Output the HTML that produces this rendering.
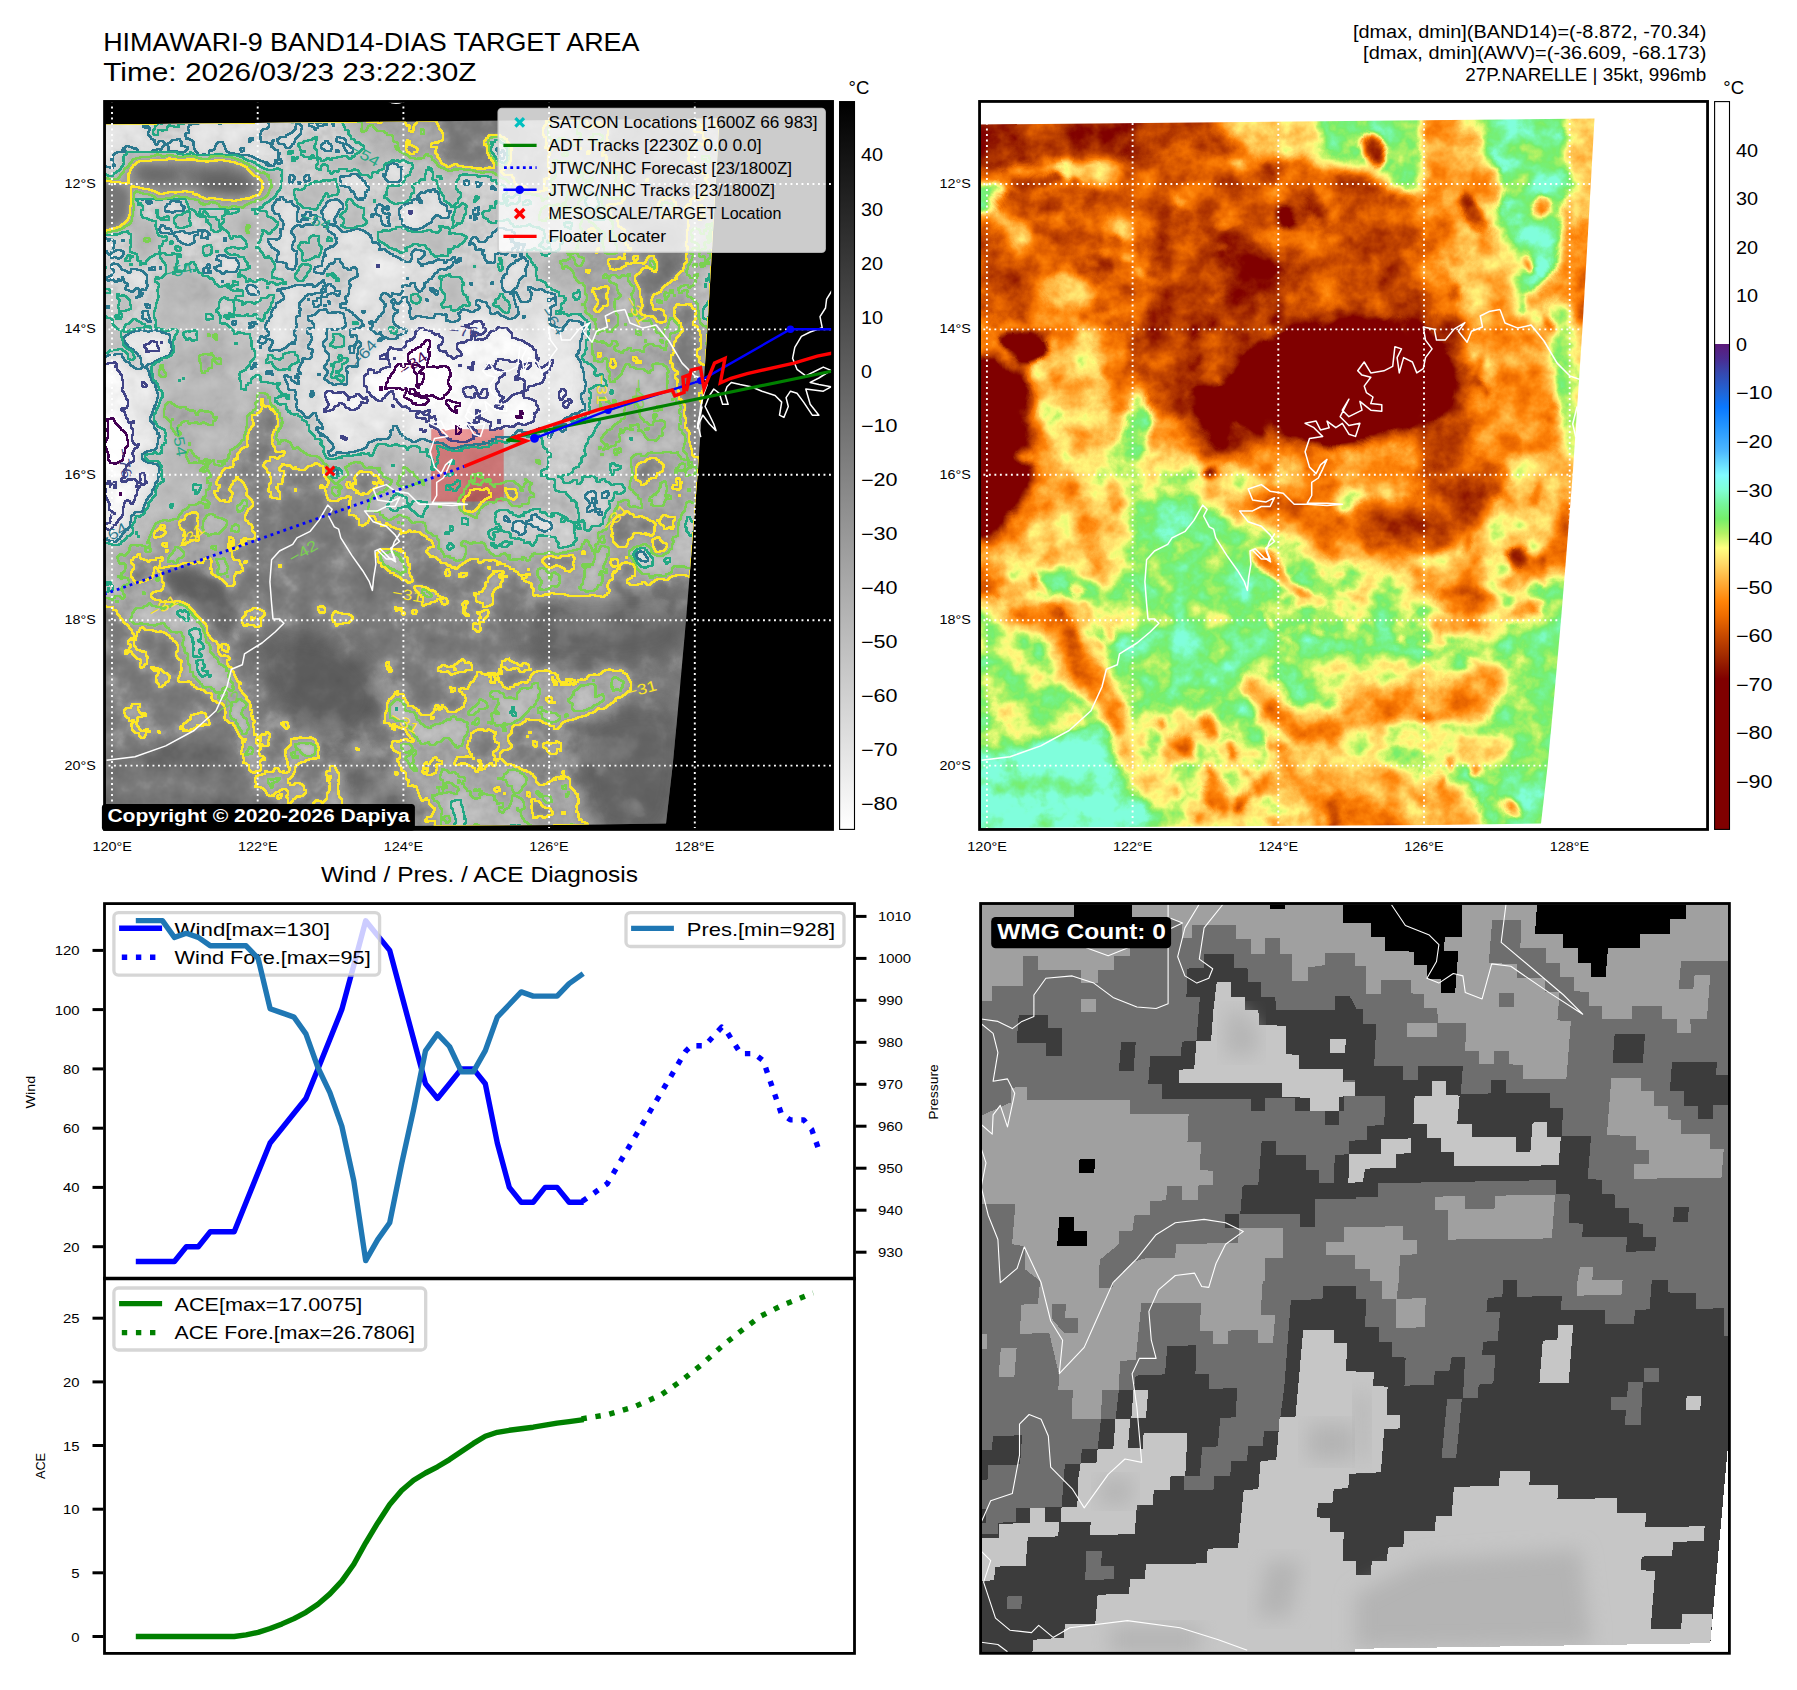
<!DOCTYPE html>
<html><head><meta charset="utf-8"><title>fig</title>
<style>html,body{margin:0;padding:0;background:#fff}svg{display:block}text{font-family:"Liberation Sans",sans-serif}</style>
</head><body>
<svg width="1797" height="1690" viewBox="0 0 1797 1690">
<rect width="1797" height="1690" fill="#fff"/>
<defs>
<clipPath id="clipA"><rect x="104.5" y="101.5" width="728" height="728"/></clipPath>
<clipPath id="clipB"><rect x="979.5" y="101.5" width="728" height="728"/></clipPath>
<clipPath id="clipD"><rect x="980.5" y="903.5" width="749" height="749"/></clipPath>
<linearGradient id="cbA" x1="0" y1="0" x2="0" y2="1"><stop offset="0" stop-color="#000"/><stop offset="1" stop-color="#fff"/></linearGradient>
<linearGradient id="cbB" x1="0" y1="0" x2="0" y2="1">

<stop offset="0" stop-color="#fff"/>
<stop offset="0.3333" stop-color="#fff"/>
<stop offset="0.3333" stop-color="#5c1a7a"/>
<stop offset="0.3533" stop-color="#4a2c92"/>
<stop offset="0.3733" stop-color="#3549b0"/>
<stop offset="0.4000" stop-color="#1f66d8"/>
<stop offset="0.4200" stop-color="#0a78ff"/>
<stop offset="0.4467" stop-color="#2496ff"/>
<stop offset="0.4800" stop-color="#4db8ff"/>
<stop offset="0.5133" stop-color="#80fbff"/>
<stop offset="0.5333" stop-color="#80ffd6"/>
<stop offset="0.5533" stop-color="#76f59a"/>
<stop offset="0.5733" stop-color="#74ee6a"/>
<stop offset="0.5933" stop-color="#b4f264"/>
<stop offset="0.6133" stop-color="#ffff80"/>
<stop offset="0.6333" stop-color="#ffdc6a"/>
<stop offset="0.6600" stop-color="#ffae3a"/>
<stop offset="0.6867" stop-color="#ff8408"/>
<stop offset="0.7067" stop-color="#ee6c00"/>
<stop offset="0.7333" stop-color="#c84a00"/>
<stop offset="0.7600" stop-color="#a42c00"/>
<stop offset="0.7800" stop-color="#8c1200"/>
<stop offset="0.7933" stop-color="#800000"/>
<stop offset="1.0000" stop-color="#800000"/>
</linearGradient>
<clipPath id="swA"><path d="M103,124.5 L719.5,118.6 L712,250 L707.3,330 L698,470 L690.9,560 L685.9,621 L679.6,692 L672.7,765 L666,823.4 L560,825 L103,828 Z"/></clipPath>
<clipPath id="swB"><path d="M103,124.5 L719.5,118.6 L712,250 L707.3,330 L698,470 L690.9,560 L685.9,621 L679.6,692 L672.7,765 L666,823.4 L560,825 L103,828 Z" transform="translate(875,0)"/></clipPath>
<filter id="bls" x="-20%" y="-20%" width="140%" height="140%"><feGaussianBlur stdDeviation="2"/></filter>
<filter id="blm" x="-20%" y="-20%" width="140%" height="140%"><feGaussianBlur stdDeviation="4.5"/></filter>
<filter id="bll" x="-20%" y="-20%" width="140%" height="140%"><feGaussianBlur stdDeviation="10"/></filter>
<filter id="blx" x="-20%" y="-20%" width="140%" height="140%"><feGaussianBlur stdDeviation="18"/></filter>
<g id="fld">
<rect x="960" y="90" width="770" height="760" fill="#505050"/>
<path d="M957.5,100.0C1067.0,23.4 1506.3,48.9 1614.3,100.0C1722.3,151.1 1617.2,333.5 1605.5,406.5C1593.9,479.5 1576.3,510.1 1544.2,537.9C1512.1,565.6 1456.7,572.9 1412.9,572.9C1369.1,572.9 1323.8,551.0 1281.5,537.9C1239.2,524.7 1191.7,494.1 1158.9,494.1C1126.1,494.1 1118.0,526.9 1084.5,537.9C1050.9,548.8 978.6,632.7 957.5,559.8C936.3,486.8 848.0,176.6 957.5,100.0Z" fill="#808080" filter="url(#bll)"/>
<path d="M957.5,572.9C978.6,521.8 1050.9,559.8 1084.5,546.6C1118.0,533.5 1126.1,494.8 1158.9,494.1C1191.7,493.4 1239.2,528.4 1281.5,542.2C1323.8,556.1 1369.1,576.5 1412.9,577.3C1456.7,578.0 1515.0,545.9 1544.2,546.6C1573.4,547.4 1580.7,530.6 1588.0,581.7C1595.3,632.7 1693.1,807.9 1588.0,853.1C1482.9,898.4 1062.6,899.8 957.5,853.1C852.4,806.4 936.3,624.0 957.5,572.9Z" fill="#3a3a3a" filter="url(#bll)"/>
<path d="M957.5,218.2C986.7,200.3 1102.7,199.2 1132.6,216.0C1162.6,232.8 1166.2,301.1 1137.0,318.9C1107.8,336.8 987.4,340.1 957.5,323.3C927.6,306.5 928.3,236.1 957.5,218.2Z" fill="#666666" filter="url(#bll)"/>
<path d="M1036.3,338.6C1052.4,312.7 1116.6,305.4 1132.6,338.6C1148.7,371.8 1140.7,504.7 1132.6,537.9C1124.6,571.1 1100.5,545.2 1084.5,537.9C1068.4,530.6 1044.3,527.3 1036.3,494.1C1028.3,460.9 1020.2,364.5 1036.3,338.6Z" fill="#666666" filter="url(#bll)"/>
<path d="M1141.4,310.2C1164.7,286.8 1258.2,297.8 1281.5,310.2C1304.9,322.6 1294.6,361.3 1281.5,384.6C1268.4,408.0 1226.0,439.3 1202.7,450.3C1179.3,461.2 1151.6,473.6 1141.4,450.3C1131.2,426.9 1118.0,333.5 1141.4,310.2Z" fill="#a8a8a8" filter="url(#bll)"/>
<path d="M1524.5,327.7C1534.0,307.3 1586.2,300.0 1596.8,327.7C1607.4,355.4 1594.6,451.8 1588.0,494.1C1581.4,536.4 1568.3,567.1 1557.4,581.7C1546.4,596.2 1525.3,603.5 1522.3,581.7C1519.4,559.8 1539.5,492.6 1539.8,450.3C1540.2,408.0 1515.0,348.1 1524.5,327.7Z" fill="#5b5b5b" filter="url(#bll)"/>
<path d="M1426.0,126.3C1436.2,106.6 1480.4,106.6 1491.7,126.3C1503.0,146.0 1504.1,224.8 1493.9,244.5C1483.7,264.2 1441.7,264.2 1430.4,244.5C1419.1,224.8 1415.8,146.0 1426.0,126.3Z" fill="#6d6d6d" filter="url(#bll)"/>
<path d="M1491.7,108.8C1510.3,95.6 1587.3,95.6 1605.5,108.8C1623.8,121.9 1619.8,174.4 1601.1,187.6C1582.5,200.7 1512.1,200.7 1493.9,187.6C1475.6,174.4 1473.1,121.9 1491.7,108.8Z" fill="#494949" filter="url(#bll)"/>
<path d="M957.5,599.2C967.7,583.8 1001.3,615.2 1018.8,629.8C1036.3,644.4 1051.6,671.4 1062.6,686.7C1073.5,702.1 1102.0,715.9 1084.5,721.8C1067.0,727.6 978.6,742.2 957.5,721.8C936.3,701.3 947.3,614.5 957.5,599.2Z" fill="#454545" filter="url(#bll)"/>
<path d="M957.5,721.8C971.4,698.4 1015.9,708.6 1040.7,713.0C1065.5,717.4 1089.6,733.4 1106.4,748.0C1123.1,762.6 1135.6,783.1 1141.4,800.6C1147.2,818.1 1172.0,844.4 1141.4,853.1C1110.7,861.9 988.1,875.0 957.5,853.1C926.8,831.2 943.6,745.1 957.5,721.8Z" fill="#242424" filter="url(#bll)"/>
<path d="M1150.1,748.0C1218.0,730.5 1490.2,730.5 1557.4,748.0C1624.5,765.6 1620.9,835.6 1553.0,853.1C1485.1,870.6 1217.3,870.6 1150.1,853.1C1083.0,835.6 1082.3,765.6 1150.1,748.0Z" fill="#5b5b5b" filter="url(#bll)"/>
<path d="M1412.9,559.8C1438.4,541.5 1541.3,541.5 1566.1,559.8C1590.9,578.0 1587.3,651.0 1561.7,669.2C1536.2,687.5 1437.7,687.5 1412.9,669.2C1388.1,651.0 1387.3,578.0 1412.9,559.8Z" fill="#4c4c4c" filter="url(#bll)"/>
<path d="M966.2,113.1C1004.2,104.4 1152.3,111.3 1193.9,113.1C1235.5,115.0 1210.3,119.0 1215.8,124.1C1221.3,129.2 1230.4,138.3 1226.8,143.8C1223.1,149.3 1209.6,153.3 1193.9,156.9C1178.2,160.6 1154.5,163.1 1132.6,165.7C1110.7,168.2 1081.5,172.2 1062.6,172.2C1043.6,172.2 1034.8,166.8 1018.8,165.7C1002.7,164.6 975.0,174.4 966.2,165.7C957.5,156.9 928.3,121.9 966.2,113.1Z" fill="#999999" filter="url(#blm)"/>
<path d="M1069.1,127.4C1079.0,123.5 1121.7,121.0 1132.6,125.2C1143.6,129.4 1139.2,147.2 1134.8,152.5C1130.4,157.8 1116.6,157.6 1106.3,156.9C1096.1,156.2 1079.7,153.1 1073.5,148.2C1067.3,143.2 1059.3,131.2 1069.1,127.4Z" fill="#a8a8a8" filter="url(#blm)"/>
<path d="M966.2,137.2C974.3,133.2 1004.6,136.1 1014.4,139.4C1024.3,142.7 1026.4,152.2 1025.4,156.9C1024.3,161.7 1017.7,166.8 1007.8,167.9C998.0,169.0 973.2,168.6 966.2,163.5C959.3,158.4 958.2,141.2 966.2,137.2Z" fill="#a8a8a8" filter="url(#blm)"/>
<path d="M1167.6,128.5C1169.5,125.5 1180.4,121.9 1193.9,126.3C1207.4,130.6 1243.2,149.6 1248.6,154.7C1254.1,159.8 1237.7,158.7 1226.8,156.9C1215.8,155.1 1192.8,148.5 1183.0,143.8C1173.1,139.0 1165.8,131.4 1167.6,128.5Z" fill="#9d9d9d" filter="url(#blm)"/>
<path d="M1003.5,172.2C1010.8,167.5 1041.8,164.6 1062.6,163.5C1083.4,162.4 1116.6,162.4 1128.2,165.7C1139.9,169.0 1143.6,179.5 1132.6,183.2C1121.7,186.8 1081.5,186.1 1062.6,187.6C1043.6,189.0 1028.6,194.5 1018.8,191.9C1008.9,189.4 996.2,177.0 1003.5,172.2Z" fill="#626262" filter="url(#blm)"/>
<path d="M1058.2,165.7C1060.7,162.6 1072.4,162.8 1075.7,165.7C1079.0,168.6 1080.4,180.1 1077.9,183.2C1075.3,186.3 1063.7,187.2 1060.4,184.3C1057.1,181.4 1055.6,168.8 1058.2,165.7Z" fill="#4c4c4c" filter="url(#bls)"/>
<path d="M1005.6,176.6C1010.4,173.7 1038.5,171.1 1047.2,172.2C1056.0,173.3 1062.9,180.3 1058.2,183.2C1053.4,186.1 1027.5,190.8 1018.8,189.8C1010.0,188.7 1000.9,179.5 1005.6,176.6Z" fill="#999999" filter="url(#bls)"/>
<path d="M966.2,185.4C971.7,179.7 992.9,182.1 999.1,184.3C1005.3,186.5 1003.8,193.2 1003.5,198.5C1003.1,203.8 1003.1,212.7 996.9,216.0C990.7,219.3 971.4,223.3 966.2,218.2C961.1,213.1 960.8,191.0 966.2,185.4Z" fill="#373737" filter="url(#bls)"/>
<path d="M1003.5,194.1C1022.4,189.2 1106.7,188.3 1128.2,189.8C1149.8,191.2 1133.0,198.0 1132.6,202.9C1132.3,207.8 1137.7,217.8 1126.1,219.3C1114.4,220.8 1081.2,211.6 1062.6,211.6C1044.0,211.6 1024.3,222.2 1014.4,219.3C1004.6,216.4 984.5,199.1 1003.5,194.1Z" fill="#959595" filter="url(#blm)"/>
<path d="M966.2,218.2C974.3,201.6 998.4,220.4 1014.4,219.3C1030.5,218.2 1042.9,211.6 1062.6,211.6C1082.3,211.6 1120.9,201.4 1132.6,219.3C1144.3,237.2 1160.3,302.3 1132.6,318.9C1104.9,335.5 994.0,335.7 966.2,318.9C938.5,302.1 958.2,234.8 966.2,218.2Z" fill="#878787" filter="url(#blm)"/>
<path d="M999.1,223.7C1001.6,220.0 1019.9,218.4 1025.4,220.4C1030.8,222.4 1034.5,232.1 1031.9,235.7C1029.4,239.4 1015.5,244.3 1010.0,242.3C1004.6,240.3 996.5,227.3 999.1,223.7Z" fill="#626262" filter="url(#blm)"/>
<path d="M1108.5,219.3C1111.5,215.7 1126.4,214.7 1130.4,218.2C1134.4,221.7 1135.5,236.5 1132.6,240.1C1129.7,243.8 1116.9,243.6 1112.9,240.1C1108.9,236.6 1105.6,223.0 1108.5,219.3Z" fill="#626262" filter="url(#blm)"/>
<path d="M1045.1,281.7C1048.2,277.5 1058.9,274.0 1066.9,275.1C1075.0,276.2 1089.6,282.8 1093.2,288.3C1096.9,293.7 1093.9,303.8 1088.8,308.0C1083.7,312.2 1069.3,314.7 1062.6,313.4C1055.8,312.2 1051.3,305.6 1048.3,300.3C1045.4,295.0 1042.0,285.9 1045.1,281.7Z" fill="#5f5f5f" filter="url(#blm)"/>
<path d="M983.8,266.4C988.1,255.4 1010.8,250.0 1018.8,253.2C1026.8,256.5 1030.5,275.1 1031.9,286.1C1033.4,297.0 1034.1,313.4 1027.5,318.9C1021.0,324.4 999.8,327.7 992.5,318.9C985.2,310.2 979.4,277.3 983.8,266.4Z" fill="#929292" filter="url(#blm)"/>
<path d="M1069.1,231.3C1073.5,226.6 1099.4,235.0 1106.3,242.3C1113.3,249.6 1115.1,270.4 1110.7,275.1C1106.3,279.9 1087.0,278.1 1080.1,270.8C1073.1,263.5 1064.8,236.1 1069.1,231.3Z" fill="#8e8e8e" filter="url(#blm)"/>
<path d="M1080.1,315.6C1081.2,313.8 1088.8,315.1 1091.0,316.7C1093.2,318.4 1094.3,323.7 1093.2,325.5C1092.1,327.3 1086.6,329.3 1084.5,327.7C1082.3,326.0 1079.0,317.5 1080.1,315.6Z" fill="#afafaf" filter="url(#bls)"/>
<path d="M966.2,318.9C994.0,315.3 1104.9,315.3 1132.6,318.9C1160.3,322.6 1160.3,337.2 1132.6,340.8C1104.9,344.5 994.0,344.5 966.2,340.8C938.5,337.2 938.5,322.6 966.2,318.9Z" fill="#757575" filter="url(#blm)"/>
<path d="M1003.5,332.0C1011.9,328.4 1050.5,330.2 1060.4,332.0C1070.2,333.9 1064.8,339.7 1062.6,343.0C1060.4,346.3 1051.3,348.1 1047.2,351.8C1043.2,355.4 1042.5,362.5 1038.5,364.9C1034.5,367.3 1027.9,367.8 1023.2,366.0C1018.4,364.2 1013.3,359.6 1010.0,353.9C1006.7,348.3 995.1,335.7 1003.5,332.0Z" fill="#c5c5c5" filter="url(#bls)"/>
<path d="M1029.7,340.8C1046.5,329.1 1114.7,313.8 1132.6,336.4C1150.5,359.0 1152.3,453.2 1137.0,476.5C1121.7,499.9 1058.2,488.2 1040.7,476.5C1023.2,464.9 1033.7,429.1 1031.9,406.5C1030.1,383.9 1012.9,352.5 1029.7,340.8Z" fill="#6d6d6d" filter="url(#blm)"/>
<path d="M966.2,362.7C975.0,343.7 1006.7,359.0 1018.8,362.7C1030.8,366.3 1034.1,373.6 1038.5,384.6C1042.9,395.5 1044.3,413.0 1045.1,428.4C1045.8,443.7 1056.0,468.5 1042.9,476.5C1029.7,484.6 979.0,495.5 966.2,476.5C953.5,457.6 957.5,381.7 966.2,362.7Z" fill="#929292" filter="url(#bll)"/>
<path d="M966.2,371.5C973.2,353.8 998.5,368.2 1007.8,370.4C1017.1,372.5 1019.0,374.9 1022.1,384.6C1025.2,394.3 1026.1,413.0 1026.4,428.4C1026.8,443.7 1034.3,468.5 1024.3,476.5C1014.2,484.6 975.9,494.0 966.2,476.5C956.6,459.0 959.3,389.1 966.2,371.5Z" fill="#c8c8c8" filter="url(#blm)"/>
<path d="M1031.9,373.6C1030.5,356.1 1041.4,354.3 1049.4,371.5C1057.5,388.6 1078.6,459.0 1080.1,476.5C1081.5,494.0 1066.2,493.7 1058.2,476.5C1050.2,459.4 1033.4,391.2 1031.9,373.6Z" fill="#545454" filter="url(#blm)"/>
<path d="M1071.3,340.8C1072.1,331.0 1083.0,325.5 1088.8,336.4C1094.7,347.4 1102.0,383.1 1106.3,406.5C1110.7,429.8 1116.6,464.9 1115.1,476.5C1113.6,488.2 1102.7,490.0 1097.6,476.5C1092.5,463.0 1088.8,418.2 1084.5,395.5C1080.1,372.9 1070.6,350.7 1071.3,340.8Z" fill="#545454" filter="url(#blm)"/>
<path d="M1097.6,340.8C1100.5,328.4 1126.4,321.1 1132.6,332.0C1138.8,343.0 1137.7,394.1 1134.8,406.5C1131.9,418.9 1121.3,417.4 1115.1,406.5C1108.9,395.5 1094.7,353.2 1097.6,340.8Z" fill="#808080" filter="url(#blm)"/>
<path d="M1141.4,384.6C1145.4,380.2 1149.8,385.7 1152.3,391.2C1154.9,396.6 1157.1,409.0 1156.7,417.4C1156.3,425.8 1150.1,431.7 1150.1,441.5C1150.1,451.4 1167.6,470.7 1156.7,476.5C1145.8,482.4 1095.0,480.9 1084.5,476.5C1073.9,472.2 1088.1,456.1 1093.2,450.3C1098.3,444.4 1109.3,447.0 1115.1,441.5C1120.9,436.0 1123.9,426.9 1128.2,417.4C1132.6,407.9 1137.4,389.0 1141.4,384.6Z" fill="#373737" filter="url(#blm)"/>
<path d="M1132.6,154.7C1157.4,143.4 1256.7,142.7 1281.5,154.7C1306.3,166.8 1292.4,215.7 1281.5,227.0C1270.5,238.3 1235.9,222.6 1215.8,222.6C1195.7,222.6 1174.9,227.0 1161.1,227.0C1147.2,227.0 1137.4,234.6 1132.6,222.6C1127.9,210.6 1107.8,166.0 1132.6,154.7Z" fill="#8a8a8a" filter="url(#bll)"/>
<path d="M1161.1,229.2C1164.7,225.5 1184.8,232.1 1193.9,231.3C1203.0,230.6 1206.7,224.8 1215.8,224.8C1224.9,224.8 1239.5,226.6 1248.6,231.3C1257.8,236.1 1265.4,245.2 1270.5,253.2C1275.6,261.3 1279.3,272.2 1279.3,279.5C1279.3,286.8 1275.6,295.6 1270.5,297.0C1265.4,298.5 1255.9,291.9 1248.6,288.3C1241.3,284.6 1235.9,276.2 1226.8,275.1C1217.6,274.0 1203.0,285.3 1193.9,281.7C1184.8,278.1 1177.5,262.0 1172.0,253.2C1166.5,244.5 1157.4,232.8 1161.1,229.2Z" fill="#a8a8a8" filter="url(#blm)"/>
<path d="M1233.3,244.5C1238.8,243.0 1258.9,248.1 1266.2,253.2C1273.5,258.3 1276.7,268.6 1277.1,275.1C1277.5,281.7 1273.5,291.9 1268.3,292.6C1263.2,293.4 1252.3,284.6 1246.5,279.5C1240.6,274.4 1235.5,267.8 1233.3,262.0C1231.1,256.2 1227.8,245.9 1233.3,244.5Z" fill="#bdbdbd" filter="url(#blm)"/>
<path d="M1193.9,310.2C1195.7,306.1 1214.0,299.2 1226.8,297.0C1239.5,294.8 1261.4,294.1 1270.5,297.0C1279.7,299.9 1285.1,309.8 1281.5,314.5C1277.8,319.3 1259.6,324.4 1248.6,325.5C1237.7,326.6 1224.9,323.7 1215.8,321.1C1206.7,318.5 1192.1,314.2 1193.9,310.2Z" fill="#a8a8a8" filter="url(#blm)"/>
<path d="M1178.6,265.3C1179.9,264.2 1185.0,264.2 1186.3,265.3C1187.5,266.4 1187.5,270.8 1186.3,271.8C1185.0,272.9 1179.9,272.9 1178.6,271.8C1177.3,270.8 1177.3,266.4 1178.6,265.3Z" fill="#bdbdbd" filter="url(#bls)"/>
<path d="M1215.8,113.1C1222.7,108.8 1268.7,106.2 1279.3,113.1C1289.9,120.1 1282.6,147.4 1279.3,154.7C1276.0,162.0 1266.5,159.5 1259.6,156.9C1252.7,154.4 1245.0,146.7 1237.7,139.4C1230.4,132.1 1208.9,117.5 1215.8,113.1Z" fill="#626262" filter="url(#blm)"/>
<path d="M1281.5,113.1C1293.2,105.8 1339.9,104.4 1351.5,113.1C1363.2,121.9 1355.9,155.8 1351.5,165.7C1347.2,175.5 1334.0,173.7 1325.3,172.2C1316.5,170.8 1306.3,159.5 1299.0,156.9C1291.7,154.4 1284.4,164.2 1281.5,156.9C1278.6,149.6 1269.8,120.4 1281.5,113.1Z" fill="#545454" filter="url(#blm)"/>
<path d="M1316.5,113.1C1320.2,106.9 1345.7,105.8 1351.5,113.1C1357.4,120.4 1355.2,150.7 1351.5,156.9C1347.9,163.1 1335.5,157.6 1329.6,150.4C1323.8,143.1 1312.9,119.3 1316.5,113.1Z" fill="#3a3a3a" filter="url(#blm)"/>
<path d="M1281.5,187.6C1293.2,165.7 1339.9,165.7 1351.5,187.6C1363.2,209.5 1363.2,297.0 1351.5,318.9C1339.9,340.8 1293.2,340.8 1281.5,318.9C1269.8,297.0 1269.8,209.5 1281.5,187.6Z" fill="#878787" filter="url(#bll)"/>
<path d="M1279.3,209.5C1281.1,206.9 1289.9,207.3 1292.4,209.5C1295.0,211.6 1296.4,220.0 1294.6,222.6C1292.8,225.1 1284.0,227.0 1281.5,224.8C1278.9,222.6 1277.5,212.0 1279.3,209.5Z" fill="#bdbdbd" filter="url(#bls)"/>
<path d="M1305.6,196.3C1305.2,190.8 1312.5,192.7 1316.5,198.5C1320.5,204.3 1329.3,225.9 1329.6,231.3C1330.0,236.8 1322.7,237.2 1318.7,231.3C1314.7,225.5 1305.9,201.8 1305.6,196.3Z" fill="#a0a0a0" filter="url(#bls)"/>
<path d="M1134.8,329.9C1157.8,320.4 1255.2,322.2 1279.3,327.7C1303.4,333.1 1286.2,355.8 1279.3,362.7C1272.4,369.6 1251.9,366.0 1237.7,369.3C1223.5,372.5 1204.9,376.2 1193.9,382.4C1183.0,388.6 1178.2,400.6 1172.0,406.5C1165.8,412.3 1161.8,421.1 1156.7,417.4C1151.6,413.8 1145.0,399.2 1141.4,384.6C1137.7,370.0 1111.8,339.3 1134.8,329.9Z" fill="#959595" filter="url(#blm)"/>
<path d="M1156.7,417.4C1162.9,408.7 1185.5,420.0 1193.9,424.0C1202.3,428.0 1202.7,436.4 1207.0,441.5C1211.4,446.6 1212.9,455.4 1220.2,454.6C1227.5,453.9 1240.6,441.5 1250.8,437.1C1261.0,432.7 1276.4,421.8 1281.5,428.4C1286.6,434.9 1302.3,468.5 1281.5,476.5C1260.7,484.6 1177.5,486.4 1156.7,476.5C1135.9,466.7 1150.5,426.2 1156.7,417.4Z" fill="#6d6d6d" filter="url(#blm)"/>
<path d="M1279.3,327.7C1283.7,317.1 1291.3,322.6 1303.4,321.1C1315.4,319.6 1343.5,301.8 1351.5,318.9C1359.6,336.1 1363.2,406.1 1351.5,424.0C1339.9,441.9 1293.9,432.7 1281.5,426.2C1269.1,419.6 1277.5,401.0 1277.1,384.6C1276.7,368.2 1274.9,338.3 1279.3,327.7Z" fill="#c5c5c5" filter="url(#bls)"/>
<path d="M1193.9,382.4C1197.9,378.8 1204.9,378.8 1211.4,380.2C1218.0,381.7 1228.9,393.0 1233.3,391.2C1237.7,389.3 1233.3,374.4 1237.7,369.3C1242.1,364.2 1252.3,361.6 1259.6,360.5C1266.9,359.4 1277.8,352.1 1281.5,362.7C1285.1,373.3 1283.7,413.0 1281.5,424.0C1279.3,434.9 1272.0,425.5 1268.3,428.4C1264.7,431.3 1262.5,440.8 1259.6,441.5C1256.7,442.2 1255.2,436.4 1250.8,432.7C1246.5,429.1 1237.7,418.2 1233.3,419.6C1228.9,421.1 1226.8,436.0 1224.6,441.5C1222.4,447.0 1222.4,451.0 1220.2,452.5C1218.0,453.9 1213.6,453.2 1211.4,450.3C1209.2,447.3 1210.0,439.3 1207.0,434.9C1204.1,430.6 1197.2,429.5 1193.9,424.0C1190.6,418.5 1187.3,409.0 1187.3,402.1C1187.3,395.2 1189.9,386.0 1193.9,382.4Z" fill="#c1c1c1" filter="url(#bls)"/>
<path d="M1340.0,113.1C1353.9,104.0 1409.3,101.5 1423.2,113.1C1437.1,124.8 1426.1,170.1 1423.2,183.2C1420.3,196.3 1412.2,191.9 1405.7,191.9C1399.1,191.9 1391.1,186.5 1383.8,183.2C1376.5,179.9 1369.2,174.8 1361.9,172.2C1354.6,169.7 1343.6,177.7 1340.0,167.9C1336.4,158.0 1326.1,122.3 1340.0,113.1Z" fill="#3a3a3a" filter="url(#blm)"/>
<path d="M1361.9,137.2C1363.0,132.8 1369.2,131.7 1372.8,135.0C1376.5,138.3 1382.7,151.4 1383.8,156.9C1384.9,162.4 1382.3,167.1 1379.4,167.9C1376.5,168.6 1369.2,166.4 1366.3,161.3C1363.4,156.2 1360.8,141.6 1361.9,137.2Z" fill="#a0a0a0" filter="url(#bls)"/>
<path d="M1427.6,113.1C1437.8,100.0 1480.8,101.5 1493.2,113.1C1505.6,124.8 1502.0,162.8 1502.0,183.2C1502.0,203.6 1499.8,226.2 1493.2,235.7C1486.7,245.2 1472.8,247.4 1462.6,240.1C1452.4,232.8 1437.8,213.1 1431.9,191.9C1426.1,170.8 1417.3,126.3 1427.6,113.1Z" fill="#6d6d6d" filter="url(#blm)"/>
<path d="M1462.6,113.1C1467.0,104.4 1499.1,106.2 1506.4,113.1C1513.7,120.1 1510.8,146.0 1506.4,154.7C1502.0,163.5 1487.4,172.6 1480.1,165.7C1472.8,158.7 1458.2,121.9 1462.6,113.1Z" fill="#575757" filter="url(#blm)"/>
<path d="M1462.6,196.3C1464.4,194.5 1471.0,197.1 1475.7,202.9C1480.5,208.7 1490.3,226.2 1491.1,231.3C1491.8,236.5 1484.5,236.5 1480.1,233.5C1475.7,230.6 1467.7,220.0 1464.8,213.8C1461.9,207.6 1460.8,198.1 1462.6,196.3Z" fill="#a8a8a8" filter="url(#bls)"/>
<path d="M1480.1,113.1C1494.3,108.0 1554.9,101.5 1569.9,113.1C1584.8,124.8 1571.7,159.8 1569.9,183.2C1568.0,206.5 1564.4,234.3 1558.9,253.2C1553.4,272.2 1543.6,286.1 1537.0,297.0C1530.5,308.0 1524.6,319.6 1519.5,318.9C1514.4,318.2 1510.8,303.6 1506.4,292.6C1502.0,281.7 1494.0,271.5 1493.2,253.2C1492.5,235.0 1503.5,201.4 1502.0,183.2C1500.5,164.9 1488.1,155.5 1484.5,143.8C1480.8,132.1 1465.9,118.2 1480.1,113.1Z" fill="#333333" filter="url(#blm)"/>
<path d="M1519.5,213.8C1523.9,210.2 1542.9,221.9 1548.0,231.3C1553.1,240.8 1552.7,261.6 1550.2,270.8C1547.6,279.9 1537.4,289.0 1532.6,286.1C1527.9,283.2 1523.9,265.3 1521.7,253.2C1519.5,241.2 1515.1,217.5 1519.5,213.8Z" fill="#282828" filter="url(#blm)"/>
<path d="M1537.0,196.3C1539.2,194.1 1548.3,197.1 1550.2,200.7C1552.0,204.3 1550.2,216.0 1548.0,218.2C1545.8,220.4 1538.8,217.5 1537.0,213.8C1535.2,210.2 1534.8,198.5 1537.0,196.3Z" fill="#6d6d6d" filter="url(#bls)"/>
<path d="M1569.9,113.1C1575.3,93.4 1598.0,93.4 1602.7,113.1C1607.4,132.8 1600.1,197.1 1598.3,231.3C1596.5,265.6 1596.1,304.3 1591.8,318.9C1587.4,333.5 1575.7,333.5 1572.0,318.9C1568.4,304.3 1570.2,265.6 1569.9,231.3C1569.5,197.1 1564.4,132.8 1569.9,113.1Z" fill="#5f5f5f" filter="url(#blm)"/>
<path d="M1576.4,222.6C1580.3,208.4 1595.8,207.3 1598.3,222.6C1600.9,237.9 1595.6,300.3 1591.8,314.5C1587.9,328.8 1577.9,323.3 1575.3,308.0C1572.8,292.6 1572.6,236.8 1576.4,222.6Z" fill="#808080" filter="url(#blm)"/>
<path d="M1340.0,172.2C1343.6,148.2 1352.8,171.1 1361.9,174.4C1371.0,177.7 1384.5,183.9 1394.7,191.9C1404.9,200.0 1417.7,208.7 1423.2,222.6C1428.7,236.5 1427.6,259.1 1427.6,275.1C1427.6,291.2 1437.8,311.6 1423.2,318.9C1408.6,326.2 1353.9,343.4 1340.0,318.9C1326.1,294.5 1336.4,196.3 1340.0,172.2Z" fill="#929292" filter="url(#bll)"/>
<path d="M1423.2,187.6C1425.0,166.8 1430.5,175.9 1438.5,194.1C1446.5,212.4 1467.3,276.2 1471.3,297.0C1475.4,317.8 1469.9,315.3 1462.6,318.9C1455.3,322.6 1434.1,340.8 1427.6,318.9C1421.0,297.0 1421.4,208.4 1423.2,187.6Z" fill="#7c7c7c" filter="url(#blm)"/>
<path d="M1436.3,231.3C1438.1,229.9 1447.3,246.7 1453.8,257.6C1460.4,268.6 1474.3,290.5 1475.7,297.0C1477.2,303.6 1468.1,302.1 1462.6,297.0C1457.1,291.9 1447.3,277.3 1442.9,266.4C1438.5,255.4 1434.5,232.8 1436.3,231.3Z" fill="#5b5b5b" filter="url(#blm)"/>
<path d="M1462.6,242.3C1471.3,229.5 1506.4,229.5 1515.1,242.3C1523.9,255.1 1523.9,306.1 1515.1,318.9C1506.4,331.7 1471.3,331.7 1462.6,318.9C1453.8,306.1 1453.8,255.1 1462.6,242.3Z" fill="#626262" filter="url(#bll)"/>
<path d="M1427.6,318.9C1433.4,311.6 1455.3,311.6 1462.6,318.9C1469.9,326.2 1472.8,348.1 1471.3,362.7C1469.9,377.3 1461.1,395.5 1453.8,406.5C1446.5,417.4 1433.8,430.2 1427.6,428.4C1421.4,426.5 1416.6,406.5 1416.6,395.5C1416.6,384.6 1425.7,375.5 1427.6,362.7C1429.4,349.9 1421.7,326.2 1427.6,318.9Z" fill="#9d9d9d" filter="url(#blm)"/>
<path d="M1331.2,318.9C1336.4,298.8 1346.6,318.9 1361.9,321.1C1377.2,323.3 1412.2,325.1 1423.2,332.0C1434.1,339.0 1428.7,352.1 1427.6,362.7C1426.5,373.3 1422.1,384.6 1416.6,395.5C1411.1,406.5 1403.8,420.7 1394.7,428.4C1385.6,436.0 1372.5,439.3 1361.9,441.5C1351.3,443.7 1336.4,461.9 1331.2,441.5C1326.1,421.1 1326.1,339.0 1331.2,318.9Z" fill="#c5c5c5" filter="url(#bls)"/>
<path d="M1462.6,329.9C1473.5,324.8 1521.0,326.6 1537.0,332.0C1553.1,337.5 1555.3,346.6 1558.9,362.7C1562.6,378.8 1562.6,409.4 1558.9,428.4C1555.3,447.3 1551.6,468.5 1537.0,476.5C1522.4,484.6 1485.2,488.2 1471.3,476.5C1457.5,464.9 1453.8,425.5 1453.8,406.5C1453.8,387.5 1469.9,375.5 1471.3,362.7C1472.8,349.9 1451.6,335.0 1462.6,329.9Z" fill="#757575" filter="url(#bll)"/>
<path d="M1467.0,358.3C1469.2,349.9 1484.5,347.4 1488.9,351.8C1493.2,356.1 1495.4,376.2 1493.2,384.6C1491.1,393.0 1480.1,406.5 1475.7,402.1C1471.3,397.7 1464.8,366.7 1467.0,358.3Z" fill="#5b5b5b" filter="url(#blm)"/>
<path d="M1431.9,428.4C1437.8,418.5 1454.6,409.4 1462.6,417.4C1470.6,425.5 1485.9,466.7 1480.1,476.5C1474.3,486.4 1435.6,484.6 1427.6,476.5C1419.5,468.5 1426.1,438.2 1431.9,428.4Z" fill="#929292" filter="url(#blm)"/>
<path d="M1532.6,318.9C1534.1,309.8 1552.3,297.0 1558.9,297.0C1565.5,297.0 1568.0,306.1 1572.0,318.9C1576.1,331.7 1581.5,347.4 1583.0,373.6C1584.5,399.9 1584.8,459.4 1580.8,476.5C1576.8,493.7 1562.6,488.2 1558.9,476.5C1555.3,464.9 1560.4,427.3 1558.9,406.5C1557.5,385.7 1554.5,366.3 1550.2,351.8C1545.8,337.2 1531.2,328.0 1532.6,318.9Z" fill="#494949" filter="url(#blm)"/>
<path d="M1390.4,441.5C1393.6,437.5 1406.8,434.9 1412.2,437.1C1417.7,439.3 1424.3,448.1 1423.2,454.6C1422.1,461.2 1410.8,475.4 1405.7,476.5C1400.6,477.6 1395.1,467.0 1392.5,461.2C1390.0,455.4 1387.1,445.5 1390.4,441.5Z" fill="#3a3a3a" filter="url(#bls)"/>
<path d="M1331.2,441.5C1336.4,435.7 1351.3,443.7 1361.9,441.5C1372.5,439.3 1383.8,430.6 1394.7,428.4C1405.7,426.2 1422.1,420.3 1427.6,428.4C1433.0,436.4 1443.6,468.5 1427.6,476.5C1411.5,484.6 1347.3,482.4 1331.2,476.5C1315.2,470.7 1326.1,447.3 1331.2,441.5Z" fill="#666666" filter="url(#blm)"/>
<path d="M966.2,465.0C994.0,439.5 1104.9,439.5 1132.6,465.0C1160.3,490.5 1160.3,592.7 1132.6,618.2C1104.9,643.8 994.0,643.8 966.2,618.2C938.5,592.7 938.5,490.5 966.2,465.0Z" fill="#5b5b5b" filter="url(#bll)"/>
<path d="M966.2,465.0C979.7,449.7 1032.6,461.4 1047.2,465.0C1061.8,468.6 1055.6,477.8 1053.8,486.9C1052.0,496.0 1044.0,509.5 1036.3,519.7C1028.6,529.9 1019.5,542.0 1007.8,548.2C996.2,554.4 973.2,570.8 966.2,556.9C959.3,543.1 952.7,480.3 966.2,465.0Z" fill="#808080" filter="url(#bll)"/>
<path d="M966.2,460.6C976.1,448.2 1014.4,457.7 1025.4,460.6C1036.3,463.5 1031.9,472.3 1031.9,478.1C1031.9,484.0 1029.4,489.4 1025.4,495.6C1021.3,501.9 1013.3,509.5 1007.8,515.4C1002.4,521.2 999.4,527.4 992.5,530.7C985.6,534.0 970.6,546.7 966.2,535.1C961.9,523.4 956.4,473.0 966.2,460.6Z" fill="#c8c8c8" filter="url(#blm)"/>
<path d="M1058.2,486.9C1057.1,478.9 1064.8,475.2 1071.3,482.5C1077.9,489.8 1091.8,517.5 1097.6,530.7C1103.4,543.8 1107.1,556.2 1106.3,561.3C1105.6,566.4 1098.0,566.4 1093.2,561.3C1088.5,556.2 1083.7,543.1 1077.9,530.7C1072.1,518.3 1059.3,494.9 1058.2,486.9Z" fill="#757575" filter="url(#blm)"/>
<path d="M1106.3,486.9C1107.1,482.1 1116.6,481.1 1119.5,484.7C1122.4,488.4 1124.6,504.0 1123.9,508.8C1123.1,513.5 1118.0,516.8 1115.1,513.2C1112.2,509.5 1105.6,491.6 1106.3,486.9Z" fill="#757575" filter="url(#bls)"/>
<path d="M966.2,570.1C971.7,565.3 992.5,565.7 999.1,567.9C1005.6,570.1 1006.4,578.5 1005.6,583.2C1004.9,588.0 1001.3,594.2 994.7,596.3C988.1,598.5 971.0,600.7 966.2,596.3C961.5,592.0 960.8,574.8 966.2,570.1Z" fill="#878787" filter="url(#blm)"/>
<path d="M1031.9,570.1C1037.8,566.8 1056.0,565.7 1066.9,567.9C1077.9,570.1 1087.4,579.9 1097.6,583.2C1107.8,586.5 1123.1,581.8 1128.2,587.6C1133.3,593.4 1133.3,613.9 1128.2,618.2C1123.1,622.6 1108.5,617.5 1097.6,613.9C1086.6,610.2 1073.5,600.7 1062.6,596.3C1051.6,592.0 1037.0,592.0 1031.9,587.6C1026.8,583.2 1026.1,573.4 1031.9,570.1Z" fill="#3e3e3e" filter="url(#blm)"/>
<path d="M1132.6,491.3C1139.2,479.6 1161.1,482.5 1172.0,482.5C1183.0,482.5 1192.8,485.1 1198.3,491.3C1203.8,497.5 1191.7,502.2 1204.9,519.7C1218.0,537.2 1264.3,572.6 1277.1,596.3C1289.9,620.1 1284.4,643.8 1281.5,662.0C1278.6,680.3 1270.5,696.7 1259.6,705.8C1248.6,714.9 1230.4,716.8 1215.8,716.8C1201.2,716.8 1185.9,711.3 1172.0,705.8C1158.2,700.3 1142.1,693.0 1132.6,683.9C1123.1,674.8 1115.8,662.0 1115.1,651.1C1114.4,640.1 1125.3,634.7 1128.2,618.2C1131.2,601.8 1131.9,573.7 1132.6,552.6C1133.3,531.4 1126.1,502.9 1132.6,491.3Z" fill="#373737" filter="url(#bll)"/>
<path d="M1150.1,495.6C1156.0,489.4 1177.9,485.1 1185.2,489.1C1192.5,493.1 1196.8,511.7 1193.9,519.7C1191.0,527.8 1174.9,536.1 1167.6,537.2C1160.3,538.3 1153.1,533.2 1150.1,526.3C1147.2,519.4 1144.3,501.9 1150.1,495.6Z" fill="#2c2c2c" filter="url(#blm)"/>
<path d="M966.2,622.6C975.0,601.8 1006.4,625.5 1018.8,631.4C1031.2,637.2 1032.6,646.7 1040.7,657.6C1048.7,668.6 1058.2,685.4 1066.9,697.0C1075.7,708.7 1086.6,719.3 1093.2,727.7C1099.8,736.1 1111.5,745.2 1106.3,747.4C1101.2,749.6 1077.2,740.5 1062.6,740.8C1048.0,741.2 1034.8,747.0 1018.8,749.6C1002.7,752.1 975.0,777.3 966.2,756.2C957.5,735.0 957.5,643.4 966.2,622.6Z" fill="#454545" filter="url(#bll)"/>
<path d="M1001.3,605.1C1007.5,599.3 1033.4,589.1 1047.2,592.0C1061.1,594.9 1073.9,610.9 1084.5,622.6C1095.0,634.3 1103.4,650.0 1110.7,662.0C1118.0,674.1 1122.4,683.9 1128.2,694.9C1134.1,705.8 1134.8,720.4 1145.8,727.7C1156.7,735.0 1184.1,733.5 1193.9,738.6C1203.8,743.8 1206.7,751.0 1204.9,758.3C1203.0,765.6 1193.5,778.8 1183.0,782.4C1172.4,786.1 1153.4,785.0 1141.4,780.2C1129.3,775.5 1119.5,764.5 1110.7,754.0C1102.0,743.4 1096.9,728.4 1088.8,716.8C1080.8,705.1 1070.6,694.9 1062.6,683.9C1054.5,673.0 1049.4,660.6 1040.7,651.1C1031.9,641.6 1016.6,634.7 1010.0,627.0C1003.5,619.3 995.1,610.9 1001.3,605.1Z" fill="#575757" filter="url(#blm)"/>
<path d="M1014.4,609.5C1018.4,605.1 1037.4,597.8 1047.2,600.7C1057.1,603.6 1065.8,617.5 1073.5,627.0C1081.2,636.5 1086.3,648.2 1093.2,657.6C1100.1,667.1 1109.3,674.1 1115.1,683.9C1120.9,693.8 1123.9,706.5 1128.2,716.8C1132.6,727.0 1134.1,739.7 1141.4,745.2C1148.7,750.7 1164.0,749.6 1172.0,749.6C1180.0,749.6 1185.9,743.8 1189.5,745.2C1193.2,746.7 1196.8,754.0 1193.9,758.3C1191.0,762.7 1180.8,770.0 1172.0,771.5C1163.3,772.9 1150.5,772.6 1141.4,767.1C1132.3,761.6 1124.6,748.9 1117.3,738.6C1110.0,728.4 1104.5,714.2 1097.6,705.8C1090.7,697.4 1081.5,696.3 1075.7,688.3C1069.9,680.3 1068.4,666.4 1062.6,657.6C1056.7,648.9 1047.2,640.9 1040.7,635.8C1034.1,630.6 1027.5,631.4 1023.2,627.0C1018.8,622.6 1010.4,613.9 1014.4,609.5Z" fill="#757575" filter="url(#blm)"/>
<path d="M1040.7,609.5C1039.2,603.6 1048.0,601.5 1053.8,605.1C1059.6,608.8 1069.9,621.9 1075.7,631.4C1081.5,640.9 1088.5,656.9 1088.8,662.0C1089.2,667.1 1082.3,665.7 1077.9,662.0C1073.5,658.4 1068.8,648.9 1062.6,640.1C1056.4,631.4 1042.1,615.3 1040.7,609.5Z" fill="#808080" filter="url(#bls)"/>
<path d="M1073.5,675.2C1072.8,670.4 1083.4,668.6 1088.8,673.0C1094.3,677.3 1105.6,696.7 1106.3,701.4C1107.1,706.2 1098.7,705.8 1093.2,701.4C1087.7,697.0 1074.2,679.9 1073.5,675.2Z" fill="#808080" filter="url(#bls)"/>
<path d="M1108.5,712.4C1109.6,709.1 1116.9,707.6 1119.5,710.2C1122.0,712.7 1125.0,724.4 1123.9,727.7C1122.8,731.0 1115.5,732.4 1112.9,729.9C1110.4,727.3 1107.4,715.7 1108.5,712.4Z" fill="#808080" filter="url(#bls)"/>
<path d="M988.1,705.8C989.6,702.9 998.4,701.8 1001.3,703.6C1004.2,705.4 1007.1,713.8 1005.6,716.8C1004.2,719.7 995.4,723.0 992.5,721.1C989.6,719.3 986.7,708.7 988.1,705.8Z" fill="#545454" filter="url(#bls)"/>
<path d="M966.2,758.3C973.2,744.1 992.5,759.4 1007.8,756.2C1023.2,752.9 1043.2,744.1 1058.2,738.6C1073.1,733.2 1088.1,720.8 1097.6,723.3C1107.1,725.9 1109.3,745.9 1115.1,754.0C1120.9,762.0 1126.8,762.7 1132.6,771.5C1138.5,780.2 1146.5,794.8 1150.1,806.5C1153.8,818.2 1185.2,835.7 1154.5,841.5C1123.9,847.4 997.6,855.4 966.2,841.5C934.9,827.7 959.3,772.6 966.2,758.3Z" fill="#242424" filter="url(#blm)"/>
<path d="M1132.6,716.8C1157.4,707.6 1256.7,696.0 1281.5,716.8C1306.3,737.5 1302.6,820.7 1281.5,841.5C1260.3,862.3 1176.4,847.4 1154.5,841.5C1132.6,835.7 1153.8,818.2 1150.1,806.5C1146.5,794.8 1135.5,786.4 1132.6,771.5C1129.7,756.5 1107.8,725.9 1132.6,716.8Z" fill="#505050" filter="url(#bll)"/>
<path d="M1202.7,718.9C1204.1,716.0 1213.3,717.5 1215.8,721.1C1218.4,724.8 1219.5,737.9 1218.0,740.8C1216.5,743.8 1209.6,742.3 1207.0,738.6C1204.5,735.0 1201.2,721.9 1202.7,718.9Z" fill="#7c7c7c" filter="url(#bls)"/>
<path d="M1172.0,740.8C1174.2,737.5 1186.3,736.1 1189.5,738.6C1192.8,741.2 1193.9,752.9 1191.7,756.2C1189.5,759.4 1179.7,760.9 1176.4,758.3C1173.1,755.8 1169.8,744.1 1172.0,740.8Z" fill="#7c7c7c" filter="url(#bls)"/>
<path d="M1202.7,780.2C1205.2,775.5 1218.4,774.4 1222.4,778.0C1226.4,781.7 1229.3,797.4 1226.8,802.1C1224.2,806.9 1211.1,810.2 1207.0,806.5C1203.0,802.9 1200.1,785.0 1202.7,780.2Z" fill="#7c7c7c" filter="url(#bls)"/>
<path d="M1233.3,767.1C1234.8,765.6 1242.1,767.1 1244.3,769.3C1246.5,771.5 1247.9,778.8 1246.5,780.2C1245.0,781.7 1237.7,780.2 1235.5,778.0C1233.3,775.9 1231.9,768.6 1233.3,767.1Z" fill="#7c7c7c" filter="url(#bls)"/>
<path d="M1259.6,775.9C1261.4,773.7 1270.2,776.6 1272.7,780.2C1275.3,783.9 1276.7,795.6 1274.9,797.7C1273.1,799.9 1264.3,797.0 1261.8,793.4C1259.2,789.7 1257.8,778.0 1259.6,775.9Z" fill="#7c7c7c" filter="url(#bls)"/>
<path d="M1235.5,793.4C1237.3,791.2 1245.0,792.6 1246.5,795.6C1247.9,798.5 1246.1,808.7 1244.3,810.9C1242.4,813.1 1237.0,811.6 1235.5,808.7C1234.0,805.8 1233.7,795.6 1235.5,793.4Z" fill="#7c7c7c" filter="url(#bls)"/>
<path d="M1215.8,705.8C1222.4,701.1 1266.9,709.5 1277.1,716.8C1287.3,724.0 1283.7,744.8 1277.1,749.6C1270.5,754.3 1247.9,752.5 1237.7,745.2C1227.5,737.9 1209.2,710.5 1215.8,705.8Z" fill="#3a3a3a" filter="url(#blm)"/>
<path d="M1281.5,460.6C1291.3,456.6 1339.9,456.6 1351.5,460.6C1363.2,464.6 1357.7,479.6 1351.5,484.7C1345.3,489.8 1324.2,491.3 1314.3,491.3C1304.5,491.3 1297.9,489.8 1292.4,484.7C1287.0,479.6 1271.6,464.6 1281.5,460.6Z" fill="#808080" filter="url(#blm)"/>
<path d="M1325.3,521.9C1328.9,518.3 1347.2,514.3 1351.5,517.5C1355.9,520.8 1355.2,538.0 1351.5,541.6C1347.9,545.3 1334.0,542.7 1329.6,539.4C1325.3,536.1 1321.6,525.6 1325.3,521.9Z" fill="#7c7c7c" filter="url(#blm)"/>
<path d="M1253.0,552.6C1252.7,548.2 1259.6,543.8 1266.2,548.2C1272.7,552.6 1284.8,570.8 1292.4,578.8C1300.1,586.9 1311.0,593.4 1312.1,596.3C1313.2,599.3 1306.3,600.0 1299.0,596.3C1291.7,592.7 1276.0,581.8 1268.3,574.5C1260.7,567.2 1253.4,556.9 1253.0,552.6Z" fill="#787878" filter="url(#bls)"/>
<path d="M1242.1,675.2C1244.3,667.9 1263.2,675.2 1272.7,679.5C1282.2,683.9 1289.5,696.7 1299.0,701.4C1308.5,706.2 1320.9,706.9 1329.6,708.0C1338.4,709.1 1347.9,698.9 1351.5,708.0C1355.2,717.1 1355.9,754.0 1351.5,762.7C1347.2,771.5 1335.5,762.7 1325.3,760.5C1315.0,758.3 1301.2,755.8 1290.2,749.6C1279.3,743.4 1267.6,735.7 1259.6,723.3C1251.6,710.9 1239.9,682.5 1242.1,675.2Z" fill="#575757" filter="url(#blm)"/>
<path d="M1250.8,683.9C1251.2,679.5 1261.4,683.9 1268.3,688.3C1275.3,692.7 1282.9,705.1 1292.4,710.2C1301.9,715.3 1315.4,717.1 1325.3,718.9C1335.1,720.8 1347.2,716.0 1351.5,721.1C1355.9,726.2 1355.9,745.2 1351.5,749.6C1347.2,754.0 1335.1,749.6 1325.3,747.4C1315.4,745.2 1302.3,741.9 1292.4,736.5C1282.6,731.0 1273.1,723.3 1266.2,714.6C1259.2,705.8 1250.5,688.3 1250.8,683.9Z" fill="#7c7c7c" filter="url(#blm)"/>
<path d="M1279.3,756.2C1291.3,743.0 1339.5,748.5 1351.5,762.7C1363.6,777.0 1363.6,828.4 1351.5,841.5C1339.5,854.7 1291.3,855.8 1279.3,841.5C1267.3,827.3 1267.3,769.3 1279.3,756.2Z" fill="#626262" filter="url(#bll)"/>
<path d="M1281.5,767.1C1281.5,763.5 1296.1,767.8 1303.4,771.5C1310.7,775.1 1317.2,784.6 1325.3,789.0C1333.3,793.4 1347.2,789.0 1351.5,797.7C1355.9,806.5 1355.9,834.2 1351.5,841.5C1347.2,848.8 1333.3,849.6 1325.3,841.5C1317.2,833.5 1310.7,805.8 1303.4,793.4C1296.1,781.0 1281.5,770.8 1281.5,767.1Z" fill="#808080" filter="url(#blm)"/>
<path d="M1203.8,469.4C1205.6,467.6 1212.9,467.6 1214.7,469.4C1216.5,471.2 1216.5,478.5 1214.7,480.3C1212.9,482.1 1205.6,482.1 1203.8,480.3C1201.9,478.5 1201.9,471.2 1203.8,469.4Z" fill="#bdbdbd" filter="url(#bls)"/>
<path d="M1132.6,460.6C1157.1,455.5 1254.8,455.5 1279.3,460.6C1303.7,465.7 1303.7,486.2 1279.3,491.3C1254.8,496.4 1157.1,496.4 1132.6,491.3C1108.2,486.2 1108.2,465.7 1132.6,460.6Z" fill="#4c4c4c" filter="url(#bll)"/>
<path d="M1248.6,460.6C1253.8,457.7 1274.2,457.7 1279.3,460.6C1284.4,463.5 1284.4,475.2 1279.3,478.1C1274.2,481.1 1253.8,481.1 1248.6,478.1C1243.5,475.2 1243.5,463.5 1248.6,460.6Z" fill="#6d6d6d" filter="url(#blm)"/>
<path d="M1340.0,460.6C1353.9,452.6 1409.3,452.6 1423.2,460.6C1437.1,468.6 1437.1,500.8 1423.2,508.8C1409.3,516.8 1353.9,516.8 1340.0,508.8C1326.1,500.8 1326.1,468.6 1340.0,460.6Z" fill="#6d6d6d" filter="url(#bll)"/>
<path d="M1335.6,489.1C1340.7,486.5 1363.4,490.2 1366.3,493.5C1369.2,496.7 1358.2,506.2 1353.1,508.8C1348.0,511.3 1338.5,512.1 1335.6,508.8C1332.7,505.5 1330.5,491.6 1335.6,489.1Z" fill="#575757" filter="url(#bls)"/>
<path d="M1493.2,460.6C1506.4,454.4 1566.6,452.6 1580.8,460.6C1595.0,468.6 1585.9,498.9 1578.6,508.8C1571.3,518.6 1551.3,512.4 1537.0,519.7C1522.8,527.0 1504.2,545.6 1493.2,552.6C1482.3,559.5 1473.5,565.0 1471.3,561.3C1469.2,557.7 1475.0,541.3 1480.1,530.7C1485.2,520.1 1499.8,509.5 1502.0,497.8C1504.2,486.2 1480.1,466.8 1493.2,460.6Z" fill="#5f5f5f" filter="url(#blm)"/>
<path d="M1558.9,497.8C1562.9,491.3 1576.1,484.3 1578.6,497.8C1581.2,511.3 1581.2,563.9 1574.2,578.8C1567.3,593.8 1550.5,586.1 1537.0,587.6C1523.5,589.1 1496.2,591.2 1493.2,587.6C1490.3,583.9 1509.3,574.1 1519.5,565.7C1529.7,557.3 1548.0,548.6 1554.5,537.2C1561.1,525.9 1554.9,504.4 1558.9,497.8Z" fill="#808080" filter="url(#blm)"/>
<path d="M1506.4,552.6C1507.5,548.9 1518.1,544.9 1521.7,546.0C1525.3,547.1 1529.4,555.5 1528.3,559.1C1527.2,562.8 1518.8,569.0 1515.1,567.9C1511.5,566.8 1505.3,556.2 1506.4,552.6Z" fill="#9d9d9d" filter="url(#bls)"/>
<path d="M1353.1,513.2C1357.5,509.5 1369.6,511.3 1379.4,508.8C1389.3,506.2 1404.9,502.9 1412.2,497.8C1419.5,492.7 1417.0,484.3 1423.2,478.1C1429.4,471.9 1437.8,463.5 1449.5,460.6C1461.1,457.7 1484.5,456.2 1493.2,460.6C1502.0,465.0 1504.2,478.1 1502.0,486.9C1499.8,495.6 1488.1,504.8 1480.1,513.2C1472.1,521.6 1461.9,529.9 1453.8,537.2C1445.8,544.5 1440.0,555.1 1431.9,556.9C1423.9,558.8 1415.2,551.1 1405.7,548.2C1396.2,545.3 1383.8,542.3 1375.0,539.4C1366.3,536.5 1356.8,535.1 1353.1,530.7C1349.5,526.3 1348.8,516.8 1353.1,513.2Z" fill="#8a8a8a" filter="url(#blm)"/>
<path d="M1383.8,517.5C1388.2,512.4 1407.9,502.2 1414.4,504.4C1421.0,506.6 1424.6,524.1 1423.2,530.7C1421.7,537.2 1411.5,543.1 1405.7,543.8C1399.8,544.5 1391.8,539.4 1388.2,535.1C1384.5,530.7 1379.4,522.6 1383.8,517.5Z" fill="#9d9d9d" filter="url(#blm)"/>
<path d="M1431.9,486.9C1438.5,477.0 1465.5,472.3 1475.7,471.6C1485.9,470.8 1494.0,476.3 1493.2,482.5C1492.5,488.7 1480.8,500.8 1471.3,508.8C1461.9,516.8 1442.9,534.3 1436.3,530.7C1429.8,527.0 1425.4,496.7 1431.9,486.9Z" fill="#999999" filter="url(#blm)"/>
<path d="M1335.6,537.2C1341.8,536.1 1361.2,548.6 1372.8,552.6C1384.5,556.6 1395.8,559.5 1405.7,561.3C1415.5,563.1 1421.0,563.5 1431.9,563.5C1442.9,563.5 1461.1,560.2 1471.3,561.3C1481.6,562.4 1493.2,565.7 1493.2,570.1C1493.2,574.5 1482.3,585.4 1471.3,587.6C1460.4,589.8 1442.2,586.1 1427.6,583.2C1413.0,580.3 1399.1,574.1 1383.8,570.1C1368.5,566.1 1343.6,564.6 1335.6,559.1C1327.6,553.7 1329.4,538.3 1335.6,537.2Z" fill="#6d6d6d" filter="url(#blm)"/>
<path d="M1335.6,570.1C1343.6,562.1 1368.5,571.5 1383.8,574.5C1399.1,577.4 1409.3,584.7 1427.6,587.6C1445.8,590.5 1469.2,593.4 1493.2,592.0C1517.3,590.5 1559.6,573.7 1572.0,578.8C1584.5,583.9 1607.1,615.3 1567.7,622.6C1528.3,629.9 1374.3,631.4 1335.6,622.6C1296.9,613.9 1327.6,578.1 1335.6,570.1Z" fill="#494949" filter="url(#bll)"/>
<path d="M1436.3,587.6C1441.4,583.2 1461.1,581.8 1471.3,583.2C1481.6,584.7 1494.0,591.2 1497.6,596.3C1501.3,601.5 1499.1,610.2 1493.2,613.9C1487.4,617.5 1471.3,619.0 1462.6,618.2C1453.8,617.5 1445.1,614.6 1440.7,609.5C1436.3,604.4 1431.2,592.0 1436.3,587.6Z" fill="#838383" filter="url(#blm)"/>
<path d="M1431.9,618.2C1440.0,615.7 1478.6,618.2 1493.2,616.1C1507.8,613.9 1512.2,608.4 1519.5,605.1C1526.8,601.8 1534.8,594.9 1537.0,596.3C1539.2,597.8 1539.9,608.0 1532.6,613.9C1525.3,619.7 1507.8,628.5 1493.2,631.4C1478.6,634.3 1455.3,633.6 1445.1,631.4C1434.9,629.2 1423.9,620.8 1431.9,618.2Z" fill="#757575" filter="url(#blm)"/>
<path d="M1537.0,587.6C1544.7,581.0 1569.1,566.4 1574.2,578.8C1579.3,591.2 1570.2,637.2 1567.7,662.0C1565.1,686.8 1561.1,705.8 1558.9,727.7C1556.7,749.6 1556.7,774.4 1554.5,793.4C1552.3,812.3 1556.0,833.5 1545.8,841.5C1535.6,849.6 1503.5,849.6 1493.2,841.5C1483.0,833.5 1482.3,806.9 1484.5,793.4C1486.7,779.9 1498.3,775.1 1506.4,760.5C1514.4,745.9 1530.5,722.2 1532.6,705.8C1534.8,689.4 1526.1,673.0 1519.5,662.0C1512.9,651.1 1491.8,647.4 1493.2,640.1C1494.7,632.8 1521.0,627.0 1528.3,618.2C1535.6,609.5 1529.4,594.2 1537.0,587.6Z" fill="#373737" filter="url(#bll)"/>
<path d="M1335.6,622.6C1350.2,618.6 1406.0,623.3 1423.2,627.0C1440.3,630.6 1430.5,640.5 1438.5,644.5C1446.5,648.5 1467.3,646.3 1471.3,651.1C1475.4,655.8 1470.6,670.0 1462.6,673.0C1454.6,675.9 1436.3,671.1 1423.2,668.6C1410.1,666.0 1398.4,660.6 1383.8,657.6C1369.2,654.7 1343.6,656.9 1335.6,651.1C1327.6,645.2 1321.0,626.6 1335.6,622.6Z" fill="#373737" filter="url(#blm)"/>
<path d="M1335.6,657.6C1350.2,653.6 1402.0,666.0 1423.2,668.6C1444.3,671.1 1448.7,673.3 1462.6,673.0C1476.5,672.6 1499.8,664.6 1506.4,666.4C1512.9,668.2 1530.5,679.5 1502.0,683.9C1473.5,688.3 1363.4,697.0 1335.6,692.7C1307.9,688.3 1321.0,661.7 1335.6,657.6Z" fill="#545454" filter="url(#bll)"/>
<path d="M1348.8,692.7C1356.8,688.3 1371.4,685.0 1383.8,683.9C1396.2,682.8 1412.2,686.8 1423.2,686.1C1434.1,685.4 1435.6,682.8 1449.5,679.5C1463.3,676.3 1497.6,665.7 1506.4,666.4C1515.1,667.1 1504.2,677.3 1502.0,683.9C1499.8,690.5 1496.2,699.2 1493.2,705.8C1490.3,712.4 1491.8,720.4 1484.5,723.3C1477.2,726.2 1459.7,723.7 1449.5,723.3C1439.2,723.0 1434.1,721.1 1423.2,721.1C1412.2,721.1 1394.0,722.2 1383.8,723.3C1373.6,724.4 1369.9,725.1 1361.9,727.7C1353.9,730.3 1340.0,741.6 1335.6,738.6C1331.2,735.7 1333.4,717.8 1335.6,710.2C1337.8,702.5 1340.7,697.0 1348.8,692.7Z" fill="#6d6d6d" filter="url(#blm)"/>
<path d="M1372.8,701.4C1380.9,698.1 1406.8,698.5 1423.2,697.0C1439.6,695.6 1461.9,691.2 1471.3,692.7C1480.8,694.1 1483.8,702.2 1480.1,705.8C1476.5,709.5 1461.9,713.1 1449.5,714.6C1437.1,716.0 1418.1,714.2 1405.7,714.6C1393.3,714.9 1380.5,718.9 1375.0,716.8C1369.6,714.6 1364.8,704.7 1372.8,701.4Z" fill="#787878" filter="url(#blm)"/>
<path d="M1335.6,738.6C1340.0,733.9 1347.3,730.3 1361.9,727.7C1376.5,725.1 1402.8,723.7 1423.2,723.3C1443.6,723.0 1470.6,723.0 1484.5,725.5C1498.3,728.1 1504.9,732.8 1506.4,738.6C1507.8,744.5 1507.1,758.7 1493.2,760.5C1479.4,762.4 1441.4,751.4 1423.2,749.6C1404.9,747.8 1398.4,748.5 1383.8,749.6C1369.2,750.7 1343.6,758.0 1335.6,756.2C1327.6,754.3 1331.2,743.4 1335.6,738.6Z" fill="#545454" filter="url(#blm)"/>
<path d="M1383.8,749.6C1390.4,746.7 1404.9,747.4 1423.2,749.6C1441.4,751.8 1479.4,759.1 1493.2,762.7C1507.1,766.4 1508.6,766.4 1506.4,771.5C1504.2,776.6 1494.0,792.6 1480.1,793.4C1466.2,794.1 1439.2,780.2 1423.2,775.9C1407.1,771.5 1390.4,771.5 1383.8,767.1C1377.2,762.7 1377.2,752.5 1383.8,749.6Z" fill="#3a3a3a" filter="url(#blm)"/>
<path d="M1335.6,771.5C1350.2,760.5 1399.1,772.2 1423.2,775.9C1447.3,779.5 1469.9,782.4 1480.1,793.4C1490.3,804.3 1508.6,833.5 1484.5,841.5C1460.4,849.6 1360.4,853.2 1335.6,841.5C1310.8,829.9 1321.0,782.4 1335.6,771.5Z" fill="#666666" filter="url(#bll)"/>
<path d="M1335.6,793.4C1341.8,787.5 1361.2,802.1 1372.8,806.5C1384.5,810.9 1397.3,813.8 1405.7,819.6C1414.1,825.5 1434.9,837.9 1423.2,841.5C1411.5,845.2 1350.2,849.6 1335.6,841.5C1321.0,833.5 1329.4,799.2 1335.6,793.4Z" fill="#838383" filter="url(#blm)"/>
<path d="M1427.6,797.7C1432.7,789.7 1453.8,790.5 1462.6,793.4C1471.3,796.3 1478.6,807.2 1480.1,815.3C1481.6,823.3 1479.4,837.2 1471.3,841.5C1463.3,845.9 1439.2,848.8 1431.9,841.5C1424.6,834.2 1422.5,805.8 1427.6,797.7Z" fill="#6d6d6d" filter="url(#blm)"/>
<path d="M1484.5,784.6C1493.2,778.0 1526.1,765.6 1537.0,767.1C1548.0,768.6 1549.1,781.0 1550.2,793.4C1551.3,805.8 1552.3,833.5 1543.6,841.5C1534.8,849.6 1507.5,847.4 1497.6,841.5C1487.8,835.7 1486.7,816.0 1484.5,806.5C1482.3,797.0 1475.7,791.2 1484.5,784.6Z" fill="#333333" filter="url(#blm)"/>
<path d="M1162.8,232.8C1174.1,224.1 1198.2,223.0 1217.6,224.1C1236.9,225.2 1266.5,228.8 1278.9,239.4C1291.3,250.0 1291.3,273.7 1292.0,287.6C1292.7,301.4 1295.6,316.0 1283.2,322.6C1270.8,329.2 1235.8,328.4 1217.6,327.0C1199.3,325.5 1185.1,322.2 1173.8,313.8C1162.5,305.4 1151.5,290.1 1149.7,276.6C1147.9,263.1 1151.5,241.6 1162.8,232.8Z" fill="#999999" filter="url(#bll)"/>
<path d="M1221.9,246.0C1227.8,242.3 1243.8,242.0 1252.6,243.8C1261.3,245.6 1269.7,251.1 1274.5,256.9C1279.2,262.8 1281.1,272.2 1281.1,278.8C1281.1,285.4 1279.2,292.7 1274.5,296.3C1269.7,300.0 1259.5,302.2 1252.6,300.7C1245.7,299.2 1238.7,293.4 1232.9,287.6C1227.1,281.7 1219.4,272.6 1217.6,265.7C1215.7,258.7 1216.1,249.6 1221.9,246.0Z" fill="#afafaf" filter="url(#blm)"/>
<path d="M1265.7,322.6C1284.0,315.3 1324.1,311.3 1348.9,309.5C1373.7,307.6 1397.1,307.3 1414.6,311.6C1432.1,316.0 1444.5,325.1 1454.0,335.7C1463.5,346.3 1469.3,362.0 1471.5,375.1C1473.7,388.3 1472.2,404.0 1467.1,414.5C1462.0,425.1 1453.3,433.5 1440.9,438.6C1428.5,443.7 1411.7,445.2 1392.7,445.2C1373.7,445.2 1345.3,439.3 1327.0,438.6C1308.8,437.9 1295.6,439.0 1283.2,440.8C1270.8,442.6 1263.5,444.8 1252.6,449.6C1241.6,454.3 1227.1,468.9 1217.6,469.3C1208.1,469.6 1202.2,460.9 1195.7,451.8C1189.1,442.6 1180.7,425.1 1178.2,414.5C1175.6,404.0 1176.3,396.3 1180.4,388.3C1184.4,380.2 1192.4,372.2 1202.2,366.4C1212.1,360.5 1228.9,360.5 1239.5,353.2C1250.0,345.9 1247.5,329.9 1265.7,322.6Z" fill="#9d9d9d" filter="url(#bll)"/>
<path d="M1281.1,335.7C1287.6,332.1 1293.8,329.2 1305.1,327.0C1316.4,324.8 1336.1,324.1 1348.9,322.6C1361.7,321.1 1370.8,317.8 1381.8,318.2C1392.7,318.6 1405.5,321.1 1414.6,324.8C1423.7,328.4 1430.3,333.9 1436.5,340.1C1442.7,346.3 1448.5,354.3 1451.8,362.0C1455.1,369.7 1456.9,378.4 1456.2,386.1C1455.5,393.7 1452.5,401.8 1447.4,408.0C1442.3,414.2 1434.7,419.6 1425.5,423.3C1416.4,426.9 1401.8,428.4 1392.7,429.9C1383.6,431.3 1378.1,432.8 1370.8,432.0C1363.5,431.3 1356.2,427.3 1348.9,425.5C1341.6,423.7 1334.3,421.5 1327.0,421.1C1319.7,420.7 1312.4,422.9 1305.1,423.3C1297.8,423.7 1289.1,422.6 1283.2,423.3C1277.4,424.0 1273.0,425.5 1270.1,427.7C1267.2,429.9 1268.6,435.7 1265.7,436.4C1262.8,437.2 1255.5,433.9 1252.6,432.0C1249.7,430.2 1251.1,427.3 1248.2,425.5C1245.3,423.7 1238.7,420.0 1235.1,421.1C1231.4,422.2 1228.1,427.7 1226.3,432.0C1224.5,436.4 1225.6,443.7 1224.1,447.4C1222.7,451.0 1219.8,453.9 1217.6,453.9C1215.4,453.9 1212.5,449.9 1211.0,447.4C1209.5,444.8 1210.6,441.5 1208.8,438.6C1207.0,435.7 1202.6,433.9 1200.1,429.9C1197.5,425.8 1194.9,420.0 1193.5,414.5C1192.0,409.1 1190.2,402.1 1191.3,397.0C1192.4,391.9 1195.7,386.8 1200.1,383.9C1204.4,381.0 1212.1,381.3 1217.6,379.5C1223.0,377.7 1227.8,375.9 1232.9,372.9C1238.0,370.0 1242.7,366.0 1248.2,362.0C1253.7,358.0 1260.3,353.2 1265.7,348.9C1271.2,344.5 1274.5,339.4 1281.1,335.7Z" fill="#c1c1c1" filter="url(#bls)"/>
<path d="M1204.4,470.4C1205.5,468.9 1210.6,469.1 1212.1,470.4C1213.6,471.6 1214.3,476.6 1213.2,478.0C1212.1,479.5 1207.0,480.4 1205.5,479.1C1204.1,477.8 1203.3,471.8 1204.4,470.4Z" fill="#bdbdbd" filter="url(#bls)"/>
<path d="M1425.5,436.4C1431.4,432.4 1452.2,427.7 1458.4,434.2C1464.6,440.8 1466.4,468.2 1462.7,475.8C1459.1,483.5 1443.0,483.1 1436.5,480.2C1429.9,477.3 1425.2,465.6 1423.3,458.3C1421.5,451.0 1419.7,440.4 1425.5,436.4Z" fill="#929292" filter="url(#blm)"/>
<path d="M1355.5,506.5C1361.0,500.3 1381.8,499.9 1392.7,499.9C1403.6,499.9 1416.0,501.0 1421.2,506.5C1426.3,512.0 1428.1,526.5 1423.3,532.7C1418.6,539.0 1403.3,543.0 1392.7,543.7C1382.1,544.4 1366.1,543.3 1359.9,537.1C1353.7,530.9 1350.0,512.7 1355.5,506.5Z" fill="#929292" filter="url(#blm)"/>
<path d="M1242.1,362.7C1246.5,351.0 1264.0,342.3 1281.5,336.4C1299.0,330.6 1328.2,327.7 1347.2,327.7C1366.2,327.7 1383.7,329.2 1395.4,336.4C1407.0,343.7 1415.1,358.3 1417.2,371.5C1419.4,384.6 1416.5,404.3 1408.5,415.3C1400.5,426.2 1384.4,432.8 1369.1,437.2C1353.8,441.5 1331.1,443.7 1316.5,441.5C1301.9,439.3 1291.7,429.9 1281.5,424.0C1271.3,418.2 1261.8,416.7 1255.2,406.5C1248.7,396.3 1237.7,374.4 1242.1,362.7Z" fill="#d7d7d7" filter="url(#blm)"/>
<path d="M1272.7,362.7C1276.4,357.0 1282.2,351.9 1290.3,350.5C1298.3,349.0 1315.1,349.0 1320.9,354.0C1326.8,358.9 1327.5,371.5 1325.3,380.2C1323.1,389.0 1315.1,402.9 1307.8,406.5C1300.5,410.2 1288.1,405.8 1281.5,402.1C1274.9,398.5 1269.8,391.2 1268.4,384.6C1266.9,378.0 1269.1,368.4 1272.7,362.7Z" fill="#fbfbfb" filter="url(#bls)"/>
<path d="M957.5,384.6C964.8,365.6 992.1,379.5 1001.3,384.6C1010.4,389.7 1010.2,402.1 1012.2,415.3C1014.3,428.4 1015.4,450.3 1013.5,463.4C1011.7,476.6 1010.6,488.2 1001.3,494.1C991.9,499.9 964.8,516.7 957.5,498.5C950.2,480.2 950.2,403.6 957.5,384.6Z" fill="#d7d7d7" filter="url(#blm)"/>
<path d="M983.8,428.4C986.7,419.3 997.6,422.6 1001.3,426.2C1004.9,429.9 1006.0,441.9 1005.7,450.3C1005.3,458.7 1002.7,471.5 999.1,476.6C995.4,481.7 986.3,489.0 983.8,480.9C981.2,472.9 980.8,437.5 983.8,428.4Z" fill="#f4f4f4" filter="url(#bls)"/>
<path d="M1016.6,340.8C1020.2,337.5 1035.6,336.4 1040.7,338.6C1045.8,340.8 1048.7,349.9 1047.2,354.0C1045.8,358.0 1036.7,362.0 1031.9,362.7C1027.2,363.4 1021.3,362.0 1018.8,358.3C1016.2,354.7 1012.9,344.1 1016.6,340.8Z" fill="#d7d7d7" filter="url(#bls)"/>
<path d="M1202.7,389.0C1206.3,385.3 1224.2,383.9 1229.0,386.8C1233.7,389.7 1234.8,402.9 1231.2,406.5C1227.5,410.2 1211.8,411.6 1207.1,408.7C1202.3,405.8 1199.0,392.6 1202.7,389.0Z" fill="#d7d7d7" filter="url(#bls)"/>
<path d="M1072.9,585.9C1072.4,586.4 1073.5,589.8 1074.2,591.5C1074.9,593.2 1075.9,594.9 1077.1,596.0C1078.4,597.2 1081.2,598.9 1081.7,598.4C1082.3,597.8 1081.3,594.3 1080.6,592.6C1079.9,591.0 1078.6,589.5 1077.3,588.4C1076.0,587.3 1073.4,585.4 1072.9,585.9Z" fill="#838383" filter="url(#bls)"/>
<path d="M1164.4,734.1C1163.7,734.8 1165.7,739.8 1166.9,742.2C1168.0,744.7 1169.5,747.1 1171.4,748.8C1173.2,750.5 1177.3,753.2 1178.0,752.4C1178.8,751.6 1177.0,746.5 1175.8,744.1C1174.6,741.6 1172.7,739.5 1170.8,737.9C1168.9,736.2 1165.1,733.4 1164.4,734.1Z" fill="#757575" filter="url(#bls)"/>
<path d="M1219.0,775.0C1218.4,775.4 1219.1,779.0 1219.6,780.8C1220.1,782.6 1220.8,784.4 1221.9,785.7C1222.9,787.1 1225.4,789.2 1226.1,788.8C1226.7,788.3 1226.2,784.6 1225.7,782.9C1225.2,781.1 1224.1,779.5 1223.0,778.2C1221.9,776.8 1219.6,774.6 1219.0,775.0Z" fill="#838383" filter="url(#bls)"/>
<path d="M987.0,562.5C986.2,563.3 988.2,568.2 989.4,570.7C990.6,573.1 992.1,575.6 994.0,577.2C996.0,578.8 1000.2,581.3 1001.0,580.4C1001.8,579.6 1000.1,574.4 998.9,572.0C997.6,569.5 995.6,567.5 993.7,565.9C991.7,564.3 987.7,561.7 987.0,562.5Z" fill="#757575" filter="url(#bls)"/>
<path d="M1064.7,642.3C1064.3,643.1 1066.3,645.9 1067.4,647.2C1068.5,648.5 1069.8,649.6 1071.4,650.0C1072.9,650.5 1076.0,650.7 1076.5,649.8C1076.9,648.9 1075.1,645.9 1074.0,644.7C1072.8,643.4 1071.2,642.7 1069.7,642.3C1068.2,641.9 1065.1,641.5 1064.7,642.3Z" fill="#838383" filter="url(#bls)"/>
<path d="M1176.5,746.3C1175.9,747.2 1178.2,751.8 1179.5,754.1C1180.9,756.4 1182.5,758.6 1184.6,759.9C1186.6,761.3 1190.9,763.3 1191.7,762.3C1192.4,761.4 1190.3,756.5 1188.9,754.3C1187.5,752.1 1185.4,750.3 1183.4,748.9C1181.3,747.6 1177.2,745.4 1176.5,746.3Z" fill="#838383" filter="url(#bls)"/>
<path d="M1223.8,789.2C1223.1,789.9 1224.3,794.0 1225.1,796.0C1225.9,798.0 1227.0,800.0 1228.5,801.3C1230.0,802.6 1233.6,804.4 1234.4,803.7C1235.2,802.9 1234.2,798.6 1233.4,796.6C1232.6,794.6 1231.0,793.0 1229.4,791.7C1227.8,790.5 1224.6,788.5 1223.8,789.2Z" fill="#6d6d6d" filter="url(#bls)"/>
<path d="M1035.0,576.7C1034.5,577.5 1036.9,581.6 1038.2,583.6C1039.6,585.6 1041.2,587.6 1043.1,588.7C1045.0,589.9 1049.1,591.5 1049.7,590.7C1050.2,589.8 1048.1,585.5 1046.7,583.5C1045.3,581.6 1043.3,580.0 1041.3,578.9C1039.4,577.8 1035.5,576.0 1035.0,576.7Z" fill="#6d6d6d" filter="url(#bls)"/>
<path d="M1204.5,760.6C1203.8,761.0 1204.6,766.6 1205.2,769.4C1205.8,772.2 1206.7,775.1 1208.0,777.4C1209.3,779.7 1212.3,783.8 1213.0,783.3C1213.8,782.8 1213.1,777.2 1212.5,774.4C1211.9,771.6 1210.6,768.9 1209.3,766.5C1207.9,764.2 1205.1,760.1 1204.5,760.6Z" fill="#838383" filter="url(#bls)"/>
<path d="M1070.5,580.7C1069.9,581.6 1072.5,585.8 1074.0,587.8C1075.5,589.7 1077.3,591.6 1079.4,592.6C1081.5,593.6 1085.8,594.7 1086.5,593.7C1087.1,592.6 1084.7,588.3 1083.2,586.3C1081.6,584.4 1079.4,583.0 1077.3,582.0C1075.2,581.1 1071.0,579.7 1070.5,580.7Z" fill="#757575" filter="url(#bls)"/>
<path d="M1141.6,737.6C1140.9,738.3 1142.1,743.0 1142.9,745.3C1143.7,747.7 1144.9,750.0 1146.5,751.6C1148.2,753.2 1152.0,755.7 1152.8,754.9C1153.7,754.1 1152.7,749.2 1151.9,746.9C1151.0,744.6 1149.4,742.6 1147.6,741.1C1145.9,739.5 1142.4,736.9 1141.6,737.6Z" fill="#626262" filter="url(#bls)"/>
<path d="M1156.2,718.5C1155.5,719.0 1156.0,722.9 1156.4,724.8C1156.8,726.8 1157.5,728.8 1158.7,730.2C1159.9,731.6 1162.7,733.9 1163.5,733.3C1164.3,732.8 1164.0,728.8 1163.6,726.8C1163.1,724.9 1162.0,723.2 1160.8,721.8C1159.5,720.4 1156.9,718.0 1156.2,718.5Z" fill="#7c7c7c" filter="url(#bls)"/>
<path d="M1089.0,633.8C1088.5,634.5 1091.1,638.7 1092.5,640.7C1094.0,642.8 1095.7,644.8 1097.7,646.1C1099.6,647.4 1103.6,649.3 1104.1,648.6C1104.6,647.8 1102.2,643.5 1100.7,641.4C1099.2,639.4 1097.2,637.7 1095.2,636.5C1093.3,635.2 1089.4,633.1 1089.0,633.8Z" fill="#838383" filter="url(#bls)"/>
<path d="M984.3,584.1C984.0,584.9 987.7,588.9 989.8,590.9C991.8,592.8 994.1,594.7 996.4,595.9C998.8,597.1 1003.4,598.7 1003.8,597.9C1004.1,597.1 1000.5,592.9 998.5,591.0C996.4,589.1 993.8,587.5 991.5,586.4C989.1,585.2 984.6,583.4 984.3,584.1Z" fill="#838383" filter="url(#bls)"/>
<path d="M1032.5,573.5C1031.4,574.0 1030.8,577.5 1030.8,579.2C1030.7,580.9 1030.9,582.6 1032.0,583.8C1033.1,584.9 1035.9,586.8 1037.1,586.2C1038.3,585.7 1039.2,582.1 1039.2,580.4C1039.2,578.8 1038.3,577.3 1037.2,576.1C1036.1,575.0 1033.5,573.0 1032.5,573.5Z" fill="#838383" filter="url(#bls)"/>
<path d="M1001.2,572.8C1000.8,573.6 1003.5,577.5 1005.1,579.4C1006.6,581.3 1008.4,583.2 1010.4,584.3C1012.4,585.4 1016.4,587.0 1016.9,586.1C1017.4,585.3 1014.8,581.2 1013.2,579.3C1011.7,577.5 1009.6,576.0 1007.5,574.9C1005.5,573.8 1001.6,572.1 1001.2,572.8Z" fill="#7c7c7c" filter="url(#bls)"/>
<path d="M999.7,585.8C998.9,586.7 1001.1,592.3 1002.5,595.1C1003.8,597.8 1005.5,600.6 1007.7,602.4C1009.9,604.3 1014.6,607.1 1015.5,606.1C1016.4,605.2 1014.5,599.4 1013.1,596.6C1011.7,593.9 1009.5,591.5 1007.2,589.7C1005.0,587.9 1000.5,584.9 999.7,585.8Z" fill="#6d6d6d" filter="url(#bls)"/>
<path d="M1115.3,695.8C1114.6,696.3 1115.0,700.0 1115.4,701.8C1115.8,703.6 1116.4,705.4 1117.5,706.7C1118.7,708.0 1121.4,710.0 1122.2,709.5C1123.0,708.9 1122.8,705.2 1122.4,703.4C1122.0,701.6 1120.9,700.0 1119.7,698.8C1118.6,697.5 1116.1,695.3 1115.3,695.8Z" fill="#6d6d6d" filter="url(#bls)"/>
<path d="M1114.4,697.8C1114.0,698.5 1116.1,702.3 1117.4,704.2C1118.6,706.0 1120.1,707.9 1121.9,709.0C1123.6,710.2 1127.3,711.8 1127.8,711.1C1128.4,710.3 1126.3,706.3 1125.1,704.4C1123.8,702.6 1122.0,701.1 1120.2,700.0C1118.4,698.9 1114.9,697.1 1114.4,697.8Z" fill="#838383" filter="url(#bls)"/>
<path d="M1005.2,578.6C1004.6,579.0 1004.9,583.0 1005.2,585.0C1005.5,587.1 1006.0,589.2 1007.0,590.8C1008.0,592.4 1010.5,595.1 1011.2,594.7C1012.0,594.3 1011.9,590.2 1011.5,588.2C1011.2,586.2 1010.3,584.2 1009.2,582.6C1008.2,581.0 1005.9,578.2 1005.2,578.6Z" fill="#6d6d6d" filter="url(#bls)"/>
<path d="M1092.5,659.9C1092.0,660.6 1094.8,665.6 1096.4,668.1C1097.9,670.6 1099.8,673.1 1101.9,674.9C1104.0,676.7 1108.3,679.5 1108.9,678.7C1109.5,678.0 1106.8,672.8 1105.2,670.3C1103.6,667.9 1101.4,665.7 1099.3,663.9C1097.2,662.2 1093.0,659.2 1092.5,659.9Z" fill="#757575" filter="url(#bls)"/>
<path d="M1077.6,679.6C1076.8,680.0 1077.1,685.2 1077.5,687.8C1077.8,690.4 1078.4,693.1 1079.6,695.3C1080.8,697.4 1083.6,701.1 1084.5,700.6C1085.4,700.2 1085.3,694.9 1085.0,692.3C1084.6,689.7 1083.5,687.2 1082.3,685.1C1081.1,682.9 1078.5,679.1 1077.6,679.6Z" fill="#757575" filter="url(#bls)"/>
<path d="M1005.1,603.6C1004.7,604.3 1008.4,609.0 1010.4,611.4C1012.3,613.7 1014.6,616.0 1017.0,617.6C1019.4,619.2 1024.2,621.6 1024.6,620.8C1025.0,620.0 1021.5,615.1 1019.5,612.8C1017.4,610.5 1014.9,608.6 1012.5,607.0C1010.1,605.5 1005.4,602.9 1005.1,603.6Z" fill="#7c7c7c" filter="url(#bls)"/>
<path d="M1078.5,598.4C1077.9,599.2 1080.4,604.2 1081.8,606.7C1083.2,609.2 1085.0,611.6 1087.0,613.4C1089.0,615.1 1093.3,617.7 1094.0,616.9C1094.7,616.1 1092.4,610.9 1090.9,608.5C1089.5,606.0 1087.3,603.9 1085.3,602.2C1083.2,600.5 1079.1,597.7 1078.5,598.4Z" fill="#626262" filter="url(#bls)"/>
<path d="M1042.6,616.7C1041.8,617.4 1042.6,621.1 1043.2,622.9C1043.7,624.7 1044.6,626.4 1046.0,627.5C1047.4,628.6 1050.6,630.0 1051.5,629.3C1052.4,628.5 1051.8,624.6 1051.2,622.9C1050.6,621.1 1049.2,619.7 1047.8,618.7C1046.4,617.6 1043.4,616.0 1042.6,616.7Z" fill="#838383" filter="url(#bls)"/>
<path d="M1099.1,621.1C1098.5,621.7 1100.4,626.8 1101.5,629.3C1102.6,631.9 1104.0,634.5 1105.7,636.4C1107.5,638.3 1111.2,641.5 1111.8,640.9C1112.5,640.2 1110.8,635.0 1109.7,632.5C1108.5,630.0 1106.8,627.6 1105.0,625.7C1103.2,623.8 1099.7,620.5 1099.1,621.1Z" fill="#838383" filter="url(#bls)"/>
<path d="M1301.6,813.6C1300.5,813.5 1298.3,816.9 1297.3,818.6C1296.4,820.4 1295.8,822.3 1296.1,824.1C1296.3,826.0 1297.8,829.5 1299.0,829.5C1300.3,829.6 1302.8,826.3 1303.7,824.5C1304.6,822.8 1304.6,820.7 1304.2,818.9C1303.9,817.1 1302.8,813.6 1301.6,813.6Z" fill="#757575" filter="url(#bls)"/>
<path d="M1248.0,783.5C1247.4,784.4 1249.9,788.6 1251.3,790.6C1252.7,792.7 1254.5,794.6 1256.5,795.6C1258.5,796.7 1262.8,798.0 1263.5,797.0C1264.1,796.0 1261.8,791.5 1260.4,789.6C1258.9,787.6 1256.8,786.1 1254.7,785.1C1252.7,784.1 1248.5,782.6 1248.0,783.5Z" fill="#757575" filter="url(#bls)"/>
<path d="M1283.4,746.0C1282.7,746.3 1282.5,750.4 1282.5,752.4C1282.5,754.5 1282.8,756.6 1283.6,758.3C1284.4,760.0 1286.6,763.0 1287.4,762.7C1288.3,762.3 1288.7,758.3 1288.7,756.2C1288.6,754.2 1287.9,752.1 1287.0,750.4C1286.1,748.7 1284.2,745.7 1283.4,746.0Z" fill="#757575" filter="url(#bls)"/>
<path d="M1321.0,809.0C1320.1,809.4 1320.1,814.9 1320.3,817.7C1320.5,820.5 1321.0,823.4 1322.1,825.7C1323.3,828.1 1326.2,832.2 1327.2,831.7C1328.2,831.2 1328.5,825.7 1328.2,822.9C1328.0,820.1 1327.0,817.3 1325.8,815.0C1324.6,812.7 1321.9,808.5 1321.0,809.0Z" fill="#575757" filter="url(#bls)"/>
<path d="M1472.8,781.4C1471.8,781.4 1469.7,785.6 1468.9,787.8C1468.0,790.0 1467.3,792.3 1467.4,794.5C1467.5,796.7 1468.5,800.9 1469.5,800.9C1470.6,800.9 1472.9,796.8 1473.8,794.6C1474.6,792.4 1474.7,789.9 1474.6,787.7C1474.4,785.5 1473.7,781.4 1472.8,781.4Z" fill="#575757" filter="url(#bls)"/>
<path d="M1338.9,804.2C1337.9,804.8 1338.2,810.0 1338.5,812.5C1338.8,815.1 1339.5,817.8 1340.9,819.7C1342.2,821.7 1345.6,825.1 1346.7,824.5C1347.8,823.8 1347.9,818.6 1347.5,816.0C1347.1,813.5 1345.9,811.1 1344.4,809.1C1343.0,807.1 1339.9,803.7 1338.9,804.2Z" fill="#6d6d6d" filter="url(#bls)"/>
<path d="M1430.0,796.3C1429.1,796.4 1428.0,800.2 1427.5,802.1C1427.1,804.1 1426.8,806.2 1427.3,808.0C1427.7,809.8 1429.1,813.1 1430.0,812.9C1430.9,812.8 1432.3,809.0 1432.7,807.1C1433.1,805.2 1432.9,803.1 1432.4,801.3C1432.0,799.5 1430.8,796.2 1430.0,796.3Z" fill="#838383" filter="url(#bls)"/>
<path d="M1442.7,772.4C1441.9,772.4 1440.1,777.2 1439.3,779.7C1438.5,782.2 1437.9,784.9 1437.9,787.3C1437.9,789.8 1438.4,794.3 1439.2,794.3C1440.0,794.2 1442.0,789.5 1442.8,787.0C1443.6,784.5 1443.8,781.7 1443.8,779.3C1443.7,776.8 1443.4,772.3 1442.7,772.4Z" fill="#838383" filter="url(#bls)"/>
<path d="M1246.8,787.7C1246.2,787.9 1245.5,791.4 1245.3,793.2C1245.1,795.0 1245.1,796.9 1245.5,798.5C1246.0,800.1 1247.4,803.1 1248.1,802.9C1248.9,802.7 1249.7,799.2 1249.9,797.4C1250.1,795.6 1249.7,793.7 1249.2,792.1C1248.7,790.5 1247.5,787.6 1246.8,787.7Z" fill="#757575" filter="url(#bls)"/>
<path d="M1478.1,760.4C1477.6,761.0 1479.0,764.4 1479.8,766.0C1480.6,767.7 1481.7,769.3 1483.1,770.2C1484.5,771.2 1487.6,772.5 1488.2,771.8C1488.8,771.1 1487.6,767.6 1486.8,766.0C1485.9,764.4 1484.5,763.1 1483.0,762.2C1481.6,761.3 1478.7,759.8 1478.1,760.4Z" fill="#626262" filter="url(#bls)"/>
<path d="M1274.7,738.3C1274.0,739.0 1275.7,743.6 1276.7,745.9C1277.7,748.2 1279.0,750.5 1280.7,752.1C1282.4,753.7 1286.1,756.2 1286.8,755.5C1287.5,754.8 1286.1,750.0 1285.0,747.8C1284.0,745.5 1282.2,743.5 1280.5,741.9C1278.8,740.4 1275.3,737.7 1274.7,738.3Z" fill="#7c7c7c" filter="url(#bls)"/>
<path d="M1414.9,773.8C1413.8,774.3 1413.5,779.7 1413.5,782.5C1413.6,785.3 1413.9,788.1 1415.1,790.5C1416.2,792.8 1419.1,796.8 1420.3,796.3C1421.4,795.9 1422.1,790.4 1422.0,787.6C1421.9,784.8 1420.9,782.1 1419.7,779.8C1418.5,777.5 1415.9,773.4 1414.9,773.8Z" fill="#626262" filter="url(#bls)"/>
<path d="M1474.3,759.1C1473.4,759.6 1473.3,764.2 1473.4,766.6C1473.6,769.0 1474.0,771.4 1475.1,773.3C1476.3,775.2 1479.1,778.4 1480.1,777.9C1481.2,777.4 1481.5,772.7 1481.3,770.3C1481.2,768.0 1480.2,765.7 1479.0,763.8C1477.8,762.0 1475.2,758.6 1474.3,759.1Z" fill="#838383" filter="url(#bls)"/>
<path d="M1451.1,754.9C1450.1,754.9 1448.3,758.3 1447.5,760.1C1446.7,761.8 1446.1,763.8 1446.3,765.6C1446.5,767.4 1447.6,770.8 1448.7,770.8C1449.7,770.8 1451.8,767.5 1452.5,765.7C1453.3,763.9 1453.3,761.9 1453.1,760.1C1452.8,758.3 1452.0,754.9 1451.1,754.9Z" fill="#838383" filter="url(#bls)"/>
<path d="M1267.3,816.9C1266.4,817.7 1267.6,822.0 1268.4,824.2C1269.1,826.3 1270.3,828.3 1271.9,829.6C1273.6,830.9 1277.3,832.7 1278.3,831.9C1279.2,831.0 1278.3,826.5 1277.5,824.4C1276.6,822.3 1275.0,820.6 1273.3,819.4C1271.6,818.1 1268.1,816.1 1267.3,816.9Z" fill="#757575" filter="url(#bls)"/>
<path d="M1229.0,736.5C1228.0,736.9 1227.1,742.0 1226.9,744.6C1226.7,747.3 1226.7,750.1 1227.6,752.4C1228.4,754.7 1230.8,758.8 1231.9,758.5C1233.1,758.2 1234.2,753.0 1234.4,750.3C1234.6,747.7 1233.9,745.0 1233.0,742.7C1232.1,740.4 1230.0,736.2 1229.0,736.5Z" fill="#838383" filter="url(#bls)"/>
<path d="M1205.9,742.5C1205.1,742.8 1204.5,745.9 1204.3,747.5C1204.1,749.1 1204.2,750.8 1204.9,752.1C1205.5,753.4 1207.4,755.7 1208.3,755.5C1209.2,755.2 1210.1,752.0 1210.2,750.4C1210.4,748.9 1209.8,747.3 1209.1,746.0C1208.4,744.6 1206.7,742.3 1205.9,742.5Z" fill="#626262" filter="url(#bls)"/>
<path d="M1249.0,779.6C1248.3,780.3 1249.8,785.0 1250.7,787.4C1251.6,789.7 1252.9,792.1 1254.5,793.7C1256.2,795.4 1259.9,798.0 1260.7,797.3C1261.5,796.6 1260.2,791.7 1259.3,789.3C1258.3,787.0 1256.6,784.9 1254.9,783.3C1253.2,781.7 1249.7,778.9 1249.0,779.6Z" fill="#7c7c7c" filter="url(#bls)"/>
<path d="M1273.9,738.5C1273.2,739.3 1275.1,743.4 1276.2,745.4C1277.3,747.4 1278.7,749.3 1280.4,750.5C1282.2,751.6 1286.0,753.2 1286.7,752.4C1287.4,751.5 1285.8,747.2 1284.6,745.3C1283.5,743.3 1281.7,741.8 1279.9,740.6C1278.1,739.5 1274.5,737.7 1273.9,738.5Z" fill="#757575" filter="url(#bls)"/>
<path d="M1253.5,752.0C1252.9,752.5 1253.7,755.7 1254.2,757.3C1254.8,758.9 1255.6,760.5 1256.7,761.6C1257.8,762.6 1260.3,764.3 1261.0,763.8C1261.6,763.2 1260.9,759.9 1260.4,758.4C1259.8,756.8 1258.7,755.4 1257.5,754.4C1256.4,753.3 1254.0,751.5 1253.5,752.0Z" fill="#626262" filter="url(#bls)"/>
<path d="M1235.0,753.3C1234.4,753.5 1233.3,759.2 1232.8,762.1C1232.4,765.1 1232.1,768.2 1232.4,771.0C1232.7,773.7 1233.8,778.8 1234.5,778.6C1235.3,778.4 1236.6,772.8 1237.0,769.8C1237.4,766.9 1237.2,763.7 1236.9,761.0C1236.6,758.2 1235.7,753.1 1235.0,753.3Z" fill="#575757" filter="url(#bls)"/>
<path d="M1503.0,799.2C1502.2,800.0 1504.4,805.6 1505.7,808.4C1507.0,811.2 1508.6,814.0 1510.7,815.9C1512.8,817.9 1517.3,821.0 1518.2,820.1C1519.0,819.2 1517.1,813.4 1515.8,810.6C1514.4,807.9 1512.3,805.4 1510.2,803.5C1508.0,801.6 1503.7,798.4 1503.0,799.2Z" fill="#757575" filter="url(#bls)"/>
<path d="M1162.6,747.2C1162.0,747.6 1162.8,751.9 1163.3,754.0C1163.8,756.2 1164.6,758.4 1165.8,760.1C1166.9,761.8 1169.7,764.6 1170.4,764.1C1171.0,763.6 1170.5,759.3 1169.9,757.2C1169.3,755.0 1168.2,753.0 1167.0,751.3C1165.8,749.6 1163.2,746.7 1162.6,747.2Z" fill="#757575" filter="url(#bls)"/>
<path d="M1415.6,779.9C1414.7,780.3 1414.4,783.9 1414.4,785.7C1414.5,787.5 1414.8,789.3 1415.9,790.6C1416.9,791.9 1419.6,794.0 1420.7,793.4C1421.7,792.9 1422.3,789.2 1422.2,787.5C1422.1,785.7 1421.2,784.1 1420.1,782.8C1419.0,781.6 1416.6,779.4 1415.6,779.9Z" fill="#575757" filter="url(#bls)"/>
<path d="M1219.1,742.2C1218.3,742.3 1217.0,745.6 1216.5,747.4C1216.0,749.1 1215.7,750.9 1216.1,752.6C1216.5,754.2 1217.9,757.2 1218.9,757.1C1219.8,757.0 1221.3,753.7 1221.8,751.9C1222.2,750.2 1222.0,748.3 1221.6,746.7C1221.1,745.1 1220.0,742.1 1219.1,742.2Z" fill="#757575" filter="url(#bls)"/>
<path d="M1268.6,780.8C1268.0,781.3 1268.6,785.3 1269.1,787.4C1269.6,789.4 1270.4,791.5 1271.5,793.0C1272.7,794.5 1275.5,797.1 1276.2,796.6C1276.9,796.1 1276.4,792.0 1275.9,789.9C1275.4,787.9 1274.2,786.1 1273.0,784.5C1271.8,783.0 1269.3,780.4 1268.6,780.8Z" fill="#626262" filter="url(#bls)"/>
<path d="M1220.0,794.7C1219.0,795.4 1219.5,799.9 1220.0,802.2C1220.4,804.4 1221.2,806.7 1222.6,808.3C1224.1,809.9 1227.5,812.4 1228.5,811.7C1229.6,811.0 1229.4,806.3 1228.9,804.0C1228.4,801.8 1227.0,799.8 1225.5,798.3C1224.0,796.7 1220.9,794.1 1220.0,794.7Z" fill="#7c7c7c" filter="url(#bls)"/>
<path d="M1208.4,790.5C1207.4,791.0 1207.1,796.0 1207.2,798.5C1207.3,801.0 1207.8,803.7 1209.0,805.7C1210.2,807.7 1213.3,811.1 1214.5,810.6C1215.6,810.1 1216.2,805.0 1216.0,802.5C1215.9,799.9 1214.8,797.5 1213.5,795.5C1212.3,793.5 1209.5,790.0 1208.4,790.5Z" fill="#7c7c7c" filter="url(#bls)"/>
<path d="M1267.5,733.1C1266.6,733.5 1266.7,738.7 1266.9,741.4C1267.1,744.1 1267.7,746.8 1268.8,749.1C1269.9,751.3 1272.7,755.1 1273.7,754.7C1274.7,754.2 1274.8,748.9 1274.5,746.2C1274.3,743.6 1273.2,740.9 1272.1,738.7C1270.9,736.6 1268.3,732.6 1267.5,733.1Z" fill="#838383" filter="url(#bls)"/>
<path d="M1196.2,812.8C1195.2,813.1 1194.4,816.8 1194.1,818.7C1193.9,820.6 1194.0,822.5 1194.9,824.0C1195.7,825.6 1198.2,828.2 1199.3,827.8C1200.4,827.5 1201.6,823.7 1201.7,821.9C1201.9,820.0 1201.2,818.2 1200.3,816.7C1199.4,815.1 1197.2,812.4 1196.2,812.8Z" fill="#757575" filter="url(#bls)"/>
<path d="M1182.8,807.9C1182.4,808.5 1183.8,811.6 1184.7,813.1C1185.6,814.6 1186.7,816.1 1188.0,817.0C1189.4,817.9 1192.3,819.1 1192.8,818.5C1193.3,817.8 1192.0,814.6 1191.1,813.1C1190.2,811.6 1188.8,810.4 1187.4,809.6C1186.0,808.7 1183.3,807.3 1182.8,807.9Z" fill="#575757" filter="url(#bls)"/>
<path d="M1172.7,789.0C1172.0,789.5 1172.4,793.5 1172.8,795.5C1173.2,797.5 1173.9,799.6 1175.1,801.0C1176.3,802.5 1179.2,804.8 1180.1,804.2C1181.0,803.6 1180.7,799.5 1180.3,797.5C1179.9,795.6 1178.7,793.8 1177.5,792.4C1176.2,790.9 1173.5,788.5 1172.7,789.0Z" fill="#757575" filter="url(#bls)"/>
<path d="M1467.5,796.2C1466.8,796.6 1466.5,800.9 1466.5,803.1C1466.5,805.4 1466.8,807.7 1467.6,809.6C1468.4,811.5 1470.5,814.9 1471.3,814.6C1472.2,814.2 1472.7,809.8 1472.6,807.6C1472.6,805.4 1471.9,803.1 1471.0,801.2C1470.2,799.4 1468.3,795.9 1467.5,796.2Z" fill="#6d6d6d" filter="url(#bls)"/>
<path d="M1414.2,787.6C1413.3,788.1 1413.5,793.5 1413.8,796.3C1414.0,799.1 1414.6,802.0 1415.8,804.3C1417.0,806.6 1419.9,810.6 1420.9,810.1C1421.9,809.7 1421.9,804.1 1421.6,801.3C1421.3,798.6 1420.2,795.8 1419.0,793.5C1417.7,791.2 1415.1,787.1 1414.2,787.6Z" fill="#7c7c7c" filter="url(#bls)"/>
<path d="M1231.3,767.8C1230.7,768.8 1234.1,773.8 1236.0,776.2C1237.9,778.6 1240.2,781.0 1242.7,782.4C1245.2,783.7 1250.4,785.6 1251.0,784.5C1251.7,783.4 1248.5,778.2 1246.6,775.8C1244.6,773.4 1241.9,771.6 1239.4,770.2C1236.9,768.9 1231.9,766.8 1231.3,767.8Z" fill="#575757" filter="url(#bls)"/>
<path d="M1392.8,774.4C1392.0,774.8 1391.9,778.3 1392.0,780.1C1392.2,781.9 1392.6,783.7 1393.6,785.0C1394.5,786.3 1397.0,788.4 1397.9,788.0C1398.8,787.5 1399.1,783.9 1398.9,782.1C1398.8,780.4 1397.9,778.8 1396.9,777.5C1395.8,776.2 1393.6,774.0 1392.8,774.4Z" fill="#626262" filter="url(#bls)"/>
<path d="M1171.6,751.9C1170.9,752.7 1172.0,756.5 1172.7,758.3C1173.4,760.1 1174.4,761.9 1175.9,762.9C1177.4,763.9 1180.8,765.3 1181.6,764.4C1182.5,763.6 1181.6,759.7 1180.9,757.9C1180.1,756.1 1178.6,754.7 1177.1,753.7C1175.6,752.7 1172.4,751.2 1171.6,751.9Z" fill="#626262" filter="url(#bls)"/>
<path d="M1467.4,804.7C1466.7,805.4 1467.6,808.9 1468.2,810.6C1468.8,812.4 1469.7,814.0 1471.1,815.0C1472.5,816.0 1475.6,817.3 1476.4,816.5C1477.2,815.7 1476.5,812.0 1475.9,810.4C1475.2,808.7 1473.9,807.4 1472.5,806.4C1471.0,805.5 1468.1,804.0 1467.4,804.7Z" fill="#6d6d6d" filter="url(#bls)"/>
<path d="M1208.1,812.6C1207.3,812.7 1206.6,815.9 1206.3,817.6C1206.0,819.2 1206.0,821.0 1206.4,822.5C1206.9,823.9 1208.4,826.6 1209.2,826.4C1210.0,826.2 1210.9,823.0 1211.2,821.4C1211.4,819.7 1211.1,818.0 1210.5,816.5C1210.0,815.1 1208.8,812.4 1208.1,812.6Z" fill="#626262" filter="url(#bls)"/>
<path d="M1266.0,806.8C1265.6,807.5 1268.5,811.4 1270.0,813.4C1271.6,815.3 1273.5,817.2 1275.5,818.4C1277.5,819.6 1281.5,821.3 1282.0,820.6C1282.4,819.8 1279.7,815.7 1278.0,813.8C1276.4,811.9 1274.3,810.3 1272.3,809.2C1270.3,808.0 1266.3,806.1 1266.0,806.8Z" fill="#575757" filter="url(#bls)"/>
<path d="M1417.9,559.3C1417.8,560.4 1421.2,562.9 1423.0,564.0C1424.8,565.1 1426.9,565.9 1428.8,565.8C1430.7,565.6 1434.6,564.4 1434.7,563.1C1434.9,561.8 1431.5,559.0 1429.7,558.0C1427.9,556.9 1425.7,556.8 1423.8,557.0C1421.8,557.2 1418.1,558.1 1417.9,559.3Z" fill="#5f5f5f" filter="url(#bls)"/>
<path d="M1458.7,575.8C1458.8,576.8 1462.9,578.7 1465.1,579.5C1467.3,580.3 1469.6,580.9 1471.8,580.6C1473.9,580.3 1477.9,579.0 1477.9,577.9C1477.9,576.8 1473.7,574.6 1471.5,573.8C1469.4,573.1 1466.9,573.1 1464.8,573.4C1462.6,573.8 1458.6,574.8 1458.7,575.8Z" fill="#757575" filter="url(#bls)"/>
<path d="M1525.1,606.4C1525.4,607.2 1530.6,607.6 1533.2,607.7C1535.8,607.8 1538.6,607.6 1540.9,606.9C1543.2,606.1 1547.4,604.0 1547.0,603.1C1546.7,602.2 1541.6,601.5 1539.0,601.5C1536.3,601.4 1533.6,602.1 1531.3,602.9C1529.0,603.7 1524.8,605.6 1525.1,606.4Z" fill="#666666" filter="url(#bls)"/>
<path d="M1456.5,559.6C1456.6,560.5 1462.2,562.6 1465.1,563.5C1468.0,564.4 1471.1,565.0 1474.0,564.9C1476.8,564.9 1482.1,564.0 1482.0,563.0C1481.9,561.9 1476.4,559.6 1473.5,558.8C1470.6,557.9 1467.3,557.8 1464.5,557.9C1461.7,558.0 1456.4,558.7 1456.5,559.6Z" fill="#6d6d6d" filter="url(#bls)"/>
<path d="M1423.9,587.1C1423.6,588.3 1425.8,591.0 1427.0,592.2C1428.2,593.4 1429.6,594.3 1431.2,594.3C1432.8,594.3 1436.0,593.5 1436.4,592.2C1436.8,591.0 1434.8,587.9 1433.5,586.8C1432.3,585.7 1430.6,585.3 1429.0,585.4C1427.4,585.4 1424.3,586.0 1423.9,587.1Z" fill="#6d6d6d" filter="url(#bls)"/>
<path d="M1431.9,640.0C1431.8,640.7 1434.9,642.6 1436.5,643.4C1438.1,644.3 1439.8,644.9 1441.5,645.0C1443.2,645.0 1446.4,644.5 1446.5,643.7C1446.6,642.8 1443.6,640.8 1442.0,640.0C1440.4,639.2 1438.5,638.9 1436.8,638.9C1435.1,638.9 1432.0,639.2 1431.9,640.0Z" fill="#666666" filter="url(#bls)"/>
<path d="M1536.3,578.9C1536.2,579.9 1538.8,581.9 1540.2,582.8C1541.6,583.6 1543.2,584.3 1544.7,584.1C1546.2,583.9 1549.2,582.9 1549.3,581.8C1549.4,580.8 1546.9,578.5 1545.5,577.7C1544.0,576.9 1542.4,576.8 1540.8,577.0C1539.3,577.2 1536.4,577.9 1536.3,578.9Z" fill="#757575" filter="url(#bls)"/>
<path d="M1473.2,618.5C1473.3,619.2 1478.5,621.5 1481.3,622.6C1484.1,623.6 1487.1,624.5 1489.8,624.9C1492.6,625.2 1497.7,625.2 1497.7,624.4C1497.7,623.6 1492.5,621.1 1489.7,620.1C1486.9,619.1 1483.8,618.5 1481.0,618.3C1478.3,618.0 1473.2,617.8 1473.2,618.5Z" fill="#5f5f5f" filter="url(#bls)"/>
<path d="M1458.6,554.7C1458.1,555.5 1460.5,559.4 1461.8,561.2C1463.1,563.1 1464.7,564.9 1466.6,565.9C1468.5,567.0 1472.4,568.3 1473.0,567.4C1473.6,566.5 1471.4,562.4 1470.1,560.6C1468.7,558.7 1466.7,557.4 1464.8,556.4C1462.9,555.4 1459.1,553.9 1458.6,554.7Z" fill="#5f5f5f" filter="url(#bls)"/>
<path d="M1523.0,614.6C1522.9,615.3 1525.9,617.1 1527.5,617.9C1529.0,618.7 1530.8,619.3 1532.4,619.4C1534.1,619.5 1537.3,619.1 1537.3,618.4C1537.4,617.6 1534.5,615.6 1532.9,614.8C1531.3,614.1 1529.4,613.8 1527.8,613.7C1526.1,613.7 1523.0,613.9 1523.0,614.6Z" fill="#666666" filter="url(#bls)"/>
<path d="M1524.8,600.0C1523.9,600.7 1524.9,605.2 1525.6,607.4C1526.3,609.6 1527.4,611.7 1529.0,613.1C1530.6,614.5 1534.4,616.5 1535.4,615.6C1536.4,614.8 1535.7,610.1 1534.9,608.0C1534.2,605.8 1532.6,604.0 1530.9,602.7C1529.2,601.4 1525.7,599.2 1524.8,600.0Z" fill="#757575" filter="url(#bls)"/>
<path d="M1451.2,593.2C1450.9,594.2 1454.3,597.4 1456.2,598.8C1458.0,600.3 1460.1,601.6 1462.2,602.0C1464.4,602.4 1468.6,602.5 1468.9,601.5C1469.3,600.4 1466.0,597.0 1464.1,595.6C1462.3,594.2 1459.9,593.4 1457.8,593.0C1455.6,592.6 1451.5,592.3 1451.2,593.2Z" fill="#757575" filter="url(#bls)"/>
<path d="M1413.6,641.7C1413.5,642.7 1417.9,645.7 1420.2,647.1C1422.6,648.4 1425.2,649.6 1427.6,650.0C1430.1,650.3 1435.0,650.3 1435.1,649.2C1435.3,648.1 1431.0,644.9 1428.7,643.6C1426.3,642.2 1423.5,641.6 1421.0,641.3C1418.5,641.0 1413.8,640.8 1413.6,641.7Z" fill="#5f5f5f" filter="url(#bls)"/>
<path d="M1454.8,612.5C1454.1,613.4 1456.1,617.7 1457.2,619.8C1458.4,621.8 1459.9,623.8 1461.8,624.8C1463.7,625.9 1467.9,627.2 1468.7,626.1C1469.5,625.1 1467.8,620.6 1466.6,618.5C1465.4,616.5 1463.4,615.1 1461.5,614.0C1459.5,613.0 1455.5,611.5 1454.8,612.5Z" fill="#6d6d6d" filter="url(#bls)"/>
<path d="M1505.5,612.9C1505.2,613.5 1507.8,616.7 1509.3,618.2C1510.7,619.7 1512.4,621.1 1514.2,621.9C1515.9,622.7 1519.5,623.8 1519.8,623.0C1520.2,622.3 1517.7,619.0 1516.2,617.5C1514.7,616.1 1512.8,615.0 1511.0,614.2C1509.3,613.4 1505.8,612.2 1505.5,612.9Z" fill="#757575" filter="url(#bls)"/>
<path d="M1471.2,658.2C1470.8,659.0 1473.6,662.9 1475.2,664.8C1476.8,666.7 1478.6,668.5 1480.7,669.5C1482.7,670.6 1486.9,672.0 1487.4,671.1C1487.8,670.2 1485.1,666.1 1483.5,664.3C1481.9,662.4 1479.7,661.0 1477.7,660.0C1475.6,659.0 1471.6,657.4 1471.2,658.2Z" fill="#666666" filter="url(#bls)"/>
<path d="M1549.7,395.4C1548.9,395.9 1549.1,400.3 1549.3,402.5C1549.6,404.7 1550.1,406.9 1551.3,408.6C1552.4,410.4 1555.2,413.3 1556.1,412.8C1557.0,412.3 1557.1,407.8 1556.8,405.6C1556.5,403.4 1555.4,401.4 1554.3,399.7C1553.1,398.0 1550.5,395.0 1549.7,395.4Z" fill="#8a8a8a" filter="url(#bls)"/>
<path d="M1541.3,481.5C1540.6,481.5 1538.0,486.4 1536.7,489.0C1535.5,491.6 1534.4,494.4 1533.9,497.0C1533.3,499.6 1532.9,504.6 1533.7,504.6C1534.5,504.6 1537.3,499.8 1538.5,497.2C1539.7,494.6 1540.4,491.7 1540.9,489.1C1541.4,486.5 1542.0,481.6 1541.3,481.5Z" fill="#929292" filter="url(#bls)"/>
<path d="M1529.5,289.7C1528.8,290.0 1528.4,294.9 1528.3,297.4C1528.2,299.9 1528.4,302.6 1529.1,304.9C1529.8,307.1 1531.7,311.1 1532.5,310.8C1533.3,310.6 1533.9,305.6 1534.0,303.1C1534.0,300.6 1533.4,297.9 1532.7,295.7C1531.9,293.5 1530.2,289.4 1529.5,289.7Z" fill="#8a8a8a" filter="url(#bls)"/>
<path d="M1474.8,375.9C1473.8,376.3 1473.3,380.0 1473.2,381.9C1473.1,383.8 1473.4,385.8 1474.3,387.3C1475.2,388.8 1477.7,391.3 1478.8,390.9C1479.8,390.5 1480.6,386.7 1480.7,384.8C1480.7,382.9 1479.9,381.1 1478.9,379.6C1478.0,378.1 1475.7,375.5 1474.8,375.9Z" fill="#9d9d9d" filter="url(#bls)"/>
<path d="M1482.7,353.7C1481.6,353.7 1479.0,358.7 1477.9,361.3C1476.8,363.9 1475.9,366.7 1476.1,369.3C1476.2,371.9 1477.3,376.9 1478.6,376.9C1479.9,377.0 1482.7,372.1 1483.8,369.5C1484.8,366.9 1485.0,363.9 1484.9,361.3C1484.7,358.7 1483.9,353.7 1482.7,353.7Z" fill="#8a8a8a" filter="url(#bls)"/>
<path d="M1471.0,534.0C1470.1,534.0 1467.7,538.9 1466.6,541.5C1465.5,544.1 1464.7,546.9 1464.6,549.5C1464.4,552.1 1464.9,557.0 1465.9,557.0C1467.0,557.1 1469.6,552.2 1470.6,549.6C1471.6,547.0 1472.0,544.1 1472.1,541.5C1472.1,538.9 1471.9,534.0 1471.0,534.0Z" fill="#929292" filter="url(#bls)"/>
<path d="M1544.4,550.3C1543.5,550.5 1542.0,556.3 1541.4,559.3C1540.8,562.3 1540.5,565.5 1540.9,568.3C1541.2,571.1 1542.6,576.3 1543.6,576.1C1544.6,575.9 1546.4,570.2 1546.9,567.2C1547.4,564.2 1547.3,561.0 1546.9,558.2C1546.4,555.3 1545.3,550.2 1544.4,550.3Z" fill="#929292" filter="url(#bls)"/>
<path d="M1498.5,464.7C1498.0,465.1 1498.7,468.8 1499.2,470.6C1499.8,472.5 1500.5,474.3 1501.6,475.7C1502.7,477.2 1505.2,479.5 1505.8,479.1C1506.4,478.6 1505.8,474.8 1505.2,473.0C1504.7,471.2 1503.6,469.5 1502.5,468.1C1501.4,466.7 1499.0,464.2 1498.5,464.7Z" fill="#929292" filter="url(#bls)"/>
<path d="M1454.4,284.8C1453.5,284.9 1452.1,288.8 1451.6,290.8C1451.0,292.8 1450.7,295.0 1451.1,296.9C1451.5,298.8 1452.9,302.4 1453.9,302.2C1454.8,302.1 1456.5,298.3 1457.0,296.2C1457.5,294.2 1457.3,292.0 1456.9,290.1C1456.5,288.2 1455.3,284.7 1454.4,284.8Z" fill="#9d9d9d" filter="url(#bls)"/>
<path d="M1542.5,414.5C1542.0,415.1 1543.1,418.3 1543.8,419.9C1544.5,421.4 1545.4,423.0 1546.7,424.0C1547.9,424.9 1550.7,426.4 1551.3,425.8C1551.9,425.1 1551.0,421.8 1550.2,420.3C1549.5,418.7 1548.2,417.4 1547.0,416.5C1545.7,415.5 1543.0,414.0 1542.5,414.5Z" fill="#929292" filter="url(#bls)"/>
<path d="M1450.3,456.8C1449.2,457.2 1448.1,460.7 1447.8,462.5C1447.5,464.3 1447.5,466.1 1448.4,467.6C1449.2,469.0 1451.7,471.5 1453.0,471.2C1454.2,470.8 1455.6,467.2 1455.9,465.5C1456.1,463.7 1455.5,461.9 1454.6,460.5C1453.6,459.1 1451.4,456.5 1450.3,456.8Z" fill="#9d9d9d" filter="url(#bls)"/>
<path d="M1448.0,548.8C1447.2,549.7 1449.2,555.1 1450.4,557.7C1451.6,560.4 1453.2,563.0 1455.2,564.7C1457.3,566.5 1461.8,569.2 1462.7,568.2C1463.6,567.3 1461.9,561.7 1460.7,559.1C1459.4,556.5 1457.3,554.2 1455.2,552.5C1453.1,550.8 1448.8,547.9 1448.0,548.8Z" fill="#626262" filter="url(#bls)"/>
<path d="M1540.1,329.0C1539.1,329.5 1539.0,335.1 1539.2,337.9C1539.3,340.7 1539.8,343.7 1541.1,346.0C1542.3,348.3 1545.5,352.4 1546.7,351.8C1547.8,351.3 1548.2,345.6 1547.9,342.8C1547.7,340.0 1546.6,337.2 1545.3,334.9C1544.0,332.6 1541.1,328.5 1540.1,329.0Z" fill="#6d6d6d" filter="url(#bls)"/>
<path d="M1525.0,251.7C1524.4,252.2 1525.5,257.3 1526.3,259.8C1527.0,262.4 1528.1,265.0 1529.5,267.0C1530.9,269.0 1534.0,272.5 1534.7,271.9C1535.5,271.4 1534.5,266.3 1533.7,263.7C1532.9,261.2 1531.5,258.8 1530.0,256.8C1528.6,254.8 1525.6,251.2 1525.0,251.7Z" fill="#8a8a8a" filter="url(#bls)"/>
<path d="M1532.0,302.7C1531.5,303.3 1533.0,307.2 1533.9,309.1C1534.8,311.1 1536.0,313.0 1537.5,314.3C1539.0,315.6 1542.3,317.5 1542.9,316.9C1543.5,316.2 1542.2,312.2 1541.2,310.3C1540.3,308.4 1538.7,306.7 1537.2,305.5C1535.7,304.2 1532.6,302.1 1532.0,302.7Z" fill="#626262" filter="url(#bls)"/>
<path d="M1442.2,467.0C1441.2,466.9 1438.7,470.8 1437.5,472.9C1436.3,474.9 1435.4,477.3 1435.2,479.5C1435.1,481.7 1435.5,486.0 1436.6,486.1C1437.6,486.2 1440.5,482.4 1441.6,480.3C1442.7,478.2 1443.2,475.7 1443.3,473.5C1443.4,471.3 1443.2,467.1 1442.2,467.0Z" fill="#8a8a8a" filter="url(#bls)"/>
<path d="M1543.4,312.9C1542.6,313.4 1543.4,319.4 1544.0,322.4C1544.6,325.4 1545.6,328.6 1547.0,331.1C1548.4,333.5 1551.8,337.8 1552.7,337.3C1553.6,336.7 1553.0,330.6 1552.3,327.6C1551.7,324.6 1550.3,321.7 1548.8,319.2C1547.3,316.8 1544.1,312.4 1543.4,312.9Z" fill="#8a8a8a" filter="url(#bls)"/>
<path d="M1512.8,426.8C1512.3,427.4 1514.6,432.0 1516.0,434.3C1517.3,436.5 1518.9,438.8 1520.7,440.5C1522.5,442.1 1526.2,444.8 1526.7,444.2C1527.3,443.5 1525.1,438.8 1523.7,436.6C1522.4,434.3 1520.5,432.3 1518.7,430.7C1516.8,429.0 1513.2,426.2 1512.8,426.8Z" fill="#626262" filter="url(#bls)"/>
<path d="M1524.0,568.0C1523.0,567.8 1519.5,571.7 1517.9,573.8C1516.3,576.0 1514.9,578.4 1514.3,580.8C1513.8,583.3 1513.6,588.1 1514.7,588.4C1515.9,588.7 1519.6,584.9 1521.2,582.7C1522.7,580.6 1523.6,577.9 1524.1,575.5C1524.6,573.0 1525.1,568.3 1524.0,568.0Z" fill="#626262" filter="url(#bls)"/>
<path d="M1477.4,380.4C1476.9,380.9 1478.2,386.0 1479.0,388.7C1479.8,391.3 1480.8,394.0 1482.2,396.1C1483.6,398.2 1486.8,401.9 1487.4,401.4C1488.0,400.8 1486.9,395.6 1486.1,393.0C1485.3,390.4 1483.8,387.8 1482.4,385.7C1480.9,383.6 1478.0,379.9 1477.4,380.4Z" fill="#929292" filter="url(#bls)"/>
<path d="M1501.9,492.5C1500.8,492.3 1498.1,495.9 1496.9,497.9C1495.7,499.8 1494.7,502.0 1494.7,504.1C1494.7,506.2 1495.5,510.3 1496.8,510.5C1498.0,510.7 1501.0,507.2 1502.2,505.2C1503.3,503.3 1503.7,500.9 1503.6,498.8C1503.6,496.7 1503.1,492.6 1501.9,492.5Z" fill="#626262" filter="url(#bls)"/>
<path d="M1543.3,513.6C1542.1,513.4 1539.2,516.9 1537.9,518.7C1536.6,520.6 1535.6,522.7 1535.4,524.8C1535.3,526.9 1536.0,531.1 1537.2,531.4C1538.5,531.7 1541.7,528.3 1542.9,526.4C1544.2,524.5 1544.6,522.2 1544.7,520.1C1544.8,517.9 1544.4,513.8 1543.3,513.6Z" fill="#626262" filter="url(#bls)"/>
<path d="M1230.7,156.9C1230.5,157.7 1233.5,160.2 1235.1,161.3C1236.7,162.5 1238.5,163.4 1240.3,163.7C1242.1,164.0 1245.6,163.8 1245.9,162.9C1246.1,162.0 1243.2,159.3 1241.6,158.2C1240.0,157.1 1238.0,156.5 1236.2,156.3C1234.3,156.1 1230.9,156.0 1230.7,156.9Z" fill="#666666" filter="url(#bls)"/>
<path d="M1119.1,255.6C1119.0,256.6 1122.4,258.7 1124.1,259.5C1125.9,260.3 1127.8,260.9 1129.6,260.7C1131.4,260.5 1134.8,259.3 1134.9,258.2C1134.9,257.1 1131.6,254.8 1129.9,254.0C1128.1,253.2 1126.1,253.2 1124.3,253.5C1122.5,253.7 1119.1,254.6 1119.1,255.6Z" fill="#666666" filter="url(#bls)"/>
<path d="M1230.3,160.5C1230.2,161.0 1234.0,164.2 1236.0,165.8C1238.0,167.3 1240.3,168.8 1242.5,169.8C1244.6,170.8 1248.8,172.3 1249.0,171.7C1249.1,171.1 1245.4,167.8 1243.3,166.2C1241.3,164.7 1238.9,163.4 1236.7,162.5C1234.5,161.5 1230.4,159.9 1230.3,160.5Z" fill="#666666" filter="url(#bls)"/>
<path d="M1011.4,160.2C1011.6,161.1 1016.3,162.5 1018.8,163.1C1021.2,163.6 1023.8,163.9 1026.1,163.4C1028.4,162.8 1032.5,161.1 1032.4,160.0C1032.2,158.9 1027.5,157.3 1025.0,156.8C1022.6,156.3 1019.9,156.6 1017.7,157.2C1015.4,157.7 1011.2,159.2 1011.4,160.2Z" fill="#a0a0a0" filter="url(#bls)"/>
<path d="M1112.9,233.8C1112.2,234.5 1113.1,238.0 1113.7,239.7C1114.3,241.4 1115.2,243.1 1116.6,244.0C1118.0,245.0 1121.2,246.3 1122.0,245.5C1122.8,244.8 1122.1,241.1 1121.5,239.4C1120.8,237.7 1119.5,236.4 1118.0,235.5C1116.6,234.5 1113.6,233.1 1112.9,233.8Z" fill="#a0a0a0" filter="url(#bls)"/>
<path d="M1145.6,272.9C1146.0,273.7 1148.9,274.0 1150.4,274.1C1151.9,274.1 1153.3,273.8 1154.4,273.0C1155.4,272.2 1157.2,269.9 1156.8,269.0C1156.3,268.1 1153.3,267.5 1151.9,267.5C1150.5,267.6 1149.1,268.3 1148.1,269.2C1147.1,270.0 1145.3,272.0 1145.6,272.9Z" fill="#a8a8a8" filter="url(#bls)"/>
<path d="M1255.7,299.9C1255.9,300.5 1258.6,300.9 1259.9,300.9C1261.2,301.0 1262.6,300.9 1263.8,300.3C1264.9,299.8 1266.8,298.3 1266.6,297.6C1266.4,296.9 1263.7,296.4 1262.4,296.3C1261.0,296.3 1259.7,296.8 1258.6,297.4C1257.5,298.0 1255.5,299.3 1255.7,299.9Z" fill="#999999" filter="url(#bls)"/>
<path d="M1223.2,258.2C1223.0,259.0 1225.2,261.3 1226.3,262.3C1227.5,263.3 1228.9,264.2 1230.4,264.4C1231.8,264.5 1234.8,264.2 1235.1,263.3C1235.3,262.4 1233.3,259.9 1232.1,258.9C1230.8,257.9 1229.3,257.5 1227.8,257.3C1226.3,257.2 1223.5,257.3 1223.2,258.2Z" fill="#a0a0a0" filter="url(#bls)"/>
<path d="M1168.9,197.3C1168.6,198.3 1171.9,201.6 1173.7,203.2C1175.5,204.8 1177.6,206.2 1179.8,206.8C1181.9,207.4 1186.2,207.8 1186.6,206.7C1187.0,205.7 1183.8,202.1 1181.9,200.6C1180.1,199.1 1177.8,198.1 1175.6,197.6C1173.4,197.0 1169.2,196.4 1168.9,197.3Z" fill="#666666" filter="url(#bls)"/>
<path d="M1176.4,138.0C1176.5,138.7 1180.0,139.8 1181.8,140.2C1183.6,140.6 1185.6,140.8 1187.3,140.5C1189.0,140.2 1192.2,139.1 1192.1,138.3C1191.9,137.6 1188.4,136.3 1186.6,135.9C1184.8,135.6 1182.8,135.7 1181.1,136.1C1179.4,136.4 1176.2,137.3 1176.4,138.0Z" fill="#a8a8a8" filter="url(#bls)"/>
<path d="M1057.8,272.9C1058.3,273.6 1061.8,273.5 1063.6,273.3C1065.3,273.1 1067.1,272.6 1068.4,271.6C1069.7,270.6 1071.8,268.1 1071.4,267.3C1070.9,266.4 1067.3,266.4 1065.5,266.6C1063.8,266.9 1062.2,267.8 1060.9,268.8C1059.6,269.9 1057.4,272.2 1057.8,272.9Z" fill="#6d6d6d" filter="url(#bls)"/>
<path d="M1103.8,261.5C1103.5,262.1 1105.0,264.2 1105.8,265.1C1106.6,266.1 1107.6,267.0 1108.7,267.5C1109.8,267.9 1112.2,268.3 1112.5,267.7C1112.8,267.1 1111.4,264.9 1110.6,264.0C1109.7,263.0 1108.5,262.4 1107.4,262.0C1106.3,261.6 1104.1,261.0 1103.8,261.5Z" fill="#a0a0a0" filter="url(#bls)"/>
<path d="M1132.7,265.4C1132.1,266.1 1134.1,270.2 1135.2,272.2C1136.4,274.2 1137.8,276.1 1139.6,277.2C1141.4,278.4 1145.2,280.0 1145.9,279.2C1146.6,278.3 1144.8,274.0 1143.6,272.1C1142.4,270.2 1140.6,268.6 1138.7,267.5C1136.9,266.4 1133.3,264.6 1132.7,265.4Z" fill="#666666" filter="url(#bls)"/>
<path d="M1197.6,136.3C1196.9,137.0 1197.9,140.6 1198.6,142.3C1199.3,144.1 1200.3,145.7 1201.7,146.7C1203.2,147.7 1206.5,148.9 1207.2,148.1C1208.0,147.3 1207.2,143.5 1206.5,141.8C1205.8,140.1 1204.3,138.8 1202.9,137.9C1201.4,137.0 1198.3,135.5 1197.6,136.3Z" fill="#999999" filter="url(#bls)"/>
<path d="M1184.6,123.2C1184.4,124.2 1186.3,126.2 1187.4,127.1C1188.4,128.0 1189.6,128.7 1190.9,128.5C1192.1,128.4 1194.7,127.4 1194.9,126.3C1195.1,125.3 1193.3,122.9 1192.2,122.1C1191.2,121.3 1189.8,121.2 1188.5,121.3C1187.3,121.5 1184.8,122.3 1184.6,123.2Z" fill="#a8a8a8" filter="url(#bls)"/>
<path d="M1097.6,252.4C1097.7,253.5 1100.8,255.0 1102.3,255.6C1103.9,256.1 1105.6,256.4 1107.1,255.9C1108.5,255.4 1111.3,253.7 1111.1,252.5C1111.0,251.4 1108.0,249.6 1106.4,249.0C1104.8,248.5 1103.1,248.8 1101.7,249.4C1100.2,249.9 1097.5,251.4 1097.6,252.4Z" fill="#666666" filter="url(#bls)"/>
<path d="M1209.5,302.3C1209.8,302.7 1214.2,301.6 1216.4,300.9C1218.6,300.3 1220.9,299.4 1222.8,298.3C1224.6,297.1 1227.8,294.6 1227.4,294.2C1227.0,293.7 1222.6,294.6 1220.4,295.3C1218.2,296.0 1216.0,297.2 1214.2,298.3C1212.3,299.5 1209.1,301.8 1209.5,302.3Z" fill="#666666" filter="url(#bls)"/>
<path d="M1271.8,260.2C1271.7,260.7 1275.2,263.2 1277.1,264.4C1279.0,265.5 1281.1,266.6 1283.1,267.2C1285.1,267.7 1288.9,268.3 1289.0,267.7C1289.2,267.0 1285.7,264.4 1283.8,263.3C1281.9,262.2 1279.6,261.4 1277.6,260.8C1275.6,260.3 1271.8,259.6 1271.8,260.2Z" fill="#a0a0a0" filter="url(#bls)"/>
<path d="M1194.2,218.3C1194.0,218.9 1197.1,222.7 1198.7,224.7C1200.4,226.6 1202.3,228.6 1204.3,230.0C1206.2,231.4 1210.0,233.7 1210.3,233.1C1210.6,232.6 1207.6,228.6 1205.9,226.6C1204.2,224.7 1202.0,223.0 1200.1,221.6C1198.2,220.2 1194.4,217.8 1194.2,218.3Z" fill="#999999" filter="url(#bls)"/>
<path d="M1234.6,288.2C1234.7,288.8 1239.2,290.1 1241.6,290.7C1244.0,291.2 1246.5,291.7 1248.8,291.6C1251.0,291.6 1255.2,291.0 1255.1,290.4C1255.0,289.7 1250.5,288.3 1248.1,287.8C1245.8,287.2 1243.2,287.1 1240.9,287.2C1238.7,287.3 1234.5,287.7 1234.6,288.2Z" fill="#a0a0a0" filter="url(#bls)"/>
<path d="M1264.4,243.9C1264.0,244.5 1265.6,247.1 1266.5,248.4C1267.4,249.7 1268.5,250.9 1269.7,251.7C1271.0,252.4 1273.6,253.5 1274.0,252.9C1274.4,252.3 1272.9,249.5 1272.0,248.3C1271.1,247.0 1269.8,246.0 1268.5,245.3C1267.2,244.6 1264.7,243.4 1264.4,243.9Z" fill="#a8a8a8" filter="url(#bls)"/>
<path d="M1034.0,159.7C1034.1,160.4 1037.2,161.5 1038.8,162.0C1040.5,162.4 1042.2,162.7 1043.8,162.5C1045.3,162.2 1048.2,161.3 1048.1,160.5C1048.0,159.8 1044.9,158.5 1043.3,158.1C1041.7,157.7 1039.9,157.8 1038.3,158.0C1036.8,158.3 1033.9,159.1 1034.0,159.7Z" fill="#6d6d6d" filter="url(#bls)"/>
<path d="M1080.5,140.7C1080.8,141.6 1084.7,142.2 1086.7,142.3C1088.7,142.5 1090.8,142.4 1092.5,141.7C1094.2,141.0 1097.3,139.0 1097.0,138.0C1096.7,137.1 1092.8,136.2 1090.8,136.1C1088.8,136.0 1086.7,136.6 1085.0,137.3C1083.3,138.1 1080.2,139.9 1080.5,140.7Z" fill="#a8a8a8" filter="url(#bls)"/>
<path d="M1100.8,156.9C1100.4,157.6 1103.0,161.5 1104.4,163.3C1105.9,165.2 1107.6,166.9 1109.5,168.0C1111.4,169.1 1115.3,170.6 1115.8,169.8C1116.2,168.9 1113.8,165.0 1112.3,163.2C1110.9,161.3 1108.8,159.9 1106.9,158.9C1105.0,157.8 1101.2,156.2 1100.8,156.9Z" fill="#6d6d6d" filter="url(#bls)"/>
<path d="M1049.7,287.8C1049.2,288.6 1050.7,291.5 1051.6,292.9C1052.5,294.2 1053.6,295.5 1055.1,296.1C1056.5,296.6 1059.5,297.1 1060.1,296.3C1060.6,295.4 1059.3,292.3 1058.4,291.0C1057.4,289.6 1056.0,288.8 1054.5,288.2C1053.1,287.7 1050.2,287.0 1049.7,287.8Z" fill="#6d6d6d" filter="url(#bls)"/>
<path d="M1097.3,318.3C1097.8,319.2 1102.5,319.1 1104.9,318.9C1107.3,318.7 1109.7,318.2 1111.7,317.1C1113.6,316.0 1116.9,313.2 1116.4,312.2C1115.9,311.2 1111.1,311.0 1108.7,311.2C1106.4,311.5 1104.1,312.5 1102.2,313.7C1100.3,314.8 1096.9,317.4 1097.3,318.3Z" fill="#666666" filter="url(#bls)"/>
<path d="M1216.5,220.5C1216.2,221.4 1218.9,224.2 1220.4,225.5C1221.9,226.8 1223.6,227.9 1225.3,228.3C1227.1,228.7 1230.7,228.9 1231.0,227.9C1231.3,227.0 1228.7,224.0 1227.2,222.8C1225.8,221.5 1223.8,220.8 1222.0,220.4C1220.3,220.1 1216.8,219.7 1216.5,220.5Z" fill="#6d6d6d" filter="url(#bls)"/>
<path d="M1212.2,249.6C1212.3,250.3 1215.0,251.0 1216.3,251.3C1217.7,251.6 1219.2,251.7 1220.4,251.2C1221.6,250.8 1223.8,249.5 1223.7,248.8C1223.5,248.1 1220.9,247.1 1219.5,246.9C1218.1,246.6 1216.7,246.9 1215.5,247.4C1214.3,247.8 1212.0,249.0 1212.2,249.6Z" fill="#6d6d6d" filter="url(#bls)"/>
<path d="M980.6,227.9C980.7,228.6 983.8,229.7 985.4,230.1C987.0,230.5 988.7,230.7 990.2,230.4C991.7,230.1 994.5,228.9 994.4,228.1C994.2,227.3 991.2,226.1 989.6,225.7C988.0,225.3 986.2,225.5 984.7,225.9C983.2,226.3 980.5,227.2 980.6,227.9Z" fill="#999999" filter="url(#bls)"/>
<path d="M1266.5,165.8C1266.2,166.3 1268.0,169.1 1269.1,170.6C1270.1,172.0 1271.3,173.3 1272.7,174.2C1274.0,175.1 1276.8,176.4 1277.2,175.8C1277.6,175.3 1275.9,172.3 1274.8,170.9C1273.8,169.5 1272.3,168.3 1270.9,167.5C1269.6,166.6 1266.9,165.2 1266.5,165.8Z" fill="#a8a8a8" filter="url(#bls)"/>
<path d="M1049.9,230.6C1049.4,231.2 1051.4,235.2 1052.6,237.2C1053.7,239.2 1055.1,241.2 1056.8,242.6C1058.4,244.0 1062.0,246.1 1062.5,245.4C1063.0,244.7 1061.2,240.5 1060.0,238.6C1058.8,236.6 1057.1,234.9 1055.4,233.5C1053.7,232.2 1050.3,230.0 1049.9,230.6Z" fill="#999999" filter="url(#bls)"/>
<path d="M1084.1,260.8C1084.0,261.6 1085.9,263.5 1087.0,264.4C1088.1,265.2 1089.3,265.8 1090.6,265.7C1091.8,265.6 1094.3,264.8 1094.5,263.8C1094.7,262.9 1092.8,260.7 1091.7,259.9C1090.6,259.2 1089.3,259.0 1088.0,259.1C1086.7,259.3 1084.3,259.9 1084.1,260.8Z" fill="#6d6d6d" filter="url(#bls)"/>
<path d="M998.7,286.2C998.5,287.1 1001.7,289.9 1003.5,291.2C1005.2,292.5 1007.2,293.6 1009.1,294.0C1011.1,294.3 1015.1,294.3 1015.3,293.3C1015.6,292.3 1012.5,289.3 1010.7,288.0C1008.9,286.8 1006.8,286.1 1004.8,285.8C1002.8,285.5 998.9,285.3 998.7,286.2Z" fill="#999999" filter="url(#bls)"/>
<path d="M1063.3,185.0C1063.6,186.0 1067.4,186.6 1069.3,186.6C1071.2,186.7 1073.2,186.5 1074.6,185.6C1076.1,184.6 1078.7,182.1 1078.3,181.0C1077.8,180.0 1074.0,179.1 1072.1,179.1C1070.2,179.1 1068.4,179.8 1067.0,180.8C1065.5,181.8 1062.9,184.1 1063.3,185.0Z" fill="#a0a0a0" filter="url(#bls)"/>
<path d="M1262.4,323.2C1262.7,324.0 1267.6,324.0 1270.1,323.8C1272.6,323.7 1275.1,323.3 1277.2,322.3C1279.3,321.3 1283.0,318.9 1282.6,318.0C1282.2,317.1 1277.3,316.9 1274.8,317.1C1272.3,317.3 1269.9,318.2 1267.8,319.2C1265.7,320.2 1262.0,322.4 1262.4,323.2Z" fill="#b6b6b6" filter="url(#bls)"/>
<path d="M1274.7,326.0C1275.3,326.1 1277.9,322.7 1279.2,320.8C1280.4,319.0 1281.6,316.9 1282.2,314.9C1282.8,312.9 1283.5,309.1 1282.8,308.9C1282.1,308.8 1279.4,312.2 1278.2,314.1C1277.0,315.9 1276.1,318.1 1275.5,320.1C1274.9,322.1 1274.1,325.9 1274.7,326.0Z" fill="#8a8a8a" filter="url(#bls)"/>
<path d="M1260.8,398.5C1261.3,398.7 1263.5,397.2 1264.6,396.4C1265.7,395.5 1266.7,394.5 1267.3,393.4C1267.9,392.3 1268.6,389.9 1268.1,389.6C1267.6,389.3 1265.2,390.7 1264.2,391.6C1263.1,392.5 1262.3,393.6 1261.8,394.8C1261.2,395.9 1260.4,398.2 1260.8,398.5Z" fill="#8a8a8a" filter="url(#bls)"/>
<path d="M1248.2,370.7C1248.8,371.1 1252.8,368.7 1254.8,367.4C1256.8,366.0 1258.7,364.4 1260.1,362.6C1261.5,360.9 1263.6,357.2 1262.9,356.7C1262.3,356.3 1258.1,358.6 1256.2,360.0C1254.2,361.4 1252.5,363.2 1251.2,365.0C1249.8,366.8 1247.6,370.4 1248.2,370.7Z" fill="#bdbdbd" filter="url(#bls)"/>
<path d="M1199.3,331.4C1199.7,332.0 1203.9,331.6 1206.0,331.2C1208.2,330.9 1210.4,330.3 1212.1,329.3C1213.8,328.2 1216.8,325.8 1216.4,325.1C1215.9,324.3 1211.6,324.6 1209.5,325.0C1207.4,325.3 1205.4,326.3 1203.6,327.4C1201.9,328.5 1198.9,330.7 1199.3,331.4Z" fill="#bdbdbd" filter="url(#bls)"/>
<path d="M1194.5,372.9C1195.3,373.0 1198.0,369.7 1199.2,367.9C1200.4,366.1 1201.6,364.0 1202.0,362.1C1202.4,360.1 1202.7,356.2 1201.8,356.0C1201.0,355.8 1198.1,359.0 1196.9,360.9C1195.7,362.7 1195.0,364.9 1194.6,366.9C1194.2,368.9 1193.8,372.7 1194.5,372.9Z" fill="#bdbdbd" filter="url(#bls)"/>
<path d="M1137.0,373.3C1137.5,373.6 1140.5,371.8 1142.0,370.8C1143.5,369.8 1144.9,368.6 1145.9,367.2C1146.9,365.9 1148.5,363.1 1148.0,362.8C1147.5,362.4 1144.4,364.1 1142.9,365.1C1141.4,366.2 1140.1,367.6 1139.2,369.0C1138.2,370.3 1136.5,373.0 1137.0,373.3Z" fill="#b6b6b6" filter="url(#bls)"/>
<path d="M1212.0,383.5C1212.6,384.0 1215.6,383.0 1217.1,382.3C1218.5,381.6 1219.9,380.7 1220.7,379.5C1221.5,378.2 1222.5,375.4 1221.8,374.8C1221.1,374.1 1217.9,375.0 1216.5,375.7C1215.1,376.4 1214.0,377.7 1213.2,379.0C1212.5,380.3 1211.3,382.9 1212.0,383.5Z" fill="#8a8a8a" filter="url(#bls)"/>
<path d="M1189.3,406.2C1190.0,406.4 1193.5,403.4 1195.3,401.7C1197.0,400.0 1198.7,398.1 1199.7,396.2C1200.8,394.2 1202.3,390.2 1201.6,389.9C1200.9,389.6 1197.2,392.5 1195.5,394.2C1193.8,395.9 1192.4,398.1 1191.4,400.1C1190.3,402.0 1188.7,405.9 1189.3,406.2Z" fill="#b6b6b6" filter="url(#bls)"/>
<path d="M1265.2,361.1C1265.6,361.6 1269.4,360.8 1271.4,360.3C1273.3,359.8 1275.3,359.0 1276.9,358.0C1278.5,357.0 1281.2,354.8 1280.8,354.2C1280.4,353.7 1276.5,354.4 1274.6,354.9C1272.7,355.4 1270.8,356.5 1269.2,357.5C1267.7,358.5 1264.9,360.6 1265.2,361.1Z" fill="#b6b6b6" filter="url(#bls)"/>
<path d="M1273.4,368.3C1273.7,368.8 1276.8,368.2 1278.3,367.7C1279.9,367.3 1281.5,366.7 1282.6,365.8C1283.8,364.9 1285.7,362.8 1285.3,362.2C1285.0,361.7 1281.8,362.2 1280.3,362.7C1278.8,363.1 1277.3,364.0 1276.2,365.0C1275.0,365.9 1273.0,367.9 1273.4,368.3Z" fill="#bdbdbd" filter="url(#bls)"/>
<path d="M1154.8,390.4C1155.0,391.0 1158.2,390.9 1159.8,390.8C1161.4,390.7 1163.1,390.4 1164.4,389.7C1165.7,389.0 1168.0,387.3 1167.7,386.6C1167.4,386.0 1164.2,385.9 1162.6,386.0C1161.0,386.2 1159.5,386.8 1158.2,387.5C1156.8,388.2 1154.5,389.8 1154.8,390.4Z" fill="#8a8a8a" filter="url(#bls)"/>
<path d="M1186.2,340.1C1186.9,340.4 1189.4,338.3 1190.6,337.2C1191.9,336.0 1193.0,334.7 1193.5,333.2C1194.0,331.7 1194.5,328.7 1193.8,328.4C1193.1,328.1 1190.3,330.0 1189.1,331.2C1188.0,332.4 1187.2,334.0 1186.7,335.4C1186.2,336.9 1185.5,339.8 1186.2,340.1Z" fill="#bdbdbd" filter="url(#bls)"/>
<path d="M1207.3,390.6C1207.7,391.2 1210.8,391.0 1212.3,390.8C1213.8,390.5 1215.3,390.0 1216.4,389.1C1217.5,388.2 1219.3,386.0 1218.8,385.3C1218.4,384.6 1215.3,384.6 1213.8,384.9C1212.3,385.2 1210.9,386.0 1209.9,387.0C1208.8,387.9 1206.9,390.0 1207.3,390.6Z" fill="#b6b6b6" filter="url(#bls)"/>
<path d="M1310.9,618.7C1310.2,619.3 1312.5,625.7 1313.8,629.0C1315.2,632.2 1316.8,635.5 1318.8,638.0C1320.8,640.6 1325.1,644.9 1325.8,644.2C1326.5,643.5 1324.5,637.0 1323.1,633.8C1321.7,630.6 1319.7,627.5 1317.6,625.0C1315.6,622.5 1311.5,618.0 1310.9,618.7Z" fill="#505050" filter="url(#bls)"/>
<path d="M1278.5,657.9C1278.4,658.4 1281.2,660.8 1282.8,661.9C1284.3,663.1 1286.0,664.1 1287.7,664.7C1289.4,665.3 1292.7,665.9 1292.8,665.3C1293.0,664.7 1290.2,662.2 1288.7,661.1C1287.1,660.0 1285.3,659.2 1283.6,658.7C1281.9,658.1 1278.6,657.3 1278.5,657.9Z" fill="#575757" filter="url(#bls)"/>
<path d="M1235.8,600.4C1235.5,600.9 1237.4,603.5 1238.5,604.8C1239.5,606.1 1240.7,607.3 1242.1,608.1C1243.4,608.9 1246.1,610.0 1246.4,609.5C1246.7,608.9 1245.0,606.2 1243.9,604.9C1242.8,603.6 1241.4,602.6 1240.1,601.9C1238.7,601.1 1236.1,599.9 1235.8,600.4Z" fill="#505050" filter="url(#bls)"/>
<path d="M1380.9,588.6C1380.4,589.2 1382.9,593.9 1384.3,596.3C1385.7,598.7 1387.3,601.1 1389.2,602.9C1391.0,604.7 1394.9,607.6 1395.4,606.9C1395.9,606.3 1393.5,601.4 1392.1,599.1C1390.7,596.7 1388.7,594.5 1386.9,592.8C1385.0,591.0 1381.3,588.0 1380.9,588.6Z" fill="#505050" filter="url(#bls)"/>
<path d="M1335.7,651.0C1335.7,651.6 1340.4,654.0 1342.9,655.1C1345.4,656.2 1348.1,657.3 1350.6,657.8C1353.1,658.3 1357.8,658.8 1357.8,658.1C1357.8,657.5 1353.1,655.0 1350.6,653.9C1348.1,652.8 1345.3,652.1 1342.8,651.6C1340.3,651.1 1335.7,650.4 1335.7,651.0Z" fill="#505050" filter="url(#bls)"/>
<path d="M1255.2,605.3C1254.9,606.1 1257.3,608.8 1258.6,610.1C1259.9,611.4 1261.4,612.6 1263.1,613.1C1264.7,613.6 1268.0,614.0 1268.3,613.2C1268.7,612.4 1266.4,609.4 1265.1,608.2C1263.7,606.9 1262.0,606.1 1260.3,605.7C1258.7,605.2 1255.5,604.6 1255.2,605.3Z" fill="#575757" filter="url(#bls)"/>
<path d="M1279.5,634.8C1279.1,635.7 1282.7,640.2 1284.7,642.4C1286.7,644.6 1289.0,646.7 1291.4,648.0C1293.9,649.4 1298.8,651.3 1299.2,650.3C1299.7,649.4 1296.2,644.7 1294.1,642.6C1292.1,640.4 1289.5,638.6 1287.1,637.4C1284.6,636.1 1279.9,634.0 1279.5,634.8Z" fill="#575757" filter="url(#bls)"/>
<path d="M1393.1,647.8C1392.7,648.4 1393.9,651.5 1394.7,653.0C1395.4,654.5 1396.5,656.0 1397.7,656.9C1399.0,657.8 1401.9,659.1 1402.4,658.5C1403.0,657.8 1401.9,654.6 1401.1,653.1C1400.3,651.6 1399.0,650.4 1397.6,649.5C1396.3,648.6 1393.6,647.2 1393.1,647.8Z" fill="#494949" filter="url(#bls)"/>
<path d="M1320.1,557.9C1319.5,558.3 1321.1,564.8 1322.1,568.0C1323.0,571.3 1324.2,574.7 1325.7,577.5C1327.2,580.3 1330.5,585.3 1331.0,584.8C1331.6,584.3 1330.2,577.8 1329.2,574.6C1328.2,571.3 1326.7,568.0 1325.2,565.2C1323.6,562.4 1320.6,557.4 1320.1,557.9Z" fill="#575757" filter="url(#bls)"/>
<path d="M1348.9,597.8C1348.6,598.4 1352.1,603.3 1354.0,605.7C1355.9,608.1 1358.1,610.6 1360.4,612.3C1362.7,614.1 1367.2,616.9 1367.6,616.2C1368.0,615.5 1364.6,610.5 1362.7,608.1C1360.7,605.7 1358.3,603.6 1356.0,601.9C1353.7,600.1 1349.2,597.2 1348.9,597.8Z" fill="#505050" filter="url(#bls)"/>
<path d="M1266.8,613.8C1266.1,614.4 1267.1,619.3 1267.8,621.9C1268.5,624.4 1269.4,626.9 1270.9,628.9C1272.3,630.8 1275.5,634.1 1276.3,633.6C1277.1,633.0 1276.3,627.9 1275.5,625.4C1274.8,622.9 1273.4,620.6 1272.0,618.6C1270.5,616.7 1267.5,613.3 1266.8,613.8Z" fill="#5f5f5f" filter="url(#bls)"/>
<path d="M1205.6,553.9C1205.5,554.5 1209.3,557.0 1211.3,558.3C1213.3,559.5 1215.5,560.7 1217.6,561.3C1219.7,561.9 1223.8,562.6 1223.9,562.0C1224.0,561.3 1220.3,558.6 1218.3,557.4C1216.3,556.2 1213.9,555.3 1211.8,554.7C1209.7,554.1 1205.7,553.3 1205.6,553.9Z" fill="#494949" filter="url(#bls)"/>
<path d="M1391.6,633.1C1391.3,633.8 1394.5,638.2 1396.3,640.4C1398.1,642.6 1400.1,644.8 1402.2,646.3C1404.4,647.9 1408.7,650.2 1409.1,649.5C1409.5,648.8 1406.4,644.2 1404.6,642.1C1402.8,639.9 1400.5,638.0 1398.3,636.5C1396.2,635.0 1391.9,632.5 1391.6,633.1Z" fill="#5f5f5f" filter="url(#bls)"/>
<path d="M1245.4,511.7C1244.8,512.1 1244.9,516.1 1245.1,518.1C1245.3,520.1 1245.8,522.2 1246.7,523.8C1247.6,525.5 1249.9,528.3 1250.6,528.0C1251.4,527.6 1251.4,523.5 1251.2,521.5C1250.9,519.5 1250.1,517.5 1249.1,515.9C1248.2,514.3 1246.1,511.4 1245.4,511.7Z" fill="#494949" filter="url(#bls)"/>
<path d="M1323.1,576.4C1323.0,577.2 1327.5,579.9 1329.9,581.2C1332.2,582.4 1334.8,583.6 1337.3,584.0C1339.7,584.4 1344.5,584.6 1344.6,583.7C1344.7,582.9 1340.3,580.0 1337.9,578.8C1335.5,577.5 1332.7,576.8 1330.3,576.4C1327.8,576.1 1323.2,575.7 1323.1,576.4Z" fill="#505050" filter="url(#bls)"/>
<path d="M1160.5,614.6C1160.2,615.4 1162.2,617.9 1163.3,619.1C1164.5,620.3 1165.8,621.3 1167.2,621.7C1168.7,622.1 1171.7,622.3 1172.1,621.5C1172.4,620.6 1170.5,617.9 1169.4,616.8C1168.2,615.6 1166.7,615.0 1165.2,614.6C1163.7,614.3 1160.8,613.9 1160.5,614.6Z" fill="#505050" filter="url(#bls)"/>
<path d="M1361.2,637.2C1360.6,637.8 1361.7,641.3 1362.4,643.0C1363.1,644.7 1364.0,646.4 1365.3,647.6C1366.7,648.7 1369.6,650.3 1370.3,649.7C1370.9,649.1 1370.0,645.4 1369.3,643.7C1368.6,642.0 1367.2,640.6 1365.9,639.5C1364.5,638.4 1361.8,636.6 1361.2,637.2Z" fill="#505050" filter="url(#bls)"/>
<path d="M1334.8,584.2C1334.4,585.0 1338.5,589.9 1340.8,592.3C1343.0,594.7 1345.6,597.0 1348.3,598.5C1350.9,600.0 1356.2,602.2 1356.7,601.3C1357.1,600.4 1353.1,595.3 1350.8,593.0C1348.6,590.6 1345.7,588.7 1343.0,587.2C1340.3,585.7 1335.1,583.3 1334.8,584.2Z" fill="#505050" filter="url(#bls)"/>
<path d="M1389.6,586.0C1389.8,586.8 1393.1,587.6 1394.8,587.9C1396.5,588.1 1398.3,588.2 1399.9,587.7C1401.4,587.1 1404.1,585.5 1403.9,584.7C1403.7,583.8 1400.4,582.8 1398.7,582.6C1397.0,582.4 1395.2,582.7 1393.7,583.3C1392.1,583.9 1389.4,585.3 1389.6,586.0Z" fill="#5f5f5f" filter="url(#bls)"/>
<path d="M1364.1,618.6C1363.9,619.1 1365.2,620.4 1366.0,621.1C1366.7,621.7 1367.5,622.2 1368.4,622.4C1369.3,622.5 1371.1,622.4 1371.3,621.9C1371.4,621.3 1370.2,619.8 1369.4,619.2C1368.7,618.6 1367.7,618.3 1366.8,618.2C1365.9,618.1 1364.2,618.1 1364.1,618.6Z" fill="#626262" filter="url(#bls)"/>
<path d="M1371.7,584.8C1371.6,585.4 1373.3,587.1 1374.2,587.9C1375.2,588.7 1376.2,589.3 1377.4,589.5C1378.5,589.6 1380.7,589.5 1380.9,588.8C1381.1,588.1 1379.5,586.3 1378.5,585.5C1377.6,584.8 1376.4,584.4 1375.2,584.3C1374.1,584.2 1371.9,584.2 1371.7,584.8Z" fill="#5b5b5b" filter="url(#bls)"/>
<path d="M1412.9,583.0C1412.8,583.4 1415.9,585.8 1417.6,587.0C1419.2,588.2 1421.1,589.4 1422.8,590.1C1424.5,590.9 1427.9,591.9 1428.0,591.5C1428.1,591.0 1425.1,588.4 1423.4,587.3C1421.8,586.1 1419.8,585.1 1418.1,584.4C1416.3,583.7 1413.0,582.5 1412.9,583.0Z" fill="#6d6d6d" filter="url(#bls)"/>
<path d="M1400.1,584.5C1400.3,585.0 1403.8,585.6 1405.6,585.8C1407.4,586.0 1409.3,586.0 1411.0,585.6C1412.6,585.2 1415.6,584.0 1415.4,583.4C1415.2,582.8 1411.7,582.0 1409.9,581.9C1408.1,581.7 1406.2,582.0 1404.6,582.5C1403.0,582.9 1400.0,583.9 1400.1,584.5Z" fill="#666666" filter="url(#bls)"/>
<path d="M1426.5,607.5C1426.8,608.0 1430.2,608.1 1432.0,608.1C1433.7,608.0 1435.6,607.7 1437.1,607.1C1438.6,606.4 1441.2,604.7 1440.9,604.1C1440.6,603.5 1437.2,603.2 1435.4,603.3C1433.7,603.4 1431.9,604.0 1430.4,604.7C1428.9,605.4 1426.2,606.9 1426.5,607.5Z" fill="#5f5f5f" filter="url(#bls)"/>
<path d="M1385.7,624.2C1385.5,624.7 1387.1,626.3 1387.9,627.1C1388.8,627.9 1389.8,628.6 1390.8,629.0C1391.8,629.3 1393.9,629.6 1394.1,629.2C1394.2,628.7 1392.7,627.0 1391.9,626.2C1391.0,625.4 1389.9,624.9 1388.8,624.6C1387.8,624.3 1385.8,623.8 1385.7,624.2Z" fill="#666666" filter="url(#bls)"/>
<path d="M1364.0,585.1C1363.9,585.8 1365.7,587.6 1366.6,588.3C1367.6,589.1 1368.7,589.6 1369.8,589.6C1370.9,589.5 1373.2,588.8 1373.4,587.9C1373.6,587.1 1371.9,585.2 1370.9,584.4C1369.9,583.7 1368.7,583.6 1367.5,583.7C1366.4,583.8 1364.2,584.3 1364.0,585.1Z" fill="#666666" filter="url(#bls)"/>
<path d="M1340.1,628.0C1340.1,628.5 1342.2,629.4 1343.3,629.8C1344.4,630.1 1345.6,630.3 1346.6,630.1C1347.7,630.0 1349.6,629.2 1349.6,628.7C1349.6,628.1 1347.5,627.1 1346.4,626.8C1345.3,626.4 1344.1,626.5 1343.1,626.7C1342.0,626.9 1340.1,627.5 1340.1,628.0Z" fill="#5b5b5b" filter="url(#bls)"/>
<path d="M1390.0,615.3C1389.9,615.8 1391.8,617.8 1392.9,618.8C1393.9,619.7 1395.2,620.6 1396.4,621.0C1397.7,621.3 1400.2,621.6 1400.5,621.0C1400.7,620.4 1398.8,618.2 1397.7,617.3C1396.7,616.4 1395.3,615.8 1394.0,615.5C1392.7,615.1 1390.2,614.7 1390.0,615.3Z" fill="#666666" filter="url(#bls)"/>
<path d="M1430.0,627.5C1429.9,627.9 1431.4,629.0 1432.2,629.6C1433.0,630.1 1433.9,630.5 1434.8,630.6C1435.6,630.7 1437.4,630.6 1437.5,630.1C1437.6,629.7 1436.1,628.4 1435.3,627.9C1434.5,627.4 1433.5,627.2 1432.6,627.1C1431.7,627.0 1430.1,627.1 1430.0,627.5Z" fill="#5b5b5b" filter="url(#bls)"/>
<path d="M1345.9,592.5C1345.8,593.0 1348.5,595.3 1349.9,596.4C1351.3,597.6 1353.0,598.6 1354.6,599.2C1356.1,599.8 1359.3,600.5 1359.5,600.0C1359.6,599.4 1357.0,596.9 1355.6,595.8C1354.1,594.7 1352.3,593.9 1350.7,593.4C1349.1,592.8 1346.0,591.9 1345.9,592.5Z" fill="#6d6d6d" filter="url(#bls)"/>
<path d="M1451.2,635.4C1451.0,636.1 1452.5,637.7 1453.4,638.5C1454.2,639.2 1455.2,639.8 1456.3,639.8C1457.3,639.8 1459.4,639.3 1459.6,638.5C1459.8,637.8 1458.4,635.9 1457.5,635.2C1456.6,634.5 1455.5,634.3 1454.4,634.3C1453.4,634.4 1451.3,634.7 1451.2,635.4Z" fill="#5f5f5f" filter="url(#bls)"/>
<path d="M1496.2,632.7C1496.1,633.2 1497.8,634.6 1498.7,635.3C1499.6,635.9 1500.7,636.5 1501.7,636.6C1502.7,636.7 1504.8,636.5 1504.9,635.9C1505.0,635.3 1503.4,633.8 1502.5,633.1C1501.5,632.5 1500.4,632.3 1499.4,632.2C1498.3,632.1 1496.3,632.2 1496.2,632.7Z" fill="#5b5b5b" filter="url(#bls)"/>
<path d="M1329.8,605.7C1329.7,606.2 1332.3,608.4 1333.7,609.4C1335.1,610.4 1336.6,611.4 1338.2,611.9C1339.7,612.5 1342.7,613.0 1342.9,612.5C1343.0,611.9 1340.5,609.6 1339.1,608.6C1337.7,607.6 1336.0,606.9 1334.4,606.4C1332.9,605.9 1329.9,605.2 1329.8,605.7Z" fill="#5f5f5f" filter="url(#bls)"/>
<path d="M1433.9,586.8C1434.2,587.5 1436.9,588.1 1438.2,588.2C1439.6,588.3 1441.0,588.3 1442.1,587.6C1443.2,587.0 1445.0,585.2 1444.7,584.3C1444.5,583.5 1441.7,582.8 1440.4,582.7C1439.1,582.6 1437.7,583.1 1436.7,583.8C1435.6,584.4 1433.7,586.0 1433.9,586.8Z" fill="#626262" filter="url(#bls)"/>
<path d="M1356.8,595.7C1356.6,596.3 1358.0,598.0 1358.8,598.9C1359.6,599.7 1360.5,600.4 1361.5,600.7C1362.5,601.0 1364.6,601.1 1364.9,600.5C1365.1,600.0 1363.8,598.1 1363.0,597.3C1362.2,596.5 1361.1,596.0 1360.1,595.8C1359.1,595.5 1357.0,595.2 1356.8,595.7Z" fill="#666666" filter="url(#bls)"/>
<path d="M1430.6,596.1C1430.8,596.5 1433.7,596.5 1435.1,596.4C1436.5,596.3 1438.1,596.0 1439.3,595.5C1440.5,594.9 1442.7,593.5 1442.4,593.0C1442.2,592.5 1439.3,592.4 1437.9,592.5C1436.5,592.7 1435.0,593.2 1433.8,593.8C1432.6,594.4 1430.4,595.6 1430.6,596.1Z" fill="#5b5b5b" filter="url(#bls)"/>
<path d="M1365.9,603.9C1365.9,604.5 1369.4,606.3 1371.3,607.1C1373.2,607.9 1375.3,608.6 1377.2,608.8C1379.1,608.9 1382.7,608.8 1382.7,608.1C1382.7,607.5 1379.2,605.5 1377.3,604.8C1375.4,604.0 1373.2,603.6 1371.3,603.5C1369.4,603.3 1365.9,603.3 1365.9,603.9Z" fill="#5b5b5b" filter="url(#bls)"/>
<path d="M1404.7,605.5C1404.5,606.1 1406.1,607.9 1407.0,608.8C1407.9,609.7 1409.0,610.5 1410.1,610.8C1411.3,611.1 1413.6,611.3 1413.8,610.7C1414.0,610.1 1412.5,608.1 1411.6,607.2C1410.6,606.4 1409.4,605.9 1408.3,605.6C1407.1,605.3 1404.9,605.0 1404.7,605.5Z" fill="#6d6d6d" filter="url(#bls)"/>
<path d="M1358.9,587.2C1358.7,587.9 1360.9,590.2 1362.1,591.3C1363.3,592.4 1364.8,593.3 1366.2,593.6C1367.7,594.0 1370.6,594.1 1370.9,593.4C1371.2,592.6 1369.0,590.1 1367.8,589.1C1366.5,588.1 1364.9,587.5 1363.5,587.2C1362.0,586.9 1359.1,586.6 1358.9,587.2Z" fill="#5b5b5b" filter="url(#bls)"/>
<path d="M1387.7,623.7C1387.6,624.3 1389.6,625.9 1390.6,626.6C1391.7,627.3 1392.8,627.9 1394.0,628.0C1395.2,628.2 1397.5,628.0 1397.6,627.4C1397.8,626.7 1395.9,625.0 1394.8,624.3C1393.8,623.6 1392.5,623.3 1391.3,623.2C1390.1,623.1 1387.9,623.2 1387.7,623.7Z" fill="#5f5f5f" filter="url(#bls)"/>
<path d="M1511.9,613.2C1512.0,614.0 1515.8,615.0 1517.7,615.4C1519.7,615.8 1521.8,615.9 1523.5,615.5C1525.3,615.1 1528.6,613.6 1528.4,612.8C1528.3,611.9 1524.5,610.7 1522.6,610.3C1520.6,610.0 1518.6,610.3 1516.8,610.7C1515.0,611.2 1511.7,612.4 1511.9,613.2Z" fill="#666666" filter="url(#bls)"/>
<path d="M1392.5,634.4C1392.3,635.0 1394.2,636.9 1395.3,637.7C1396.3,638.5 1397.5,639.2 1398.7,639.4C1400.0,639.5 1402.4,639.2 1402.6,638.5C1402.8,637.8 1401.0,635.8 1399.9,635.0C1398.9,634.2 1397.5,633.9 1396.3,633.8C1395.0,633.7 1392.6,633.7 1392.5,634.4Z" fill="#626262" filter="url(#bls)"/>
<path d="M1347.1,586.4C1346.8,587.1 1348.6,589.6 1349.6,590.8C1350.7,592.0 1351.9,593.1 1353.3,593.5C1354.7,594.0 1357.6,594.3 1358.0,593.5C1358.4,592.7 1356.7,590.0 1355.6,588.8C1354.5,587.6 1353.1,586.9 1351.6,586.5C1350.2,586.1 1347.4,585.7 1347.1,586.4Z" fill="#6d6d6d" filter="url(#bls)"/>
<path d="M1414.9,620.7C1414.9,621.2 1417.5,622.2 1418.9,622.6C1420.3,623.0 1421.7,623.2 1423.0,623.1C1424.3,622.9 1426.8,622.3 1426.7,621.7C1426.7,621.2 1424.1,620.1 1422.7,619.7C1421.3,619.3 1419.9,619.4 1418.5,619.5C1417.2,619.7 1414.8,620.2 1414.9,620.7Z" fill="#5f5f5f" filter="url(#bls)"/>
<path d="M1334.2,599.7C1334.1,600.2 1337.1,602.5 1338.7,603.6C1340.3,604.7 1342.0,605.8 1343.7,606.5C1345.4,607.2 1348.7,608.1 1348.8,607.6C1348.9,607.1 1345.9,604.7 1344.3,603.6C1342.7,602.5 1340.9,601.6 1339.2,601.0C1337.5,600.3 1334.3,599.3 1334.2,599.7Z" fill="#6d6d6d" filter="url(#bls)"/>
<path d="M1277.8,595.9C1278.0,596.3 1281.2,596.4 1282.8,596.4C1284.5,596.4 1286.2,596.3 1287.7,595.9C1289.1,595.4 1291.8,594.2 1291.6,593.8C1291.4,593.3 1288.2,593.0 1286.5,593.0C1284.9,593.1 1283.2,593.5 1281.7,593.9C1280.3,594.4 1277.6,595.4 1277.8,595.9Z" fill="#5b5b5b" filter="url(#bls)"/>
<path d="M1293.4,633.5C1293.2,634.0 1295.3,636.1 1296.4,637.2C1297.5,638.3 1298.8,639.3 1300.0,639.9C1301.3,640.5 1303.9,641.3 1304.1,640.8C1304.3,640.3 1302.3,638.1 1301.2,637.0C1300.1,636.0 1298.6,635.2 1297.3,634.6C1296.0,634.0 1293.5,633.1 1293.4,633.5Z" fill="#5b5b5b" filter="url(#bls)"/>
<path d="M1294.4,600.9C1294.4,601.5 1296.8,602.9 1298.0,603.5C1299.3,604.1 1300.7,604.5 1302.0,604.5C1303.3,604.5 1305.8,604.0 1305.8,603.4C1305.9,602.7 1303.5,601.2 1302.2,600.6C1301.0,600.1 1299.5,599.9 1298.2,600.0C1296.9,600.0 1294.4,600.3 1294.4,600.9Z" fill="#6d6d6d" filter="url(#bls)"/>
<path d="M1315.6,635.0C1315.6,635.7 1317.5,636.7 1318.5,637.2C1319.5,637.6 1320.6,637.9 1321.6,637.6C1322.6,637.4 1324.4,636.4 1324.4,635.7C1324.4,635.0 1322.5,633.8 1321.5,633.4C1320.5,633.0 1319.4,633.1 1318.4,633.4C1317.4,633.7 1315.5,634.4 1315.6,635.0Z" fill="#666666" filter="url(#bls)"/>
<path d="M1287.6,630.6C1287.7,631.2 1291.4,632.5 1293.4,633.1C1295.4,633.7 1297.5,634.1 1299.4,634.0C1301.3,634.0 1304.8,633.4 1304.8,632.7C1304.7,632.1 1301.0,630.6 1299.0,630.0C1297.0,629.5 1294.9,629.4 1293.0,629.5C1291.1,629.5 1287.5,630.0 1287.6,630.6Z" fill="#5b5b5b" filter="url(#bls)"/>
<path d="M1312.7,598.1C1312.5,598.8 1315.3,601.0 1316.8,602.0C1318.3,603.0 1320.0,603.9 1321.7,604.1C1323.3,604.3 1326.6,604.2 1326.8,603.3C1327.0,602.5 1324.2,600.1 1322.7,599.2C1321.2,598.2 1319.4,597.7 1317.7,597.6C1316.0,597.4 1312.8,597.3 1312.7,598.1Z" fill="#6d6d6d" filter="url(#bls)"/>
<path d="M1290.4,602.8C1290.3,603.5 1293.0,605.2 1294.4,606.0C1295.8,606.7 1297.4,607.3 1298.9,607.3C1300.4,607.3 1303.2,606.8 1303.3,606.0C1303.4,605.2 1300.8,603.3 1299.4,602.6C1297.9,601.9 1296.3,601.7 1294.8,601.7C1293.3,601.8 1290.4,602.1 1290.4,602.8Z" fill="#5f5f5f" filter="url(#bls)"/>
<path d="M1329.2,635.5C1329.0,636.0 1330.8,638.0 1331.8,638.8C1332.8,639.7 1333.9,640.5 1335.1,640.9C1336.3,641.2 1338.7,641.4 1338.9,640.8C1339.2,640.2 1337.4,638.1 1336.4,637.3C1335.4,636.4 1334.1,635.9 1332.9,635.6C1331.7,635.3 1329.4,634.9 1329.2,635.5Z" fill="#5b5b5b" filter="url(#bls)"/>
<path d="M1337.0,591.2C1336.9,591.9 1338.5,593.2 1339.4,593.8C1340.3,594.4 1341.2,594.8 1342.2,594.6C1343.1,594.5 1345.0,593.8 1345.1,593.0C1345.2,592.3 1343.6,590.8 1342.7,590.3C1341.9,589.7 1340.8,589.7 1339.9,589.9C1338.9,590.0 1337.1,590.6 1337.0,591.2Z" fill="#666666" filter="url(#bls)"/>
<path d="M1297.0,629.3C1297.2,630.0 1299.2,630.7 1300.2,630.9C1301.2,631.1 1302.2,631.2 1303.0,630.7C1303.9,630.3 1305.4,629.0 1305.2,628.3C1305.0,627.5 1303.1,626.7 1302.1,626.5C1301.1,626.3 1300.1,626.6 1299.2,627.0C1298.4,627.5 1296.9,628.7 1297.0,629.3Z" fill="#666666" filter="url(#bls)"/>
<path d="M1302.4,604.3C1302.5,605.1 1306.2,606.3 1308.1,606.7C1310.0,607.2 1312.1,607.4 1313.8,607.1C1315.6,606.7 1318.9,605.4 1318.8,604.5C1318.7,603.7 1315.0,602.3 1313.1,601.9C1311.2,601.5 1309.1,601.7 1307.3,602.1C1305.6,602.5 1302.3,603.6 1302.4,604.3Z" fill="#6d6d6d" filter="url(#bls)"/>
<path d="M1281.0,597.1C1281.1,597.5 1284.1,597.4 1285.7,597.4C1287.2,597.3 1288.9,597.0 1290.2,596.5C1291.5,596.0 1294.0,594.8 1293.8,594.4C1293.6,594.0 1290.5,593.9 1289.0,594.0C1287.5,594.1 1285.9,594.6 1284.5,595.1C1283.2,595.6 1280.8,596.7 1281.0,597.1Z" fill="#666666" filter="url(#bls)"/>
<path d="M1291.2,587.1C1291.1,587.7 1292.6,589.2 1293.5,589.9C1294.4,590.6 1295.4,591.1 1296.4,591.2C1297.4,591.3 1299.5,590.9 1299.6,590.3C1299.8,589.6 1298.3,587.9 1297.4,587.3C1296.5,586.6 1295.4,586.4 1294.4,586.4C1293.3,586.3 1291.3,586.5 1291.2,587.1Z" fill="#5b5b5b" filter="url(#bls)"/>
<path d="M1336.5,574.9C1336.7,575.6 1339.7,575.9 1341.2,576.0C1342.7,576.0 1344.3,575.9 1345.6,575.3C1346.9,574.7 1349.1,573.1 1348.9,572.4C1348.6,571.7 1345.6,571.2 1344.1,571.2C1342.6,571.2 1341.1,571.6 1339.8,572.3C1338.5,572.9 1336.3,574.3 1336.5,574.9Z" fill="#666666" filter="url(#bls)"/>
<path d="M1293.5,625.9C1293.7,626.6 1296.2,627.1 1297.5,627.3C1298.8,627.4 1300.1,627.3 1301.2,626.8C1302.2,626.2 1304.0,624.6 1303.8,623.9C1303.6,623.1 1301.0,622.4 1299.7,622.3C1298.5,622.2 1297.2,622.6 1296.2,623.2C1295.1,623.8 1293.3,625.2 1293.5,625.9Z" fill="#5b5b5b" filter="url(#bls)"/>
</g>
<filter id="fB" x="0" y="0" width="1" height="1" filterUnits="objectBoundingBox" color-interpolation-filters="sRGB">
<feGaussianBlur in="SourceGraphic" stdDeviation="2.5" result="f0"/>
<feTurbulence type="fractalNoise" baseFrequency="0.02" numOctaves="3" seed="7" result="n1"/>
<feDisplacementMap in="f0" in2="n1" scale="14" xChannelSelector="R" yChannelSelector="G" result="f1"/>
<feTurbulence type="fractalNoise" baseFrequency="0.035" numOctaves="4" seed="11" result="n2"/>
<feColorMatrix in="n2" type="matrix" values="1 0 0 0 0  1 0 0 0 0  1 0 0 0 0  0 0 0 0 1" result="n2g"/>
<feComposite in="f1" in2="n2g" operator="arithmetic" k1="0" k2="1.000" k3="0.26" k4="-0.1300" result="f2"/>
<feComponentTransfer in="f2"><feFuncR type="table" tableValues="0.502 0.502 0.502 0.502 0.502 0.502 0.502 0.502 0.502 0.486 0.469 0.461 0.458 0.476 0.580 0.685 0.804 0.926 1.000 1.000 1.000 1.000 1.000 1.000 1.000 1.000 1.000 0.983 0.956 0.924 0.877 0.831 0.784 0.740 0.696 0.652 0.612 0.573 0.537 0.508 0.502 0.502 0.502 0.502 0.502 0.502 0.502 0.502 0.502 0.502 0.502 0.502 0.502 0.502 0.502 0.502 0.502"/><feFuncG type="table" tableValues="0.997 0.997 0.997 0.997 0.997 0.997 0.997 0.997 1.000 0.984 0.967 0.954 0.942 0.935 0.941 0.948 0.966 0.987 0.977 0.920 0.863 0.806 0.750 0.694 0.641 0.590 0.538 0.494 0.455 0.415 0.374 0.332 0.290 0.253 0.217 0.180 0.139 0.096 0.053 0.009 0.000 0.000 0.000 0.000 0.000 0.000 0.000 0.000 0.000 0.000 0.000 0.000 0.000 0.000 0.000 0.000 0.000"/><feFuncB type="table" tableValues="0.866 0.866 0.866 0.866 0.866 0.866 0.866 0.866 0.839 0.741 0.643 0.557 0.478 0.414 0.404 0.394 0.429 0.475 0.488 0.452 0.416 0.357 0.298 0.239 0.178 0.117 0.056 0.024 0.010 0.000 0.000 0.000 0.000 0.000 0.000 0.000 0.000 0.000 0.000 0.000 0.000 0.000 0.000 0.000 0.000 0.000 0.000 0.000 0.000 0.000 0.000 0.000 0.000 0.000 0.000 0.000 0.000"/></feComponentTransfer>
</filter>
<filter id="fA" x="0" y="0" width="1" height="1" filterUnits="objectBoundingBox" color-interpolation-filters="sRGB">
<feGaussianBlur in="SourceGraphic" stdDeviation="2.5" result="f0"/>
<feTurbulence type="fractalNoise" baseFrequency="0.02" numOctaves="3" seed="7" result="n1"/>
<feDisplacementMap in="f0" in2="n1" scale="14" xChannelSelector="R" yChannelSelector="G" result="f1"/>
<feTurbulence type="fractalNoise" baseFrequency="0.035" numOctaves="4" seed="11" result="n2"/>
<feColorMatrix in="n2" type="matrix" values="1 0 0 0 0  1 0 0 0 0  1 0 0 0 0  0 0 0 0 1" result="n2g"/>
<feComposite in="f1" in2="n2g" operator="arithmetic" k1="0" k2="1.000" k3="0.42" k4="-0.2100" result="f2"/>
<feComponentTransfer in="f2"><feFuncR type="table" tableValues="0.392 0.400 0.408 0.416 0.424 0.431 0.439 0.447 0.455 0.461 0.468 0.475 0.481 0.489 0.504 0.519 0.533 0.558 0.582 0.603 0.619 0.634 0.649 0.663 0.676 0.690 0.703 0.717 0.730 0.743 0.754 0.765 0.776 0.789 0.801 0.813 0.828 0.844 0.859 0.875 0.890 0.899 0.908 0.917 0.926 0.935 0.944 0.954 0.963 0.972 0.981 0.990 0.993 0.995 0.997 0.998 1.000"/><feFuncG type="table" tableValues="0.392 0.400 0.408 0.416 0.424 0.431 0.439 0.447 0.455 0.461 0.468 0.475 0.481 0.489 0.504 0.519 0.533 0.558 0.582 0.603 0.619 0.634 0.649 0.663 0.676 0.690 0.703 0.717 0.730 0.743 0.754 0.765 0.776 0.789 0.801 0.813 0.828 0.844 0.859 0.875 0.890 0.899 0.908 0.917 0.926 0.935 0.944 0.954 0.963 0.972 0.981 0.990 0.993 0.995 0.997 0.998 1.000"/><feFuncB type="table" tableValues="0.392 0.400 0.408 0.416 0.424 0.431 0.439 0.447 0.455 0.461 0.468 0.475 0.481 0.489 0.504 0.519 0.533 0.558 0.582 0.603 0.619 0.634 0.649 0.663 0.676 0.690 0.703 0.717 0.730 0.743 0.754 0.765 0.776 0.789 0.801 0.813 0.828 0.844 0.859 0.875 0.890 0.899 0.908 0.917 0.926 0.935 0.944 0.954 0.963 0.972 0.981 0.990 0.993 0.995 0.997 0.998 1.000"/></feComponentTransfer>
</filter>
<filter id="fA2" x="0" y="0" width="1" height="1" filterUnits="objectBoundingBox" color-interpolation-filters="sRGB">
<feGaussianBlur in="SourceGraphic" stdDeviation="2.5" result="f0"/>
<feTurbulence type="fractalNoise" baseFrequency="0.02" numOctaves="3" seed="7" result="n1"/>
<feDisplacementMap in="f0" in2="n1" scale="14" xChannelSelector="R" yChannelSelector="G" result="f1"/>
<feTurbulence type="fractalNoise" baseFrequency="0.035" numOctaves="4" seed="11" result="n2"/>
<feColorMatrix in="n2" type="matrix" values="1 0 0 0 0  1 0 0 0 0  1 0 0 0 0  0 0 0 0 1" result="n2g"/>
<feComposite in="f1" in2="n2g" operator="arithmetic" k1="0" k2="1.000" k3="0.42" k4="-0.2100" result="f2"/>
<feComponentTransfer in="f2"><feFuncR type="table" tableValues="0.431 0.447 0.462 0.477 0.493 0.508 0.523 0.538 0.552 0.566 0.580 0.594 0.608 0.622 0.635 0.648 0.661 0.675 0.686 0.696 0.706 0.715 0.721 0.727 0.733 0.739 0.746 0.752 0.761 0.772 0.786 0.804 0.824 0.841 0.855 0.865 0.875 0.884 0.890 0.896 0.902 0.908 0.915 0.922 0.928 0.935 0.944 0.954 0.963 0.972 0.981 0.990 0.993 0.995 0.997 0.998 1.000"/><feFuncG type="table" tableValues="0.431 0.447 0.462 0.477 0.493 0.508 0.523 0.538 0.552 0.566 0.580 0.594 0.608 0.622 0.635 0.648 0.661 0.675 0.686 0.696 0.706 0.715 0.721 0.727 0.733 0.739 0.746 0.752 0.761 0.772 0.786 0.804 0.824 0.841 0.855 0.865 0.875 0.884 0.890 0.896 0.902 0.908 0.915 0.922 0.928 0.935 0.944 0.954 0.963 0.972 0.981 0.990 0.993 0.995 0.997 0.998 1.000"/><feFuncB type="table" tableValues="0.431 0.447 0.462 0.477 0.493 0.508 0.523 0.538 0.552 0.566 0.580 0.594 0.608 0.622 0.635 0.648 0.661 0.675 0.686 0.696 0.706 0.715 0.721 0.727 0.733 0.739 0.746 0.752 0.761 0.772 0.786 0.804 0.824 0.841 0.855 0.865 0.875 0.884 0.890 0.896 0.902 0.908 0.915 0.922 0.928 0.935 0.944 0.954 0.963 0.972 0.981 0.990 0.993 0.995 0.997 0.998 1.000"/></feComponentTransfer>
</filter>
<mask id="canopyMask" maskUnits="userSpaceOnUse" x="90" y="90" width="760" height="760"><path d="M82.5,108.8C126.3,35.8 291.2,100.7 345.2,108.8C399.2,116.8 386.8,143.8 406.5,156.9C426.2,170.1 441.5,173.0 463.4,187.6C485.3,202.2 519.6,226.3 537.9,244.5C556.1,262.7 564.1,277.3 572.9,297.0C581.7,316.7 589.0,343.0 590.4,362.7C591.9,382.4 589.0,400.7 581.7,415.3C574.4,429.9 561.2,442.3 546.6,450.3C532.0,458.3 507.9,457.6 494.1,463.4C480.2,469.3 473.6,480.2 463.4,485.3C453.2,490.4 442.3,496.3 432.8,494.1C423.3,491.9 418.2,479.5 406.5,472.2C394.8,464.9 375.9,450.3 362.7,450.3C349.6,450.3 339.4,473.6 327.7,472.2C316.0,470.7 302.1,455.4 292.7,441.5C283.2,427.7 278.1,389.0 270.8,389.0C263.5,389.0 259.8,424.0 248.9,441.5C237.9,459.1 222.6,478.0 205.1,494.1C187.6,510.1 164.2,529.1 143.8,537.9C123.4,546.6 92.7,618.1 82.5,546.6C72.3,475.1 38.7,181.7 82.5,108.8Z" fill="#fff" filter="url(#bll)"/></mask>
<filter id="cont" x="0" y="0" width="1" height="1" color-interpolation-filters="sRGB">
<feColorMatrix in="SourceGraphic" type="matrix" values="0 0 0 0 0  0 0 0 0 0  0 0 0 0 0  255 0 0 0 -253.0000" result="m0"/>
<feMorphology in="m0" operator="dilate" radius="1.05" result="d0"/>
<feMorphology in="m0" operator="erode" radius="1.05" result="e0"/>
<feComposite in="d0" in2="e0" operator="out" result="r0"/>
<feFlood flood-color="#440154" result="fl0"/>
<feGaussianBlur in="r0" stdDeviation="0.55" result="rb0"/>
<feComponentTransfer in="rb0" result="rs0"><feFuncA type="linear" slope="1.5" intercept="0"/></feComponentTransfer>
<feComposite in="fl0" in2="rs0" operator="in" result="c0"/>
<feColorMatrix in="SourceGraphic" type="matrix" values="0 0 0 0 0  0 0 0 0 0  0 0 0 0 0  255 0 0 0 -238.0000" result="m1"/>
<feMorphology in="m1" operator="dilate" radius="1.05" result="d1"/>
<feMorphology in="m1" operator="erode" radius="1.05" result="e1"/>
<feComposite in="d1" in2="e1" operator="out" result="r1"/>
<feFlood flood-color="#414487" result="fl1"/>
<feGaussianBlur in="r1" stdDeviation="0.55" result="rb1"/>
<feComponentTransfer in="rb1" result="rs1"><feFuncA type="linear" slope="1.5" intercept="0"/></feComponentTransfer>
<feComposite in="fl1" in2="rs1" operator="in" result="c1"/>
<feColorMatrix in="SourceGraphic" type="matrix" values="0 0 0 0 0  0 0 0 0 0  0 0 0 0 0  255 0 0 0 -215.0000" result="m2"/>
<feMorphology in="m2" operator="dilate" radius="1.05" result="d2"/>
<feMorphology in="m2" operator="erode" radius="1.05" result="e2"/>
<feComposite in="d2" in2="e2" operator="out" result="r2"/>
<feFlood flood-color="#2a788e" result="fl2"/>
<feGaussianBlur in="r2" stdDeviation="0.55" result="rb2"/>
<feComponentTransfer in="rb2" result="rs2"><feFuncA type="linear" slope="1.5" intercept="0"/></feComponentTransfer>
<feComposite in="fl2" in2="rs2" operator="in" result="c2"/>
<feColorMatrix in="SourceGraphic" type="matrix" values="0 0 0 0 0  0 0 0 0 0  0 0 0 0 0  255 0 0 0 -196.0000" result="m3"/>
<feMorphology in="m3" operator="dilate" radius="1.05" result="d3"/>
<feMorphology in="m3" operator="erode" radius="1.05" result="e3"/>
<feComposite in="d3" in2="e3" operator="out" result="r3"/>
<feFlood flood-color="#22a884" result="fl3"/>
<feGaussianBlur in="r3" stdDeviation="0.55" result="rb3"/>
<feComponentTransfer in="rb3" result="rs3"><feFuncA type="linear" slope="1.5" intercept="0"/></feComponentTransfer>
<feComposite in="fl3" in2="rs3" operator="in" result="c3"/>
<feColorMatrix in="SourceGraphic" type="matrix" values="0 0 0 0 0  0 0 0 0 0  0 0 0 0 0  255 0 0 0 -173.0000" result="m4"/>
<feMorphology in="m4" operator="dilate" radius="1.05" result="d4"/>
<feMorphology in="m4" operator="erode" radius="1.05" result="e4"/>
<feComposite in="d4" in2="e4" operator="out" result="r4"/>
<feFlood flood-color="#7ad151" result="fl4"/>
<feGaussianBlur in="r4" stdDeviation="0.55" result="rb4"/>
<feComponentTransfer in="rb4" result="rs4"><feFuncA type="linear" slope="1.5" intercept="0"/></feComponentTransfer>
<feComposite in="fl4" in2="rs4" operator="in" result="c4"/>
<feColorMatrix in="SourceGraphic" type="matrix" values="0 0 0 0 0  0 0 0 0 0  0 0 0 0 0  255 0 0 0 -153.0000" result="m5"/>
<feMorphology in="m5" operator="dilate" radius="1.05" result="d5"/>
<feMorphology in="m5" operator="erode" radius="1.05" result="e5"/>
<feComposite in="d5" in2="e5" operator="out" result="r5"/>
<feFlood flood-color="#fde725" result="fl5"/>
<feGaussianBlur in="r5" stdDeviation="0.55" result="rb5"/>
<feComponentTransfer in="rb5" result="rs5"><feFuncA type="linear" slope="1.5" intercept="0"/></feComponentTransfer>
<feComposite in="fl5" in2="rs5" operator="in" result="c5"/>
<feMerge><feMergeNode in="c0"/><feMergeNode in="c1"/><feMergeNode in="c2"/><feMergeNode in="c3"/><feMergeNode in="c4"/><feMergeNode in="c5"/></feMerge></filter>
</defs>
<text x="103.2" y="50.9" font-size="26.47" text-anchor="start" textLength="536.3" lengthAdjust="spacingAndGlyphs" fill="#000" >HIMAWARI-9 BAND14-DIAS TARGET AREA</text>
<text x="103.2" y="80.9" font-size="26.47" text-anchor="start" textLength="373.4" lengthAdjust="spacingAndGlyphs" fill="#000" >Time: 2026/03/23 23:22:30Z</text>
<text x="1706.3" y="37.6" font-size="17.64" text-anchor="end" textLength="353.4" lengthAdjust="spacingAndGlyphs" fill="#000" >[dmax, dmin](BAND14)=(-8.872, -70.34)</text>
<text x="1706.3" y="59.1" font-size="17.64" text-anchor="end" textLength="343.2" lengthAdjust="spacingAndGlyphs" fill="#000" >[dmax, dmin](AWV)=(-36.609, -68.173)</text>
<text x="1706.3" y="80.6" font-size="17.64" text-anchor="end" textLength="241.1" lengthAdjust="spacingAndGlyphs" fill="#000" >27P.NARELLE | 35kt, 996mb</text>
<g clip-path="url(#clipA)">
<rect x="103" y="100" width="732" height="732" fill="#000"/>
<g id="imgAcore"><g clip-path="url(#swA)"><g transform="translate(-875,0)"><g filter="url(#fA)"><use href="#fld"/></g></g><g mask="url(#canopyMask)"><g transform="translate(-875,0)"><g filter="url(#fA2)"><use href="#fld"/></g></g></g><path d="M128.5,163.5C132.1,158.7 144.9,158.7 154.7,159.1C164.6,159.5 181.7,161.3 187.6,165.7C193.4,170.1 193.4,181.0 189.8,185.4C186.1,189.8 175.2,191.6 165.7,191.9C156.2,192.3 139.0,192.3 132.8,187.6C126.6,182.8 124.8,168.2 128.5,163.5Z" fill="rgb(100,100,100)" filter="url(#bll)"/><path d="M185.4,167.9C188.3,162.8 202.2,162.8 213.8,163.5C225.5,164.2 247.4,167.1 255.4,172.2C263.5,177.3 266.0,189.4 262.0,194.1C258.0,198.9 242.3,200.7 231.3,200.7C220.4,200.7 204.0,199.6 196.3,194.1C188.7,188.7 182.5,173.0 185.4,167.9Z" fill="rgb(95,95,95)" filter="url(#bll)"/><path d="M91.2,183.2C97.1,176.3 119.7,183.2 126.3,187.6C132.8,191.9 131.7,202.9 130.6,209.5C129.6,216.0 126.3,223.7 119.7,227.0C113.1,230.3 96.0,236.5 91.2,229.2C86.5,221.9 85.4,190.1 91.2,183.2Z" fill="rgb(118,118,118)" filter="url(#blm)"/><path d="M266.4,644.5C275.1,636.8 302.1,634.3 318.9,637.9C335.7,641.6 356.5,655.5 367.1,666.4C377.7,677.3 385.7,690.8 382.4,703.6C379.1,716.4 360.9,738.3 347.4,743.0C333.9,747.8 314.9,741.9 301.4,732.1C287.9,722.2 272.2,698.5 266.4,683.9C260.5,669.3 257.6,652.2 266.4,644.5Z" fill="rgb(75,75,75)" opacity="0.6" filter="url(#bll)"/><path d="M165.7,570.1C170.1,565.7 201.4,570.8 213.8,578.8C226.2,586.9 238.6,609.5 240.1,618.2C241.6,627.0 231.3,633.6 222.6,631.4C213.8,629.2 197.1,615.3 187.6,605.1C178.1,594.9 161.3,574.5 165.7,570.1Z" fill="rgb(80,80,80)" opacity="0.6" filter="url(#blm)"/><path d="M537.9,603.5C559.0,591.9 646.6,586.0 669.2,594.8C691.8,603.5 694.8,644.4 673.6,656.1C652.4,667.8 564.9,673.6 542.2,664.8C519.6,656.1 516.7,615.2 537.9,603.5Z" fill="rgb(85,85,85)" opacity="0.6" filter="url(#bll)"/><path d="M581.7,721.8C596.2,702.8 663.4,695.5 678.0,713.0C692.6,730.5 683.8,807.9 669.2,826.9C654.6,845.8 605.0,844.4 590.4,826.9C575.8,809.3 567.1,740.7 581.7,721.8Z" fill="rgb(85,85,85)" opacity="0.6" filter="url(#bll)"/><path d="M345.2,748.0C355.4,740.7 394.8,769.9 406.5,783.1C418.2,796.2 425.5,819.6 415.3,826.9C405.0,834.2 356.9,840.0 345.2,826.9C333.5,813.7 335.0,755.3 345.2,748.0Z" fill="rgb(85,85,85)" opacity="0.5" filter="url(#bll)"/></g></g>
</g>
<g clip-path="url(#clipA)">
<rect x="431.2" y="429.2" width="72.5" height="72.3" fill="#dc3232" fill-opacity="0.5"/>
<g clip-path="url(#swA)"><use href="#imgAcore" filter="url(#cont)"/></g>

<g fill="none" stroke="#fff" stroke-width="1.5" stroke-linejoin="round"><path d="M106.6,760.3 L135.0,756.8 L165.7,745.9 L194.1,730.5 L216.0,710.8 L227.0,686.7 L231.4,669.2 L242.3,664.8 L244.5,653.9 L262.0,643.0 L275.1,632.0 L283.9,623.3 L279.5,618.9 L273.0,618.9 L271.6,603.5 L269.9,581.7 L271.6,559.8 L279.5,551.0 L292.7,544.4 L297.0,537.9 L310.2,531.3 L318.9,520.4 L327.7,505.0 L332.1,509.4 L328.6,516.0 L334.3,526.9 L338.6,529.1 L340.8,537.9 L351.8,555.4 L362.7,570.7 L369.3,581.7 L372.4,590.4 L373.7,577.3 L375.9,564.1 L375.0,551.0 L380.2,548.8 L389.0,557.6 L395.6,561.9 L391.2,551.0 L394.2,542.2 L399.9,533.5"/><path d="M625.0,309.5 L614.0,311.6 L605.3,316.0 L607.5,327.0 L596.5,331.3 L592.1,342.3 L583.4,331.3 L589.9,322.6 L579.0,329.2 L570.2,340.1 L561.5,340.1 L559.3,329.2 L548.3,327.0 L550.5,340.1 L557.1,348.9 L550.5,357.6 L548.3,368.6 L541.8,372.9 L537.4,362.0 L528.6,357.6 L524.3,372.9 L522.1,357.6 L526.5,348.9 L519.9,346.7 L517.7,366.4 L508.9,370.8 L495.8,372.9 L489.2,362.0 L482.7,370.8 L487.0,375.1 L495.8,377.3 L489.2,386.1 L491.4,392.6 L498.0,397.0 L495.8,403.6 L506.8,404.7 L506.8,411.3 L495.8,410.2 L484.9,401.4 L487.0,410.2 L473.9,416.7 L467.3,410.2 L473.9,399.2 L465.2,416.7 L473.9,425.5 L484.9,423.3 L480.5,436.4 L473.9,434.2 L467.3,423.3 L460.8,427.7 L452.0,421.1 L454.2,427.7 L445.5,429.9 L441.1,421.1 L430.1,423.3 L438.9,427.7 L447.6,436.4 L434.5,438.6 L430.1,451.8 L434.5,467.1 L441.1,473.6 L445.5,464.9 L452.0,459.4 L447.6,469.3 L443.3,478.0 L436.7,482.4 L436.7,495.5 L432.3,503.2 L452.0,503.2 L467.3,504.3 L452.0,505.4 L432.3,504.3 L419.2,504.3 L408.2,493.3 L395.1,491.2 L386.3,484.6 L373.2,489.0 L377.6,499.9 L390.7,502.1 L399.5,497.7 L395.1,506.5 L386.3,506.5 L377.6,510.9 L364.5,510.9 L373.2,521.8 L386.3,526.2 L395.1,534.9 L399.5,541.5 L390.7,548.1 L395.1,559.0 L386.3,559.0 L377.6,550.3"/><path d="M625.0,309.5 L630.0,323.0 L642.9,328.1 L656.1,325.0 L669.0,341.0 L682.1,363.1 L695.0,376.0 L706.0,379.9"/><path d="M702.1,406.5 L697.7,424.0 L700.8,437.2"/><path d="M832.0,290.5 L826.6,299.2 L825.5,308.0 L820.0,316.7 L822.2,327.7 L810.2,332.0 L801.4,336.4 L794.8,347.4 L792.6,358.3 L797.0,369.3 L805.8,375.8 L814.5,371.5 L823.3,367.1 L831.0,370.4 L818.9,378.0 L810.2,382.4 L818.9,384.6 L831.0,386.8 L823.3,391.2 L805.8,389.0 L810.2,404.3 L818.9,415.2 L812.3,415.2 L803.6,402.1 L797.0,393.3 L790.5,391.2 L786.1,397.7 L788.3,406.5 L783.9,417.4 L779.5,415.2 L781.7,402.1 L775.1,395.5 L762.0,391.2 L751.1,386.8 L740.1,384.6 L731.3,382.4 L727.0,386.8 L724.8,393.3 L728.1,404.3 L722.6,404.3 L719.3,393.3 L713.8,389.0 L709.5,395.5 L705.1,406.5 L709.5,415.2 L713.8,424.0 L716.0,430.6 L709.5,424.0 L702.9,415.2 L699.6,421.8 L697.4,428.4 L699.6,415.2 L700.7,406.5 L704.0,393.3 L707.3,384.6 L702.9,382.4"/><path d="M388,101 Q395,105 402,102"/></g>
</g>
<g clip-path="url(#swA)">
<text x="362.7" y="159.7" font-size="14.76" text-anchor="middle" textLength="30.6" lengthAdjust="spacingAndGlyphs" fill="#22a884" transform="rotate(30 362.7 159.7)">−54</text>
<text x="314.6" y="225.4" font-size="14.76" text-anchor="middle" textLength="30.6" lengthAdjust="spacingAndGlyphs" fill="#22a884" transform="rotate(20 314.6 225.4)">−54</text>
<text x="178.8" y="275.8" font-size="14.76" text-anchor="middle" textLength="30.6" lengthAdjust="spacingAndGlyphs" fill="#22a884" transform="rotate(-15 178.8 275.8)">−54</text>
<text x="174.4" y="442.2" font-size="14.76" text-anchor="middle" textLength="30.6" lengthAdjust="spacingAndGlyphs" fill="#22a884" transform="rotate(80 174.4 442.2)">−54</text>
<text x="115.3" y="538.5" font-size="14.76" text-anchor="middle" textLength="30.6" lengthAdjust="spacingAndGlyphs" fill="#2a788e" transform="rotate(-30 115.3 538.5)">−64</text>
<text x="368.0" y="356.8" font-size="14.76" text-anchor="middle" textLength="30.6" lengthAdjust="spacingAndGlyphs" fill="#2a788e" transform="rotate(-50 368.0 356.8)">−64</text>
<text x="548.8" y="323.9" font-size="14.76" text-anchor="middle" textLength="30.6" lengthAdjust="spacingAndGlyphs" fill="#2a788e" transform="rotate(55 548.8 323.9)">−64</text>
<text x="463.4" y="336.2" font-size="14.76" text-anchor="middle" textLength="30.6" lengthAdjust="spacingAndGlyphs" fill="#414487" transform="rotate(5 463.4 336.2)">−76</text>
<text x="416.1" y="367.7" font-size="14.76" text-anchor="middle" textLength="30.6" lengthAdjust="spacingAndGlyphs" fill="#440154" transform="rotate(-35 416.1 367.7)">−84</text>
<text x="119.7" y="464.1" font-size="14.76" text-anchor="middle" textLength="30.6" lengthAdjust="spacingAndGlyphs" fill="#414487" transform="rotate(80 119.7 464.1)">−76</text>
<text x="194.1" y="540.7" font-size="14.76" text-anchor="middle" textLength="30.6" lengthAdjust="spacingAndGlyphs" fill="#fde725" transform="rotate(-40 194.1 540.7)">−31</text>
<text x="165.7" y="610.7" font-size="14.76" text-anchor="middle" textLength="30.6" lengthAdjust="spacingAndGlyphs" fill="#fde725" transform="rotate(-30 165.7 610.7)">−31</text>
<text x="406.5" y="599.8" font-size="14.76" text-anchor="middle" textLength="30.6" lengthAdjust="spacingAndGlyphs" fill="#fde725" transform="rotate(10 406.5 599.8)">−31</text>
<text x="643.0" y="693.9" font-size="14.76" text-anchor="middle" textLength="30.6" lengthAdjust="spacingAndGlyphs" fill="#fde725" transform="rotate(-15 643.0 693.9)">−31</text>
<text x="618.9" y="521.0" font-size="14.76" text-anchor="middle" textLength="30.6" lengthAdjust="spacingAndGlyphs" fill="#fde725" transform="rotate(-45 618.9 521.0)">−31</text>
<text x="597.0" y="389.6" font-size="14.76" text-anchor="middle" textLength="30.6" lengthAdjust="spacingAndGlyphs" fill="#fde725" transform="rotate(90 597.0 389.6)">−31</text>
<text x="634.2" y="394.0" font-size="14.76" text-anchor="middle" textLength="30.6" lengthAdjust="spacingAndGlyphs" fill="#7ad151" transform="rotate(90 634.2 394.0)">−42</text>
<text x="632.0" y="313.0" font-size="14.76" text-anchor="middle" textLength="30.6" lengthAdjust="spacingAndGlyphs" fill="#fde725" transform="rotate(60 632.0 313.0)">−31</text>
<text x="713.9" y="367.7" font-size="14.76" text-anchor="middle" textLength="30.6" lengthAdjust="spacingAndGlyphs" fill="#7ad151" transform="rotate(90 713.9 367.7)">−42</text>
<text x="709.5" y="293.3" font-size="14.76" text-anchor="middle" textLength="30.6" lengthAdjust="spacingAndGlyphs" fill="#fde725" transform="rotate(90 709.5 293.3)">−31</text>
<text x="231.4" y="707.1" font-size="14.76" text-anchor="middle" textLength="30.6" lengthAdjust="spacingAndGlyphs" fill="#7ad151" transform="rotate(-40 231.4 707.1)">−42</text>
<text x="305.8" y="556.0" font-size="14.76" text-anchor="middle" textLength="30.6" lengthAdjust="spacingAndGlyphs" fill="#7ad151" transform="rotate(-30 305.8 556.0)">−42</text>
<text x="402.1" y="726.8" font-size="14.76" text-anchor="middle" textLength="30.6" lengthAdjust="spacingAndGlyphs" fill="#fde725" transform="rotate(30 402.1 726.8)">−31</text>
</g>
<g clip-path="url(#clipA)" stroke="#fff" stroke-width="1.9" stroke-dasharray="1.9 3.6" fill="none">
<line x1="112.0" y1="101" x2="112.0" y2="830"/>
<line x1="257.7" y1="101" x2="257.7" y2="830"/>
<line x1="403.4" y1="101" x2="403.4" y2="830"/>
<line x1="549.1" y1="101" x2="549.1" y2="830"/>
<line x1="694.8" y1="101" x2="694.8" y2="830"/>
<line x1="103" y1="184.0" x2="834" y2="184.0"/>
<line x1="103" y1="329.4" x2="834" y2="329.4"/>
<line x1="103" y1="474.8" x2="834" y2="474.8"/>
<line x1="103" y1="620.2" x2="834" y2="620.2"/>
<line x1="103" y1="765.6" x2="834" y2="765.6"/>
</g>
<g clip-path="url(#clipA)">
<line x1="104" y1="594.3" x2="464.4" y2="466.4" stroke="#0000ff" stroke-width="2.8" stroke-dasharray="2.8 4.0"/>
<polyline points="526,441.5 507.6,440.2 516,436.5 831.4,371.3" fill="none" stroke="#008000" stroke-width="3.2" stroke-linejoin="round"/>
<polyline points="534.5,438.4 608.1,410.3 700.5,380.6 790.4,329.2 833,329.2" fill="none" stroke="#0000ff" stroke-width="2.4"/>
<circle cx="534.5" cy="438.4" r="4.4" fill="#0000ff"/>
<circle cx="608.1" cy="410.3" r="3.6" fill="#0000ff"/>
<circle cx="700.5" cy="380.6" r="3.6" fill="#0000ff"/>
<circle cx="790.4" cy="329.2" r="3.8" fill="#0000ff"/>
<polyline points="464.4,466.4 526.3,440.9 514.7,437.2 548.5,426.2 597.6,409.8 653.7,394.7 672.4,390 674.8,395.8 684.1,392.3 682.9,377.1 688.8,374.8 686.4,391.2 691.1,370.1 700.5,367.8 704,388.8 714.5,363.1 725,358.4 720.3,383 730.9,378.3 747.2,373.6 794,363.1 817.3,356.1 833,353.0" fill="none" stroke="#ff0000" stroke-width="3.4" stroke-linejoin="miter"/>
<path d="M325.6,466.6 L334.4,475.4 M334.4,466.6 L325.6,475.4" stroke="#ff0000" stroke-width="3" fill="none"/>
</g>
<rect x="498.2" y="108.6" width="327" height="143.6" rx="3.5" fill="#fff" fill-opacity="0.8" stroke="#ccc" stroke-opacity="0.8" stroke-width="1.6"/>
<text x="548.4" y="128.2" font-size="15.88" text-anchor="start" textLength="269.2" lengthAdjust="spacingAndGlyphs" fill="#000">SATCON Locations [1600Z 66 983]</text>
<text x="548.4" y="150.9" font-size="15.88" text-anchor="start" textLength="213.2" lengthAdjust="spacingAndGlyphs" fill="#000">ADT Tracks [2230Z 0.0 0.0]</text>
<text x="548.4" y="173.6" font-size="15.88" text-anchor="start" textLength="243.6" lengthAdjust="spacingAndGlyphs" fill="#000">JTWC/NHC Forecast [23/1800Z]</text>
<text x="548.4" y="196.2" font-size="15.88" text-anchor="start" textLength="226.5" lengthAdjust="spacingAndGlyphs" fill="#000">JTWC/NHC Tracks [23/1800Z]</text>
<text x="548.4" y="218.9" font-size="15.88" text-anchor="start" textLength="233.0" lengthAdjust="spacingAndGlyphs" fill="#000">MESOSCALE/TARGET Location</text>
<text x="548.4" y="241.6" font-size="15.88" text-anchor="start" textLength="117.7" lengthAdjust="spacingAndGlyphs" fill="#000">Floater Locater</text>
<path d="M515.4000000000001,118.10000000000001 L524.0,126.7 M524.0,118.10000000000001 L515.4000000000001,126.7" stroke="#00bfbf" stroke-width="3.2" fill="none"/>
<line x1="503.4" y1="145.4" x2="536.6" y2="145.4" stroke="#008000" stroke-width="3.2"/>
<line x1="504" y1="167.6" x2="536.6" y2="167.6" stroke="#0000ff" stroke-width="2.8" stroke-dasharray="2.8 3.5"/>
<line x1="503.4" y1="189.8" x2="536.6" y2="189.8" stroke="#0000ff" stroke-width="2.4"/>
<circle cx="519.7" cy="189.8" r="4.3" fill="#0000ff"/>
<path d="M515.1,209.0 L524.3000000000001,218.2 M524.3000000000001,209.0 L515.1,218.2" stroke="#ff0000" stroke-width="3.4" fill="none"/>
<line x1="503.4" y1="236.3" x2="536.6" y2="236.3" stroke="#ff0000" stroke-width="3.3"/>
<rect x="101.9" y="803.9" width="313" height="26.8" rx="3.5" fill="#000"/>
<text x="107.4" y="822.3" font-size="17.64" text-anchor="start" textLength="302.3" lengthAdjust="spacingAndGlyphs" fill="#fff" font-weight="bold">Copyright © 2020-2026 Dapiya</text>
<rect x="104.55" y="101.45" width="728.0" height="728.0" fill="none" stroke="#000" stroke-width="2.8"/>
<text x="112.2" y="850.8" font-size="13.23" text-anchor="middle" textLength="39.5" lengthAdjust="spacingAndGlyphs" fill="#000" >120°E</text>
<text x="257.8" y="850.8" font-size="13.23" text-anchor="middle" textLength="39.5" lengthAdjust="spacingAndGlyphs" fill="#000" >122°E</text>
<text x="403.4" y="850.8" font-size="13.23" text-anchor="middle" textLength="39.5" lengthAdjust="spacingAndGlyphs" fill="#000" >124°E</text>
<text x="549.0" y="850.8" font-size="13.23" text-anchor="middle" textLength="39.5" lengthAdjust="spacingAndGlyphs" fill="#000" >126°E</text>
<text x="694.6" y="850.8" font-size="13.23" text-anchor="middle" textLength="39.5" lengthAdjust="spacingAndGlyphs" fill="#000" >128°E</text>
<text x="95.8" y="188.0" font-size="13.23" text-anchor="end" textLength="31.3" lengthAdjust="spacingAndGlyphs" fill="#000" >12°S</text>
<text x="95.8" y="333.4" font-size="13.23" text-anchor="end" textLength="31.3" lengthAdjust="spacingAndGlyphs" fill="#000" >14°S</text>
<text x="95.8" y="478.9" font-size="13.23" text-anchor="end" textLength="31.3" lengthAdjust="spacingAndGlyphs" fill="#000" >16°S</text>
<text x="95.8" y="624.3" font-size="13.23" text-anchor="end" textLength="31.3" lengthAdjust="spacingAndGlyphs" fill="#000" >18°S</text>
<text x="95.8" y="769.8" font-size="13.23" text-anchor="end" textLength="31.3" lengthAdjust="spacingAndGlyphs" fill="#000" >20°S</text>
<rect x="839.6" y="101.6" width="14.9" height="727.8" fill="url(#cbA)" stroke="#000" stroke-width="1.1"/>
<text x="861.0" y="161.4" font-size="17.64" text-anchor="start" textLength="22.1" lengthAdjust="spacingAndGlyphs" fill="#000" >40</text>
<text x="861.0" y="215.5" font-size="17.64" text-anchor="start" textLength="22.1" lengthAdjust="spacingAndGlyphs" fill="#000" >30</text>
<text x="861.0" y="269.5" font-size="17.64" text-anchor="start" textLength="22.1" lengthAdjust="spacingAndGlyphs" fill="#000" >20</text>
<text x="861.0" y="323.6" font-size="17.64" text-anchor="start" textLength="22.1" lengthAdjust="spacingAndGlyphs" fill="#000" >10</text>
<text x="861.0" y="377.6" font-size="17.64" text-anchor="start" textLength="11.0" lengthAdjust="spacingAndGlyphs" fill="#000" >0</text>
<text x="861.0" y="431.7" font-size="17.64" text-anchor="start" textLength="36.6" lengthAdjust="spacingAndGlyphs" fill="#000" >−10</text>
<text x="861.0" y="485.7" font-size="17.64" text-anchor="start" textLength="36.6" lengthAdjust="spacingAndGlyphs" fill="#000" >−20</text>
<text x="861.0" y="539.8" font-size="17.64" text-anchor="start" textLength="36.6" lengthAdjust="spacingAndGlyphs" fill="#000" >−30</text>
<text x="861.0" y="593.9" font-size="17.64" text-anchor="start" textLength="36.6" lengthAdjust="spacingAndGlyphs" fill="#000" >−40</text>
<text x="861.0" y="647.9" font-size="17.64" text-anchor="start" textLength="36.6" lengthAdjust="spacingAndGlyphs" fill="#000" >−50</text>
<text x="861.0" y="702.0" font-size="17.64" text-anchor="start" textLength="36.6" lengthAdjust="spacingAndGlyphs" fill="#000" >−60</text>
<text x="861.0" y="756.0" font-size="17.64" text-anchor="start" textLength="36.6" lengthAdjust="spacingAndGlyphs" fill="#000" >−70</text>
<text x="861.0" y="810.1" font-size="17.64" text-anchor="start" textLength="36.6" lengthAdjust="spacingAndGlyphs" fill="#000" >−80</text>
<text x="848.5" y="93.6" font-size="17.64" text-anchor="start" textLength="20.8" lengthAdjust="spacingAndGlyphs" fill="#000" >°C</text>
<g clip-path="url(#clipB)">
<g clip-path="url(#swB)"><g filter="url(#fB)"><use href="#fld"/></g></g>
</g>
<g clip-path="url(#swB)">
<g clip-path="url(#clipB)" stroke="#fff" stroke-width="1.9" stroke-dasharray="1.9 3.6" fill="none">
<line x1="986.9" y1="101" x2="986.9" y2="830"/>
<line x1="1132.6" y1="101" x2="1132.6" y2="830"/>
<line x1="1278.3" y1="101" x2="1278.3" y2="830"/>
<line x1="1424.0" y1="101" x2="1424.0" y2="830"/>
<line x1="1569.7" y1="101" x2="1569.7" y2="830"/>
<line x1="977.9" y1="184.0" x2="1708.9" y2="184.0"/>
<line x1="977.9" y1="329.4" x2="1708.9" y2="329.4"/>
<line x1="977.9" y1="474.8" x2="1708.9" y2="474.8"/>
<line x1="977.9" y1="620.2" x2="1708.9" y2="620.2"/>
<line x1="977.9" y1="765.6" x2="1708.9" y2="765.6"/>
</g>
</g>
<g clip-path="url(#clipB)">
<g fill="none" stroke="#fff" stroke-width="1.5" stroke-linejoin="round"><path d="M981.6,760.3 L1010.0,756.8 L1040.7,745.9 L1069.1,730.5 L1091.0,710.8 L1102.0,686.7 L1106.4,669.2 L1117.3,664.8 L1119.5,653.9 L1137.0,643.0 L1150.1,632.0 L1158.9,623.3 L1154.5,618.9 L1148.0,618.9 L1146.6,603.5 L1144.9,581.7 L1146.6,559.8 L1154.5,551.0 L1167.7,544.4 L1172.0,537.9 L1185.2,531.3 L1193.9,520.4 L1202.7,505.0 L1207.1,509.4 L1203.6,516.0 L1209.3,526.9 L1213.6,529.1 L1215.8,537.9 L1226.8,555.4 L1237.7,570.7 L1244.3,581.7 L1247.4,590.4 L1248.7,577.3 L1250.9,564.1 L1250.0,551.0 L1255.2,548.8 L1264.0,557.6 L1270.6,561.9 L1266.2,551.0 L1269.2,542.2 L1274.9,533.5"/><path d="M1500.0,309.5 L1489.0,311.6 L1480.3,316.0 L1482.5,327.0 L1471.5,331.3 L1467.1,342.3 L1458.4,331.3 L1464.9,322.6 L1454.0,329.2 L1445.2,340.1 L1436.5,340.1 L1434.3,329.2 L1423.3,327.0 L1425.5,340.1 L1432.1,348.9 L1425.5,357.6 L1423.3,368.6 L1416.8,372.9 L1412.4,362.0 L1403.6,357.6 L1399.3,372.9 L1397.1,357.6 L1401.5,348.9 L1394.9,346.7 L1392.7,366.4 L1383.9,370.8 L1370.8,372.9 L1364.2,362.0 L1357.7,370.8 L1362.0,375.1 L1370.8,377.3 L1364.2,386.1 L1366.4,392.6 L1373.0,397.0 L1370.8,403.6 L1381.8,404.7 L1381.8,411.3 L1370.8,410.2 L1359.9,401.4 L1362.0,410.2 L1348.9,416.7 L1342.3,410.2 L1348.9,399.2 L1340.2,416.7 L1348.9,425.5 L1359.9,423.3 L1355.5,436.4 L1348.9,434.2 L1342.3,423.3 L1335.8,427.7 L1327.0,421.1 L1329.2,427.7 L1320.5,429.9 L1316.1,421.1 L1305.1,423.3 L1313.9,427.7 L1322.6,436.4 L1309.5,438.6 L1305.1,451.8 L1309.5,467.1 L1316.1,473.6 L1320.5,464.9 L1327.0,459.4 L1322.6,469.3 L1318.3,478.0 L1311.7,482.4 L1311.7,495.5 L1307.3,503.2 L1327.0,503.2 L1342.3,504.3 L1327.0,505.4 L1307.3,504.3 L1294.2,504.3 L1283.2,493.3 L1270.1,491.2 L1261.3,484.6 L1248.2,489.0 L1252.6,499.9 L1265.7,502.1 L1274.5,497.7 L1270.1,506.5 L1261.3,506.5 L1252.6,510.9 L1239.5,510.9 L1248.2,521.8 L1261.3,526.2 L1270.1,534.9 L1274.5,541.5 L1265.7,548.1 L1270.1,559.0 L1261.3,559.0 L1252.6,550.3"/><path d="M1500.0,309.5 L1505.0,323.0 L1517.9,328.1 L1531.1,325.0 L1544.0,341.0 L1557.1,363.1 L1570.0,376.0 L1581.0,379.9"/><path d="M1577.1,406.5 L1572.7,424.0 L1575.8,437.2"/></g>
</g>
<rect x="979.55" y="101.45" width="728.0" height="728.0" fill="none" stroke="#000" stroke-width="2.8"/>
<text x="987.1" y="850.8" font-size="13.23" text-anchor="middle" textLength="39.5" lengthAdjust="spacingAndGlyphs" fill="#000" >120°E</text>
<text x="1132.7" y="850.8" font-size="13.23" text-anchor="middle" textLength="39.5" lengthAdjust="spacingAndGlyphs" fill="#000" >122°E</text>
<text x="1278.3" y="850.8" font-size="13.23" text-anchor="middle" textLength="39.5" lengthAdjust="spacingAndGlyphs" fill="#000" >124°E</text>
<text x="1423.9" y="850.8" font-size="13.23" text-anchor="middle" textLength="39.5" lengthAdjust="spacingAndGlyphs" fill="#000" >126°E</text>
<text x="1569.5" y="850.8" font-size="13.23" text-anchor="middle" textLength="39.5" lengthAdjust="spacingAndGlyphs" fill="#000" >128°E</text>
<text x="970.8" y="188.0" font-size="13.23" text-anchor="end" textLength="31.3" lengthAdjust="spacingAndGlyphs" fill="#000" >12°S</text>
<text x="970.8" y="333.4" font-size="13.23" text-anchor="end" textLength="31.3" lengthAdjust="spacingAndGlyphs" fill="#000" >14°S</text>
<text x="970.8" y="478.9" font-size="13.23" text-anchor="end" textLength="31.3" lengthAdjust="spacingAndGlyphs" fill="#000" >16°S</text>
<text x="970.8" y="624.3" font-size="13.23" text-anchor="end" textLength="31.3" lengthAdjust="spacingAndGlyphs" fill="#000" >18°S</text>
<text x="970.8" y="769.8" font-size="13.23" text-anchor="end" textLength="31.3" lengthAdjust="spacingAndGlyphs" fill="#000" >20°S</text>
<rect x="1714.6" y="101.6" width="14.9" height="727.8" fill="url(#cbB)" stroke="#000" stroke-width="1.1"/>
<text x="1736.0" y="156.7" font-size="17.64" text-anchor="start" textLength="22.1" lengthAdjust="spacingAndGlyphs" fill="#000" >40</text>
<text x="1736.0" y="205.3" font-size="17.64" text-anchor="start" textLength="22.1" lengthAdjust="spacingAndGlyphs" fill="#000" >30</text>
<text x="1736.0" y="253.8" font-size="17.64" text-anchor="start" textLength="22.1" lengthAdjust="spacingAndGlyphs" fill="#000" >20</text>
<text x="1736.0" y="302.4" font-size="17.64" text-anchor="start" textLength="22.1" lengthAdjust="spacingAndGlyphs" fill="#000" >10</text>
<text x="1736.0" y="350.9" font-size="17.64" text-anchor="start" textLength="11.0" lengthAdjust="spacingAndGlyphs" fill="#000" >0</text>
<text x="1736.0" y="399.4" font-size="17.64" text-anchor="start" textLength="36.6" lengthAdjust="spacingAndGlyphs" fill="#000" >−10</text>
<text x="1736.0" y="448.0" font-size="17.64" text-anchor="start" textLength="36.6" lengthAdjust="spacingAndGlyphs" fill="#000" >−20</text>
<text x="1736.0" y="496.5" font-size="17.64" text-anchor="start" textLength="36.6" lengthAdjust="spacingAndGlyphs" fill="#000" >−30</text>
<text x="1736.0" y="545.1" font-size="17.64" text-anchor="start" textLength="36.6" lengthAdjust="spacingAndGlyphs" fill="#000" >−40</text>
<text x="1736.0" y="593.6" font-size="17.64" text-anchor="start" textLength="36.6" lengthAdjust="spacingAndGlyphs" fill="#000" >−50</text>
<text x="1736.0" y="642.2" font-size="17.64" text-anchor="start" textLength="36.6" lengthAdjust="spacingAndGlyphs" fill="#000" >−60</text>
<text x="1736.0" y="690.7" font-size="17.64" text-anchor="start" textLength="36.6" lengthAdjust="spacingAndGlyphs" fill="#000" >−70</text>
<text x="1736.0" y="739.3" font-size="17.64" text-anchor="start" textLength="36.6" lengthAdjust="spacingAndGlyphs" fill="#000" >−80</text>
<text x="1736.0" y="787.8" font-size="17.64" text-anchor="start" textLength="36.6" lengthAdjust="spacingAndGlyphs" fill="#000" >−90</text>
<text x="1723.3" y="93.6" font-size="17.64" text-anchor="start" textLength="20.8" lengthAdjust="spacingAndGlyphs" fill="#000" >°C</text>
<text x="479.5" y="881.7" font-size="22.96" text-anchor="middle" textLength="317.1" lengthAdjust="spacingAndGlyphs" fill="#000">Wind / Pres. / ACE Diagnosis</text>
<rect x="104.5" y="903.6" width="750" height="749.8" fill="#fff"/>
<polyline points="138.5,1261.5 150.5,1261.5 162.4,1261.5 174.4,1261.5 186.3,1246.7 198.3,1246.7 210.3,1231.8 222.2,1231.8 234.2,1231.8 246.1,1202.2 258.1,1172.6 270.1,1143.0 282.0,1128.2 294.0,1113.3 305.9,1098.5 317.9,1068.9 329.9,1039.3 341.8,1009.6 353.8,965.2 365.7,920.8 377.7,935.6 389.7,950.4 401.6,994.8 413.6,1039.3 425.5,1083.7 437.5,1098.5 449.5,1083.7 461.4,1068.9 473.4,1068.9 485.3,1083.7 497.3,1143.0 509.3,1187.4 521.2,1202.2 533.2,1202.2 545.1,1187.4 557.1,1187.4 569.1,1202.2 581.0,1202.2" fill="none" stroke="#0000ff" stroke-width="5.4" stroke-linejoin="round" stroke-linecap="square"/>
<polyline points="582.3,1201.3 607.1,1183.8 685.8,1051.1 691.4,1045.7 704.9,1045.7 721.7,1027.1 727.4,1032.7 740.8,1053.6 754.3,1053.6 763.3,1060.8 781.3,1113.6 790.3,1119.9 803.8,1119.9 811.7,1129.4 820.7,1155.2" fill="none" stroke="#0000ff" stroke-width="5.4" stroke-dasharray="5.4 8.7" stroke-linejoin="round"/>
<rect x="113.9" y="912.7" width="265.7" height="62.4" rx="4.5" fill="#fff" fill-opacity="0.8" stroke="#cccccc" stroke-opacity="0.8" stroke-width="3.3"/>
<line x1="121.8" y1="928.2" x2="159.4" y2="928.2" stroke="#0000ff" stroke-width="5.4" stroke-linecap="square"/>
<line x1="121.8" y1="957.3" x2="159.4" y2="957.3" stroke="#0000ff" stroke-width="5.4" stroke-dasharray="5.4 8.7"/>
<text x="174.6" y="936.0" font-size="19.24" text-anchor="start" textLength="155.3" lengthAdjust="spacingAndGlyphs" fill="#000">Wind[max=130]</text>
<text x="174.6" y="964.1" font-size="19.24" text-anchor="start" textLength="196.1" lengthAdjust="spacingAndGlyphs" fill="#000">Wind Fore.[max=95]</text>
<polyline points="138.5,920.6 150.5,920.6 162.4,920.6 174.4,937.4 186.3,933.2 198.3,937.4 210.3,945.8 222.2,945.8 234.2,945.8 246.1,945.8 258.1,958.4 270.1,1008.7 282.0,1012.9 294.0,1017.1 305.9,1033.9 317.9,1067.5 329.9,1092.7 341.8,1126.2 353.8,1180.8 365.7,1260.6 377.7,1239.6 389.7,1222.8 401.6,1164.0 413.6,1109.5 425.5,1050.7 437.5,1033.9 449.5,1046.5 461.4,1071.7 473.4,1071.7 485.3,1050.7 497.3,1017.1 509.3,1004.5 521.2,991.9 533.2,996.1 545.1,996.1 557.1,996.1 569.1,983.6 581.0,975.2" fill="none" stroke="#1f77b4" stroke-width="5.4" stroke-linejoin="round" stroke-linecap="square"/>
<rect x="626.0" y="912.7" width="218.0" height="33.8" rx="4.5" fill="#fff" fill-opacity="0.8" stroke="#cccccc" stroke-opacity="0.8" stroke-width="3.3"/>
<line x1="633.8" y1="928.4" x2="671.2" y2="928.4" stroke="#1f77b4" stroke-width="5.4" stroke-linecap="square"/>
<text x="686.8" y="936.0" font-size="19.24" text-anchor="start" textLength="148.2" lengthAdjust="spacingAndGlyphs" fill="#000">Pres.[min=928]</text>
<polyline points="138.5,1636.5 150.5,1636.5 162.4,1636.5 174.4,1636.5 186.3,1636.5 198.3,1636.5 210.3,1636.5 222.2,1636.5 234.2,1636.5 246.1,1634.9 258.1,1632.4 270.1,1628.5 282.0,1623.9 294.0,1618.6 305.9,1612.3 317.9,1604.2 329.9,1593.9 341.8,1581.1 353.8,1564.3 365.7,1542.8 377.7,1522.9 389.7,1504.6 401.6,1490.5 413.6,1480.2 425.5,1473.0 437.5,1466.8 449.5,1459.6 461.4,1451.5 473.4,1443.4 485.3,1436.2 497.3,1432.3 509.3,1430.3 521.2,1428.7 533.2,1427.2 545.1,1425.2 557.1,1423.1 569.1,1421.6 581.0,1420.0" fill="none" stroke="#008000" stroke-width="5.4" stroke-linejoin="round" stroke-linecap="square"/>
<polyline points="581.5,1418.9 607.9,1414.6 634.4,1406.7 660.8,1395.1 682.0,1380.3 703.1,1363.4 721.6,1346.4 740.1,1331.6 761.3,1315.8 782.4,1305.2 811.5,1293.6 813.2,1293.0" fill="none" stroke="#008000" stroke-width="5.4" stroke-dasharray="5.4 8.7" stroke-linejoin="round"/>
<rect x="113.9" y="1288.0" width="311.8" height="62.0" rx="4.5" fill="#fff" fill-opacity="0.8" stroke="#cccccc" stroke-opacity="0.8" stroke-width="3.3"/>
<line x1="121.8" y1="1303.6" x2="159.4" y2="1303.6" stroke="#008000" stroke-width="5.4" stroke-linecap="square"/>
<line x1="121.8" y1="1332.6" x2="159.4" y2="1332.6" stroke="#008000" stroke-width="5.4" stroke-dasharray="5.4 8.7"/>
<text x="174.6" y="1310.9" font-size="19.24" text-anchor="start" textLength="187.7" lengthAdjust="spacingAndGlyphs" fill="#000">ACE[max=17.0075]</text>
<text x="174.6" y="1338.9" font-size="19.24" text-anchor="start" textLength="240.4" lengthAdjust="spacingAndGlyphs" fill="#000">ACE Fore.[max=26.7806]</text>
<rect x="104.5" y="903.6" width="750" height="749.8" fill="none" stroke="#000" stroke-width="2.8"/>
<line x1="103.1" y1="1278.5" x2="855.9" y2="1278.5" stroke="#000" stroke-width="3.3"/>
<line x1="92.5" y1="1246.7" x2="103.2" y2="1246.7" stroke="#000" stroke-width="3"/>
<text x="79.6" y="1251.7" font-size="13.23" text-anchor="end" textLength="16.5" lengthAdjust="spacingAndGlyphs" fill="#000">20</text>
<line x1="92.5" y1="1187.4" x2="103.2" y2="1187.4" stroke="#000" stroke-width="3"/>
<text x="79.6" y="1192.4" font-size="13.23" text-anchor="end" textLength="16.5" lengthAdjust="spacingAndGlyphs" fill="#000">40</text>
<line x1="92.5" y1="1128.2" x2="103.2" y2="1128.2" stroke="#000" stroke-width="3"/>
<text x="79.6" y="1133.2" font-size="13.23" text-anchor="end" textLength="16.5" lengthAdjust="spacingAndGlyphs" fill="#000">60</text>
<line x1="92.5" y1="1068.9" x2="103.2" y2="1068.9" stroke="#000" stroke-width="3"/>
<text x="79.6" y="1073.9" font-size="13.23" text-anchor="end" textLength="16.5" lengthAdjust="spacingAndGlyphs" fill="#000">80</text>
<line x1="92.5" y1="1009.6" x2="103.2" y2="1009.6" stroke="#000" stroke-width="3"/>
<text x="79.6" y="1014.6" font-size="13.23" text-anchor="end" textLength="24.8" lengthAdjust="spacingAndGlyphs" fill="#000">100</text>
<line x1="92.5" y1="950.4" x2="103.2" y2="950.4" stroke="#000" stroke-width="3"/>
<text x="79.6" y="955.4" font-size="13.23" text-anchor="end" textLength="24.8" lengthAdjust="spacingAndGlyphs" fill="#000">120</text>
<line x1="92.5" y1="1636.5" x2="103.2" y2="1636.5" stroke="#000" stroke-width="3"/>
<text x="79.6" y="1641.5" font-size="13.23" text-anchor="end" textLength="8.3" lengthAdjust="spacingAndGlyphs" fill="#000">0</text>
<line x1="92.5" y1="1572.8" x2="103.2" y2="1572.8" stroke="#000" stroke-width="3"/>
<text x="79.6" y="1577.8" font-size="13.23" text-anchor="end" textLength="8.3" lengthAdjust="spacingAndGlyphs" fill="#000">5</text>
<line x1="92.5" y1="1509.2" x2="103.2" y2="1509.2" stroke="#000" stroke-width="3"/>
<text x="79.6" y="1514.2" font-size="13.23" text-anchor="end" textLength="16.5" lengthAdjust="spacingAndGlyphs" fill="#000">10</text>
<line x1="92.5" y1="1445.5" x2="103.2" y2="1445.5" stroke="#000" stroke-width="3"/>
<text x="79.6" y="1450.5" font-size="13.23" text-anchor="end" textLength="16.5" lengthAdjust="spacingAndGlyphs" fill="#000">15</text>
<line x1="92.5" y1="1381.9" x2="103.2" y2="1381.9" stroke="#000" stroke-width="3"/>
<text x="79.6" y="1386.9" font-size="13.23" text-anchor="end" textLength="16.5" lengthAdjust="spacingAndGlyphs" fill="#000">20</text>
<line x1="92.5" y1="1318.2" x2="103.2" y2="1318.2" stroke="#000" stroke-width="3"/>
<text x="79.6" y="1323.2" font-size="13.23" text-anchor="end" textLength="16.5" lengthAdjust="spacingAndGlyphs" fill="#000">25</text>
<line x1="855.8" y1="1252.2" x2="866.5" y2="1252.2" stroke="#000" stroke-width="3"/>
<text x="878.0" y="1257.2" font-size="13.23" text-anchor="start" textLength="24.8" lengthAdjust="spacingAndGlyphs" fill="#000">930</text>
<line x1="855.8" y1="1210.2" x2="866.5" y2="1210.2" stroke="#000" stroke-width="3"/>
<text x="878.0" y="1215.2" font-size="13.23" text-anchor="start" textLength="24.8" lengthAdjust="spacingAndGlyphs" fill="#000">940</text>
<line x1="855.8" y1="1168.2" x2="866.5" y2="1168.2" stroke="#000" stroke-width="3"/>
<text x="878.0" y="1173.2" font-size="13.23" text-anchor="start" textLength="24.8" lengthAdjust="spacingAndGlyphs" fill="#000">950</text>
<line x1="855.8" y1="1126.2" x2="866.5" y2="1126.2" stroke="#000" stroke-width="3"/>
<text x="878.0" y="1131.2" font-size="13.23" text-anchor="start" textLength="24.8" lengthAdjust="spacingAndGlyphs" fill="#000">960</text>
<line x1="855.8" y1="1084.3" x2="866.5" y2="1084.3" stroke="#000" stroke-width="3"/>
<text x="878.0" y="1089.3" font-size="13.23" text-anchor="start" textLength="24.8" lengthAdjust="spacingAndGlyphs" fill="#000">970</text>
<line x1="855.8" y1="1042.3" x2="866.5" y2="1042.3" stroke="#000" stroke-width="3"/>
<text x="878.0" y="1047.3" font-size="13.23" text-anchor="start" textLength="24.8" lengthAdjust="spacingAndGlyphs" fill="#000">980</text>
<line x1="855.8" y1="1000.3" x2="866.5" y2="1000.3" stroke="#000" stroke-width="3"/>
<text x="878.0" y="1005.3" font-size="13.23" text-anchor="start" textLength="24.8" lengthAdjust="spacingAndGlyphs" fill="#000">990</text>
<line x1="855.8" y1="958.4" x2="866.5" y2="958.4" stroke="#000" stroke-width="3"/>
<text x="878.0" y="963.4" font-size="13.23" text-anchor="start" textLength="33.1" lengthAdjust="spacingAndGlyphs" fill="#000">1000</text>
<line x1="855.8" y1="916.4" x2="866.5" y2="916.4" stroke="#000" stroke-width="3"/>
<text x="878.0" y="921.4" font-size="13.23" text-anchor="start" textLength="33.1" lengthAdjust="spacingAndGlyphs" fill="#000">1010</text>
<text x="35.2" y="1092.2" font-size="13.23" text-anchor="middle" textLength="32.7" lengthAdjust="spacingAndGlyphs" fill="#000" transform="rotate(-90 35.2 1092.2)">Wind</text>
<text x="44.5" y="1466.0" font-size="13.23" text-anchor="middle" textLength="26.0" lengthAdjust="spacingAndGlyphs" fill="#000" transform="rotate(-90 44.5 1466.0)">ACE</text>
<text x="938.0" y="1092.0" font-size="13.23" text-anchor="middle" textLength="55.5" lengthAdjust="spacingAndGlyphs" fill="#000" transform="rotate(-90 938.0 1092.0)">Pressure</text>
<g clip-path="url(#clipD)">
<g shape-rendering="crispEdges">
<rect x="979" y="902" width="752" height="752" fill="#6e6e6e"/>
<polygon points="980.6,1653.3 980.6,1534.1 997.5,1534.1 997.5,1522.9 1015.5,1521.7 1015.5,1508.2 1061.6,1507.1 1064.9,1464.4 1080.7,1464.4 1081.8,1448.7 1097.6,1448.7 1100.9,1419.4 1115.5,1419.4 1118.9,1390.2 1133.5,1390.2 1135.8,1375.6 1165.0,1374.4 1167.3,1346.3 1196.5,1345.2 1195.4,1374.4 1208.9,1374.4 1208.9,1389.1 1237.0,1387.9 1235.9,1417.2 1220.1,1418.3 1217.9,1446.4 1202.1,1447.5 1199.9,1475.6 1184.1,1475.6 1184.1,1490.3 1213.4,1490.3 1214.5,1475.6 1230.2,1475.6 1231.4,1461.0 1247.1,1461.0 1248.2,1446.4 1262.8,1446.4 1264.0,1430.7 1278.6,1430.7 1284.2,1387.9 1290.9,1300.2 1322.4,1299.1 1323.5,1285.6 1356.2,1285.6 1356.2,1653.3" fill="#3c3c3c"/>
<polygon points="993.0,1436.3 1022.2,1435.2 1020.0,1464.4 988.5,1465.5 987.4,1480.1 980.6,1480.1 980.6,1449.8 991.9,1449.8" fill="#3c3c3c"/>
<polygon points="980.6,1509.4 986.2,1509.4 986.2,1522.9 980.6,1522.9" fill="#3c3c3c"/>
<polygon points="1355.0,1299.1 1366.2,1299.1 1365.1,1327.2 1378.6,1327.2 1378.6,1341.8 1392.1,1341.8 1392.1,1356.5 1405.6,1357.6 1404.5,1385.7 1433.7,1384.6 1434.8,1371.1 1449.4,1371.1 1451.7,1356.5 1465.2,1356.5 1462.9,1398.1 1477.6,1398.1 1478.7,1384.6 1493.3,1383.4 1495.5,1355.3 1482.1,1355.3 1483.2,1341.8 1497.8,1340.7 1500.0,1311.5 1486.5,1311.5 1487.7,1298.0 1502.3,1296.9 1503.4,1280.0 1516.9,1280.0 1516.9,1296.9 1561.9,1295.7 1560.8,1310.4 1604.6,1310.4 1604.6,1323.8 1633.8,1323.8 1635.0,1310.4 1649.6,1309.2 1651.8,1280.0 1667.6,1280.0 1667.6,1292.4 1695.7,1293.5 1695.7,1309.2 1723.8,1308.1 1723.8,1336.2 1730.5,1336.2 1730.5,1653.3 1355.0,1653.3" fill="#3c3c3c"/>
<polygon points="980.6,904.5 1073.9,904.5 1073.9,918.0 1168.4,918.0 1168.4,948.3 1130.2,948.3 1130.2,956.2 1114.4,956.2 1114.4,969.7 1097.6,969.7 1097.6,983.2 1080.7,983.2 1080.7,969.7 1038.0,969.7 1038.0,956.2 1023.3,956.2 1023.3,985.5 991.9,985.5 991.9,1001.2 980.6,1001.2" fill="#a0a0a0"/>
<polygon points="1080.7,998.9 1096.4,998.9 1096.4,1012.4 1080.7,1012.4" fill="#a0a0a0"/>
<polygon points="1132.4,904.5 1342.7,904.5 1342.7,922.5 1356.2,922.5 1356.2,952.8 1324.7,952.8 1324.7,965.2 1307.8,967.5 1307.8,981.0 1292.1,981.0 1292.1,954.0 1279.7,954.0 1279.7,938.2 1265.1,938.2 1265.1,954.0 1250.5,954.0 1250.5,939.4 1235.9,939.4 1235.9,924.7 1192.0,924.7 1192.0,938.2 1181.9,938.2 1181.9,922.5 1168.4,918.0 1132.4,918.0" fill="#a0a0a0"/>
<polygon points="1026.7,1086.6 1011.0,1087.8 1011.0,1102.4 980.6,1115.9 980.6,1203.6 1015.5,1203.6 1012.1,1244.1 1024.5,1246.3 1024.5,1268.8 1040.2,1281.2 1098.7,1281.2 1099.8,1259.8 1118.9,1244.1 1118.9,1230.6 1132.4,1230.6 1134.7,1214.8 1150.4,1214.8 1150.4,1201.3 1166.1,1200.2 1167.3,1185.6 1181.9,1185.6 1181.9,1200.2 1197.6,1200.2 1197.6,1185.6 1213.4,1184.5 1213.4,1171.0 1199.9,1169.8 1201.0,1141.7 1187.5,1141.7 1188.6,1113.6 1130.2,1113.6 1130.2,1100.1 1026.7,1100.1" fill="#a0a0a0"/>
<polygon points="1114.4,1281.2 1132.4,1262.0 1148.2,1257.5 1175.1,1257.5 1176.3,1244.1 1238.1,1242.9 1239.2,1228.3 1283.1,1228.3 1283.1,1257.5 1265.1,1257.5 1265.1,1281.2" fill="#a0a0a0"/>
<polygon points="1325.8,1241.8 1343.8,1241.8 1343.8,1227.2 1356.2,1227.2 1356.2,1255.3 1325.8,1255.3" fill="#a0a0a0"/>
<polygon points="1018.8,1014.7 1048.1,1014.7 1048.1,1028.2 1061.6,1028.2 1061.6,1056.3 1045.8,1056.3 1045.8,1042.8 1016.6,1042.8" fill="#3c3c3c"/>
<polygon points="1121.2,1041.7 1135.8,1041.7 1133.5,1070.9 1118.9,1070.9" fill="#3c3c3c"/>
<polygon points="1204.4,954.0 1233.6,954.0 1233.6,967.5 1248.2,968.6 1248.2,982.1 1260.6,982.1 1260.6,996.7 1275.2,996.7 1276.3,1010.2 1334.8,1010.2 1334.8,995.6 1349.4,995.6 1356.2,1007.9 1356.2,1079.9 1343.8,1079.9 1343.8,1111.4 1339.3,1111.4 1339.3,1124.9 1324.7,1124.9 1324.7,1111.4 1295.4,1111.4 1295.4,1097.9 1265.1,1097.9 1265.1,1111.4 1250.5,1111.4 1250.5,1099.0 1161.6,1099.0 1161.6,1084.4 1148.2,1084.4 1150.4,1056.3 1180.8,1056.3 1181.9,1041.7 1196.5,1040.5 1199.9,996.7 1186.4,996.7 1187.5,968.6 1204.4,967.5" fill="#3c3c3c"/>
<polygon points="1261.7,1140.6 1276.3,1140.6 1276.3,1155.2 1305.6,1155.2 1305.6,1169.8 1319.1,1169.8 1319.1,1183.3 1333.7,1183.3 1334.8,1155.2 1349.4,1154.1 1349.4,1140.6 1356.2,1140.6 1356.2,1199.1 1314.6,1199.1 1314.6,1227.2 1299.9,1227.2 1299.9,1213.7 1240.3,1213.7 1242.6,1185.6 1258.3,1184.5" fill="#3c3c3c"/>
<polygon points="1224.6,1213.7 1239.2,1213.7 1239.2,1228.3 1224.6,1228.3" fill="#3c3c3c"/>
<polygon points="1216.7,982.1 1231.4,982.1 1231.4,996.7 1244.8,996.7 1244.8,1010.2 1258.3,1010.2 1259.5,1024.8 1286.4,1025.9 1286.4,1054.0 1298.8,1055.2 1298.8,1068.7 1342.7,1068.7 1342.7,1082.1 1356.2,1082.1 1356.2,1095.6 1339.3,1096.8 1339.3,1111.4 1310.1,1111.4 1310.1,1097.9 1281.9,1096.8 1281.9,1083.3 1178.5,1083.3 1178.5,1069.8 1194.2,1068.7 1196.5,1040.5 1211.1,1040.5 1213.4,1010.2" fill="#c6c6c6"/>
<polygon points="1228.0,1010.2 1244.8,1010.2 1244.8,1024.8 1258.3,1025.9 1256.1,1055.2 1224.6,1055.2 1226.9,1025.9" fill="#b4b4b4" filter="url(#bll)"/>
<polygon points="1330.3,1039.4 1346.0,1039.4 1344.9,1052.9 1330.3,1052.9" fill="#c6c6c6"/>
<polygon points="1349.4,1154.1 1356.2,1154.1 1356.2,1183.3 1348.3,1183.3" fill="#c6c6c6"/>
<polygon points="1073.9,904.5 1132.4,904.5 1132.4,916.9 1073.9,916.9" fill="#000000"/>
<polygon points="1269.6,904.5 1285.3,904.5 1285.3,909.0 1269.6,909.0" fill="#000000"/>
<polygon points="1342.7,904.5 1356.2,904.5 1356.2,922.5 1342.7,922.5" fill="#000000"/>
<polygon points="1079.6,1158.6 1095.3,1158.6 1094.2,1173.2 1078.9,1173.2" fill="#000000"/>
<polygon points="1059.3,1217.1 1073.9,1217.1 1073.9,1230.6 1087.4,1230.6 1087.4,1246.3 1057.1,1246.3" fill="#000000"/>
<polygon points="1355.0,922.5 1370.7,922.5 1370.7,937.1 1385.4,937.1 1385.4,950.6 1413.5,951.7 1413.5,965.2 1427.0,965.2 1427.0,978.7 1440.5,978.7 1440.5,993.3 1455.1,993.3 1458.4,950.6 1443.8,950.6 1444.9,937.1 1461.8,937.1 1461.8,904.5 1537.1,904.5 1534.9,933.7 1563.0,933.7 1563.0,948.3 1577.6,948.3 1577.6,963.0 1591.1,963.0 1591.1,976.5 1605.7,976.5 1608.0,948.3 1639.5,948.3 1639.5,933.7 1669.8,933.7 1669.8,919.1 1685.6,919.1 1685.6,904.5 1730.5,904.5 1730.5,960.7 1681.1,960.7 1678.8,988.8 1693.4,988.8 1694.6,975.3 1710.3,975.3 1706.9,1019.2 1690.1,1019.2 1691.2,1032.7 1676.6,1032.7 1676.6,1019.2 1661.9,1019.2 1661.9,1005.7 1631.6,1005.7 1631.6,1019.2 1602.4,1019.2 1602.4,1005.7 1588.9,1005.7 1588.9,992.2 1574.2,991.1 1574.2,976.5 1559.6,976.5 1559.6,963.0 1546.1,963.0 1546.1,948.3 1520.3,948.3 1521.4,920.2 1492.2,920.2 1488.8,963.0 1516.9,964.1 1516.9,977.6 1545.0,977.6 1545.0,992.2 1559.6,992.2 1557.4,1020.3 1570.9,1021.4 1566.4,1078.8 1522.5,1078.8 1522.5,1065.3 1509.0,1064.2 1509.0,1050.7 1494.4,1050.7 1494.4,1064.2 1478.7,1064.2 1478.7,1050.7 1465.2,1050.7 1466.3,1022.6 1438.2,1022.6 1437.1,1007.9 1423.6,1007.9 1423.6,994.4 1411.2,993.3 1411.2,979.8 1380.9,979.8 1380.9,994.4 1366.2,994.4 1366.2,966.3 1355.0,966.3" fill="#a0a0a0"/>
<polygon points="1498.9,993.3 1513.5,993.3 1513.5,1006.8 1498.9,1006.8" fill="#6e6e6e"/>
<polygon points="1406.7,1022.6 1437.1,1022.6 1437.1,1037.2 1406.7,1037.2" fill="#a0a0a0"/>
<polygon points="1611.4,1077.6 1640.6,1077.6 1640.6,1091.1 1654.1,1091.1 1654.1,1105.8 1667.6,1105.8 1667.6,1119.2 1681.1,1120.4 1681.1,1133.9 1710.3,1133.9 1710.3,1148.5 1723.8,1148.5 1721.5,1177.7 1633.8,1178.8 1633.8,1164.2 1648.5,1164.2 1648.5,1149.6 1636.1,1149.6 1636.1,1136.1 1606.9,1135.0" fill="#a0a0a0"/>
<polygon points="1434.8,1196.8 1465.2,1195.7 1465.2,1209.2 1494.4,1209.2 1495.5,1195.7 1555.1,1194.6 1551.8,1238.4 1448.3,1239.6 1448.3,1210.3 1434.8,1210.3" fill="#a0a0a0"/>
<polygon points="1355.0,1227.2 1403.3,1226.1 1403.3,1239.6 1416.8,1239.6 1416.8,1254.2 1400.0,1255.3 1398.8,1281.2 1369.6,1281.2 1369.6,1268.8 1355.0,1268.8" fill="#a0a0a0"/>
<polygon points="1579.9,1266.5 1593.4,1266.5 1592.2,1281.2 1577.6,1281.2" fill="#a0a0a0"/>
<polygon points="1355.0,1009.1 1362.9,1009.1 1362.9,1023.7 1376.4,1023.7 1374.1,1066.4 1403.3,1066.4 1403.3,1079.9 1418.0,1079.9 1418.0,1066.4 1462.9,1066.4 1460.7,1094.5 1491.0,1093.4 1491.0,1079.9 1505.7,1079.9 1505.7,1093.4 1549.5,1093.4 1549.5,1108.0 1563.0,1108.0 1561.9,1136.1 1591.1,1136.1 1587.7,1178.8 1602.4,1180.0 1602.4,1193.5 1614.7,1194.6 1614.7,1208.1 1629.3,1208.1 1629.3,1222.7 1642.8,1223.8 1642.8,1237.3 1656.3,1237.3 1655.2,1250.8 1626.0,1251.9 1627.1,1237.3 1582.1,1237.3 1583.2,1223.8 1568.6,1222.7 1569.8,1194.6 1556.3,1193.5 1556.3,1180.0 1377.5,1183.3 1377.5,1196.8 1355.0,1196.8 1355.0,1139.5 1367.4,1139.5 1367.4,1126.0 1384.2,1124.9 1385.4,1095.6 1355.0,1095.6" fill="#3c3c3c"/>
<polygon points="1614.7,1033.8 1645.1,1033.8 1642.8,1063.0 1612.5,1063.0" fill="#3c3c3c"/>
<polygon points="1672.1,1061.9 1717.0,1061.9 1715.9,1075.4 1730.5,1075.4 1730.5,1104.6 1712.5,1104.6 1712.5,1119.2 1697.9,1119.2 1697.9,1105.8 1684.4,1105.8 1684.4,1091.1 1669.8,1091.1" fill="#3c3c3c"/>
<polygon points="1674.3,1206.9 1688.9,1206.9 1687.8,1221.6 1673.2,1221.6" fill="#3c3c3c"/>
<polygon points="1431.5,1081.0 1446.1,1081.0 1446.1,1094.5 1459.6,1095.6 1457.3,1123.7 1471.9,1123.7 1471.9,1137.2 1515.8,1137.2 1515.8,1151.9 1530.4,1151.9 1532.6,1122.6 1547.3,1121.5 1547.3,1137.2 1560.8,1137.2 1558.5,1165.3 1453.9,1166.5 1453.9,1151.9 1440.5,1151.9 1440.5,1138.4 1427.0,1138.4 1427.0,1123.7 1413.5,1123.7 1414.6,1095.6 1431.5,1095.6" fill="#c6c6c6"/>
<polygon points="1380.9,1139.5 1411.2,1138.4 1411.2,1153.0 1395.5,1154.1 1395.5,1167.6 1365.1,1168.7 1362.9,1182.2 1355.0,1182.2 1355.0,1154.1 1380.9,1154.1" fill="#c6c6c6"/>
<polygon points="1355.0,904.5 1461.8,904.5 1461.8,937.1 1444.9,937.1 1443.8,950.6 1458.4,950.6 1455.1,993.3 1440.5,993.3 1440.5,978.7 1427.0,978.7 1427.0,965.2 1413.5,965.2 1413.5,951.7 1385.4,950.6 1385.4,937.1 1370.7,937.1 1370.7,922.5 1355.0,922.5" fill="#000000"/>
<polygon points="1537.1,904.5 1685.6,904.5 1685.6,919.1 1669.8,919.1 1669.8,933.7 1639.5,933.7 1639.5,948.3 1608.0,948.3 1605.7,976.5 1591.1,976.5 1591.1,963.0 1577.6,963.0 1577.6,948.3 1563.0,948.3 1563.0,933.7 1534.9,933.7" fill="#000000"/>
<polygon points="1086.3,1551.0 1102.1,1551.0 1100.9,1565.6 1114.4,1565.6 1114.4,1579.1 1085.2,1580.2" fill="#6e6e6e"/>
<polygon points="1007.6,1595.9 1022.2,1595.9 1021.1,1609.4 1006.5,1609.4" fill="#6e6e6e"/>
<polygon points="1184.1,1475.6 1213.4,1475.6 1213.4,1490.3 1184.1,1490.3" fill="#6e6e6e"/>
<polygon points="1040.2,1280.0 1262.8,1280.0 1260.6,1314.9 1275.2,1314.9 1273.0,1343.0 1258.3,1343.0 1258.3,1329.5 1228.0,1330.6 1228.0,1344.1 1213.4,1344.1 1213.4,1330.6 1199.9,1330.6 1201.0,1302.5 1141.4,1302.5 1135.8,1359.8 1120.0,1361.0 1118.9,1390.2 1102.1,1390.2 1100.9,1419.4 1071.7,1419.4 1072.8,1390.2 1058.2,1390.2 1059.3,1375.6 1049.2,1332.8 1020.0,1334.0 1021.1,1304.7 1038.0,1303.6" fill="#a0a0a0"/>
<polygon points="1051.5,1303.6 1066.1,1303.6 1064.9,1318.2 1078.4,1318.2 1078.4,1332.8 1063.8,1332.8 1051.5,1318.2" fill="#6e6e6e"/>
<polygon points="1098.7,1280.0 1114.4,1280.0 1112.2,1287.9 1098.7,1287.9" fill="#6e6e6e"/>
<polygon points="1000.9,1347.5 1016.6,1347.5 1014.4,1376.7 998.6,1376.7" fill="#a0a0a0"/>
<polygon points="980.6,1334.0 987.4,1334.0 987.4,1348.6 980.6,1348.6" fill="#a0a0a0"/>
<polygon points="1133.5,1390.2 1148.2,1390.2 1145.9,1418.3 1131.3,1418.3" fill="#c6c6c6"/>
<polygon points="1115.5,1419.4 1130.2,1419.4 1127.9,1447.5 1142.5,1448.7 1143.7,1432.9 1187.5,1432.9 1185.3,1475.6 1170.6,1475.6 1169.5,1490.3 1153.8,1490.3 1152.6,1504.9 1136.9,1504.9 1134.7,1534.1 1089.7,1535.2 1090.8,1521.7 1060.5,1521.7 1061.6,1507.1 1077.3,1507.1 1078.4,1477.9 1080.7,1463.3 1096.4,1463.3 1097.6,1448.7 1113.3,1448.7" fill="#c6c6c6"/>
<polygon points="1030.1,1508.2 1044.7,1508.2 1044.7,1521.7 1059.3,1521.7 1058.2,1536.4 1027.8,1537.5 1025.6,1565.6 995.2,1566.7 994.1,1580.2 980.6,1581.3 980.6,1538.6 998.6,1537.5 998.6,1524.0 1030.1,1522.9" fill="#c6c6c6"/>
<polygon points="1303.3,1329.5 1333.7,1329.5 1333.7,1343.0 1347.2,1343.0 1346.0,1371.1 1356.2,1371.1 1356.2,1473.4 1349.4,1474.5 1348.3,1488.0 1333.7,1489.1 1332.5,1502.6 1317.9,1502.6 1316.8,1517.2 1330.3,1518.4 1330.3,1531.9 1343.8,1531.9 1342.7,1561.1 1356.2,1561.1 1356.2,1653.3 1032.3,1653.3 1033.5,1639.8 1063.8,1637.5 1064.9,1624.1 1095.3,1624.1 1097.6,1594.8 1129.0,1593.7 1130.2,1579.1 1144.8,1579.1 1145.9,1564.5 1206.6,1563.3 1207.7,1548.7 1238.1,1547.6 1243.7,1490.3 1258.3,1489.1 1260.6,1461.0 1276.3,1459.9 1279.7,1417.2 1295.4,1417.2" fill="#c6c6c6"/>
<polygon points="1109.9,1626.3 1199.9,1626.3 1199.9,1653.3 1109.9,1653.3" fill="#b4b4b4" filter="url(#bll)"/>
<polygon points="1267.3,1561.1 1301.1,1561.1 1289.8,1617.3 1256.1,1617.3" fill="#b4b4b4" filter="url(#bll)"/>
<polygon points="1307.8,1423.9 1356.2,1423.9 1356.2,1459.9 1307.8,1459.9" fill="#b4b4b4" filter="url(#bll)"/>
<polygon points="1100.9,1477.9 1132.4,1477.9 1130.2,1504.9 1098.7,1504.9" fill="#b4b4b4" filter="url(#bll)"/>
<polygon points="1447.2,1399.2 1461.8,1399.2 1456.2,1457.6 1441.6,1457.6" fill="#6e6e6e"/>
<polygon points="1644.0,1367.7 1658.6,1367.7 1658.6,1382.3 1642.8,1382.3 1640.6,1425.0 1624.8,1425.0 1626.0,1410.4 1611.4,1410.4 1611.4,1396.9 1627.1,1396.9 1628.2,1382.3 1644.0,1382.3" fill="#6e6e6e"/>
<polygon points="1382.0,1280.0 1398.8,1280.0 1396.6,1299.1 1425.8,1298.0 1424.7,1327.2 1395.5,1328.3 1395.5,1299.1 1382.0,1299.1" fill="#a0a0a0"/>
<polygon points="1577.6,1280.0 1622.6,1280.0 1621.5,1294.6 1576.5,1295.7" fill="#a0a0a0"/>
<polygon points="1558.5,1325.0 1573.1,1325.0 1568.6,1383.4 1539.4,1383.4 1542.8,1340.7 1557.4,1339.6" fill="#c6c6c6"/>
<polygon points="1686.7,1395.8 1701.3,1395.8 1700.2,1410.4 1685.6,1410.4" fill="#c6c6c6"/>
<polygon points="1355.0,1372.2 1374.1,1372.2 1373.0,1385.7 1387.6,1386.8 1386.5,1414.9 1400.0,1414.9 1400.0,1428.4 1384.2,1429.5 1380.9,1472.3 1355.0,1473.4" fill="#c6c6c6"/>
<polygon points="1355.0,1574.6 1370.7,1574.6 1371.9,1561.1 1386.5,1561.1 1388.7,1546.5 1403.3,1546.5 1404.5,1530.7 1434.8,1530.7 1436.0,1516.1 1451.7,1516.1 1453.9,1486.9 1498.9,1485.8 1500.0,1471.1 1530.4,1471.1 1529.3,1484.6 1558.5,1484.6 1557.4,1499.2 1617.0,1498.1 1617.0,1512.7 1646.2,1512.7 1645.1,1527.4 1704.7,1526.2 1703.5,1540.9 1673.2,1542.0 1672.1,1555.5 1641.7,1556.6 1640.6,1570.1 1655.2,1571.2 1650.7,1628.5 1681.1,1628.5 1682.2,1613.9 1712.5,1613.9 1710.3,1643.2 1355.0,1648.8" fill="#c6c6c6"/>
<polygon points="1422.5,1561.1 1579.9,1549.8 1591.1,1644.3 1355.0,1648.8 1355.0,1594.8" fill="#b4b4b4" filter="url(#bll)"/>
<polygon points="1355.0,1392.4 1368.5,1392.4 1366.2,1459.9 1355.0,1459.9" fill="#b4b4b4" filter="url(#bll)"/>
<polygon points="1728.7,1437.4 1737.3,1437.4 1737.3,1662.3 1355.0,1662.3 1355.0,1648.8 1710.3,1643.2" fill="#ffffff"/>
</g>
</g>
<g clip-path="url(#clipD)">
<g fill="none" stroke="#fff" stroke-width="1.1" stroke-linejoin="round"><path d="M981.2,1019.0 L997.9,1021.4 L1012.3,1028.6 L1021.9,1021.4 L1033.9,1016.6 L1033.9,995.0 L1045.9,978.3 L1072.2,975.9 L1093.8,983.1 L1113.0,997.4 L1136.9,1007.0 L1156.1,1008.5 L1168.1,1003.7 L1168.1,904.0"/><path d="M981.2,1023.8 L993.1,1033.4 L997.9,1052.6 L993.1,1081.3 L1007.5,1078.9 L1014.7,1093.3 L1007.5,1126.9 L1000.3,1105.3 L993.1,1114.9 L992.2,1134.1 L981.2,1124.5"/><path d="M981.2,1148.4 L986.0,1162.8 L981.2,1186.8 L988.3,1215.5 L997.9,1239.5 L1000.3,1282.6 L1017.1,1268.3 L1024.3,1246.7 L1041.1,1282.6 L1050.7,1321.0 L1062.6,1340.2 L1059.3,1373.7 L1084.2,1347.4 L1093.8,1325.8 L1113.0,1282.6 L1136.9,1258.7 L1156.1,1234.7 L1175.3,1222.7 L1204.1,1219.4 L1225.6,1222.7 L1243.4,1231.4 L1225.6,1244.3 L1216.0,1263.5 L1208.8,1287.4 L1201.7,1286.5 L1194.5,1273.1 L1175.3,1275.5 L1158.5,1289.8 L1148.9,1311.4 L1151.3,1340.2 L1156.1,1358.4 L1139.3,1358.4 L1132.1,1373.7 L1136.9,1407.3 L1141.7,1462.4 L1125.0,1459.0 L1108.2,1474.4 L1084.2,1507.9 L1072.2,1488.8 L1050.7,1467.2 L1048.3,1436.0 L1041.1,1419.3 L1029.1,1414.5 L1019.5,1424.1 L1019.5,1455.2 L1012.3,1493.6 L990.7,1500.7 L981.2,1522.3"/><path d="M981.2,1551.1 L990.7,1560.7 L983.6,1582.2 L995.5,1618.2 L1009.9,1630.2 L1031.5,1632.6 L1038.7,1625.4 L1053.1,1637.4 L1069.8,1627.8 L1127.4,1620.6 L1180.1,1627.8 L1218.4,1639.8 L1247.2,1650.3"/><path d="M1199.3,904.0 L1184.9,927.9 L1177.7,956.7 L1184.9,975.9 L1196.9,983.1 L1208.8,978.3 L1212.7,968.7 L1199.3,959.1 L1204.1,927.9 L1223.2,904.0"/><path d="M1391.0,904.0 L1405.4,925.5 L1429.3,935.1 L1438.9,944.7 L1436.5,961.5 L1426.9,978.3 L1438.9,983.1 L1453.3,973.5 L1462.9,975.9 L1465.3,992.6 L1482.1,998.9 L1491.7,963.9 L1510.8,966.3 L1549.2,992.6 L1582.7,1014.2 L1563.6,995.0 L1501.2,942.3 L1506.0,904.0"/><path d="M1084.2,947.1 L1108.2,955.7 L1141.7,942.3 L1182.5,923.1 L1170.5,918.3"/><path d="M981.2,1642.2 L997.9,1644.5 L1007.5,1651.7"/></g>
</g>
<rect x="991.2" y="916.9" width="179.9" height="31.4" rx="4.5" fill="#000"/>
<text x="997.2" y="939.4" font-size="21.38" text-anchor="start" textLength="168.7" lengthAdjust="spacingAndGlyphs" fill="#fff" font-weight="bold">WMG Count: 0</text>
<rect x="980.6" y="903.5" width="748.8" height="749.8" fill="none" stroke="#000" stroke-width="2.8"/>
</svg></body></html>
